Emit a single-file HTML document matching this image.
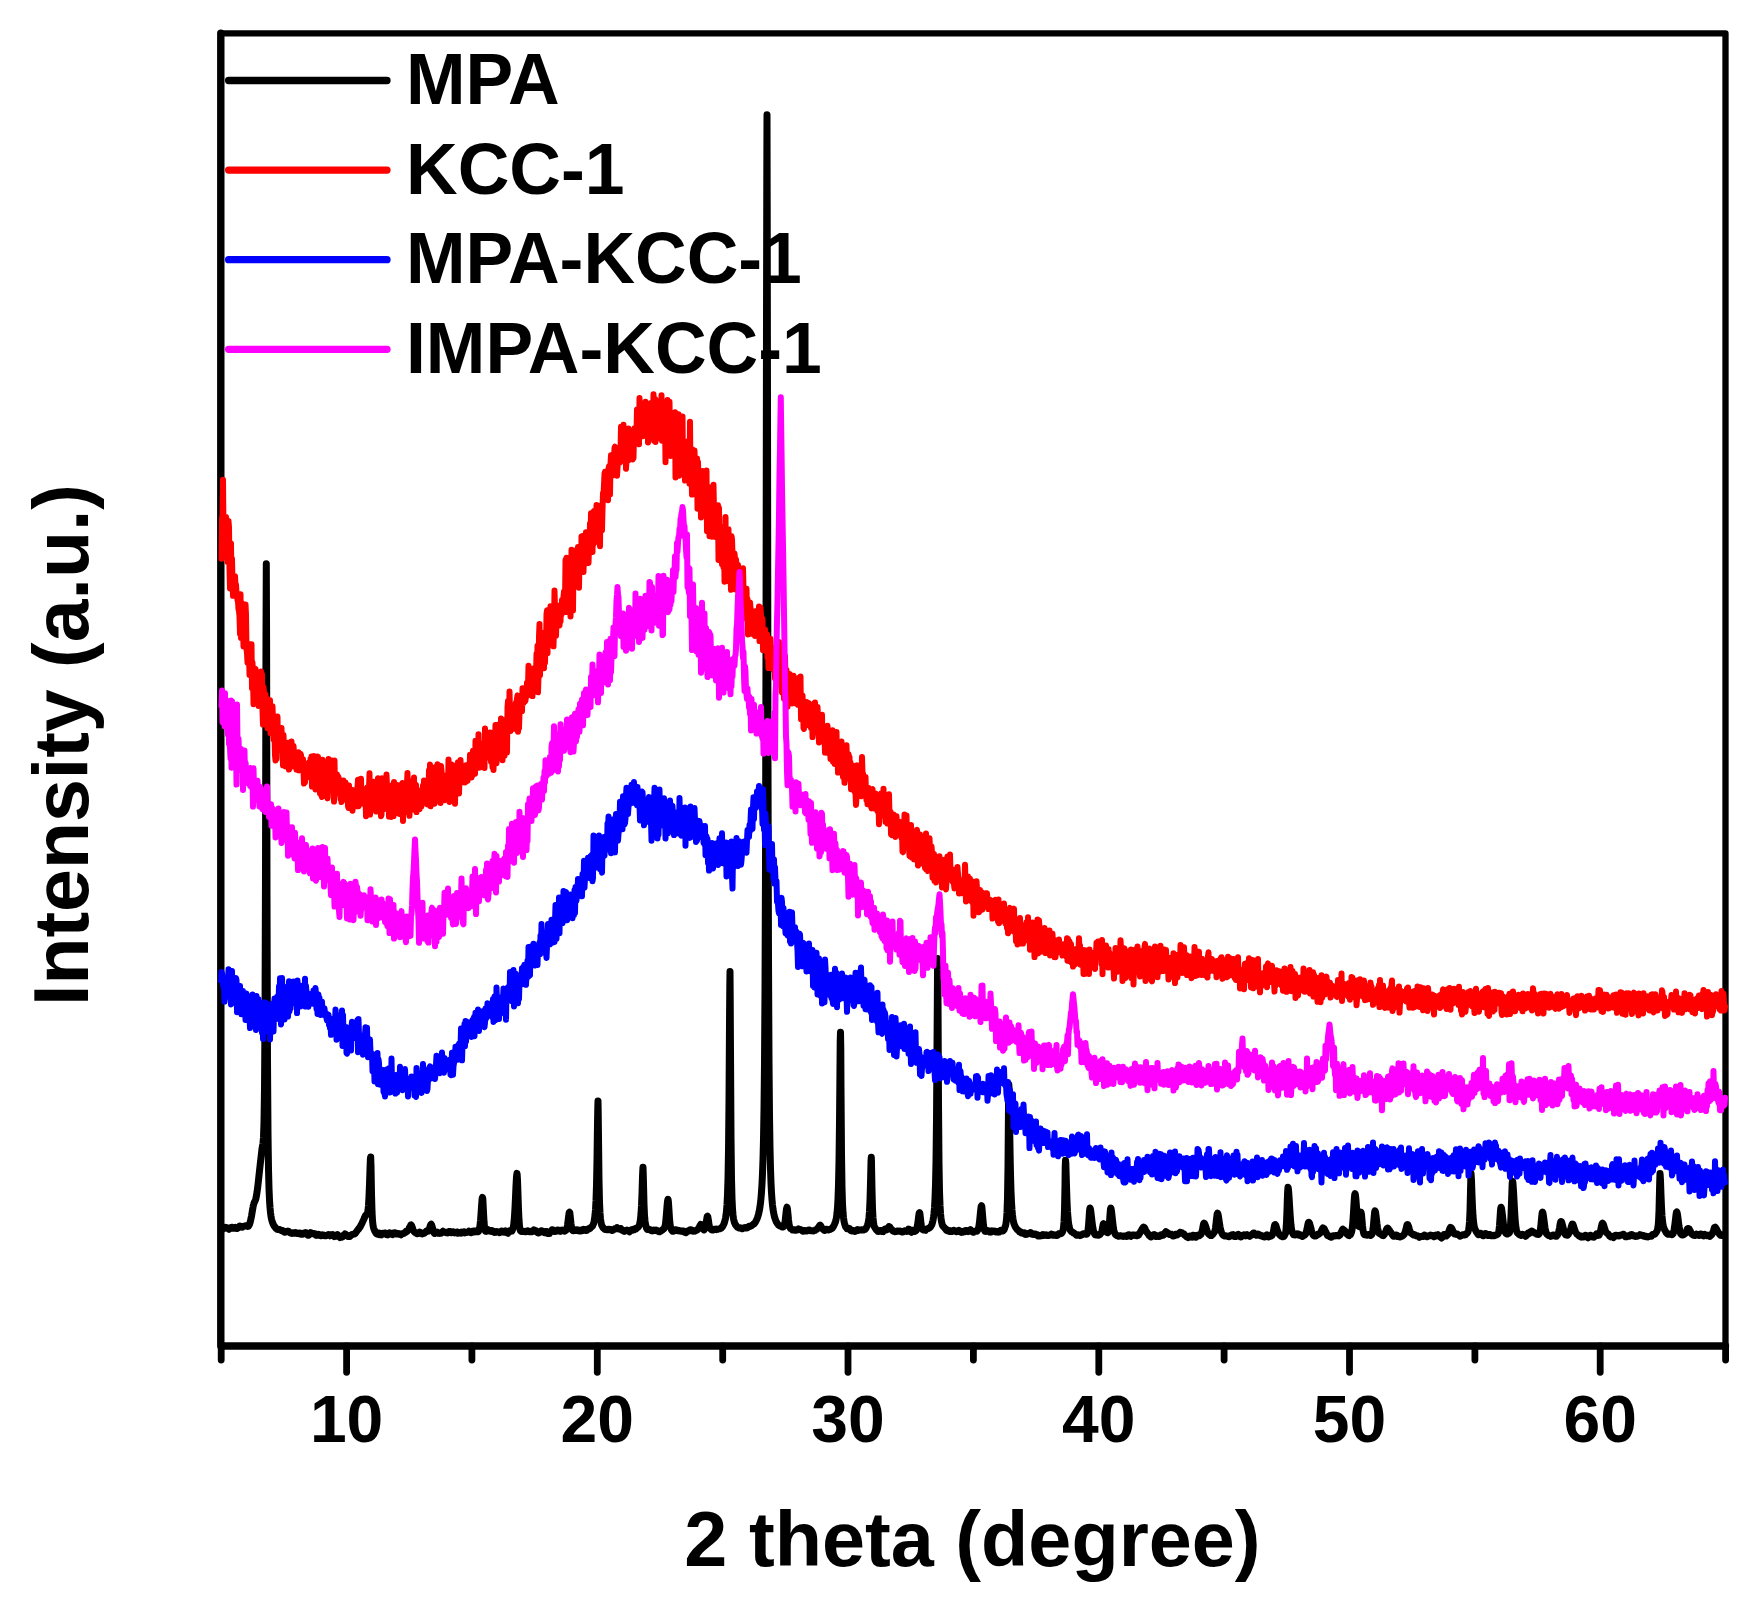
<!DOCTYPE html>
<html lang="en"><head><meta charset="utf-8"><title>XRD patterns</title>
<style>html,body{margin:0;padding:0;background:#fff}svg{display:block}</style></head>
<body>
<svg width="1760" height="1611" viewBox="0 0 1760 1611">
<rect width="1760" height="1611" fill="#fff"/>
<g fill="none" stroke="#000" stroke-width="6.8" stroke-linecap="round" stroke-linejoin="round">
<path d="M221 33.3 H1725.5 V1346" stroke-width="6.3"/>
<path d="M220.8 33.3 V1346 H1725.5" stroke-width="7.4"/>
<path d="M221.2 1346 V1360"/>
<path d="M346.6 1346 V1372.3"/>
<path d="M471.9 1346 V1360"/>
<path d="M597.3 1346 V1372.3"/>
<path d="M722.7 1346 V1360"/>
<path d="M848.0 1346 V1372.3"/>
<path d="M973.4 1346 V1360"/>
<path d="M1098.8 1346 V1372.3"/>
<path d="M1224.1 1346 V1360"/>
<path d="M1349.5 1346 V1372.3"/>
<path d="M1474.9 1346 V1360"/>
<path d="M1600.2 1346 V1372.3"/>
<path d="M1725.6 1346 V1360"/>
</g>
<g fill="none" stroke-linejoin="round" stroke-linecap="round">
<path d="M222.5 1229.3 L223.0 1228.7 L223.5 1228.6 L224.0 1227.9 L224.5 1227.7 L225.0 1227.4 L225.5 1228.0 L226.0 1227.9 L226.5 1227.6 L227.0 1227.9 L227.5 1228.4 L228.0 1228.9 L228.5 1229.0 L229.0 1229.3 L229.5 1228.8 L230.0 1228.1 L230.5 1227.8 L231.0 1227.5 L231.5 1227.2 L232.0 1227.3 L232.5 1228.2 L233.0 1227.9 L233.5 1227.9 L234.0 1228.1 L234.5 1228.3 L235.0 1227.8 L235.5 1227.4 L236.0 1227.6 L236.5 1228.0 L237.0 1228.4 L237.5 1228.0 L238.0 1228.0 L238.5 1227.8 L239.0 1226.9 L239.5 1226.1 L240.0 1226.1 L240.5 1226.5 L241.0 1226.6 L241.5 1226.8 L242.0 1227.1 L242.5 1227.2 L243.0 1226.4 L243.5 1226.2 L244.0 1226.4 L244.5 1225.9 L245.0 1225.9 L245.5 1225.7 L246.0 1225.7 L246.5 1225.9 L247.0 1226.1 L247.5 1226.1 L248.0 1226.4 L248.5 1226.3 L249.0 1225.3 L249.5 1224.4 L250.0 1222.8 L250.5 1220.9 L251.0 1218.5 L251.5 1216.1 L252.0 1213.1 L252.5 1210.1 L253.0 1207.3 L253.2 1206.0 L253.5 1204.9 L253.8 1203.9 L254.0 1203.1 L254.5 1202.0 L255.0 1201.1 L255.5 1199.8 L256.0 1198.0 L256.5 1195.5 L257.0 1192.4 L257.5 1188.7 L258.0 1184.6 L258.5 1180.1 L259.0 1175.5 L259.5 1170.9 L260.0 1166.4 L260.5 1161.9 L261.0 1157.6 L261.5 1153.2 L261.6 1152.8 L261.8 1150.4 L262.0 1148.7 L262.1 1148.4 L262.5 1145.9 L263.0 1143.3 L263.5 1137.2 L264.0 1122.4 L264.5 1089.1 L265.0 1018.0 L265.5 870.0 L266.0 635.6 L266.1 615.2 L266.3 563.7 L266.5 614.4 L266.6 639.5 L267.0 897.0 L267.5 1060.8 L268.0 1133.5 L268.5 1169.0 L269.0 1188.4 L269.5 1200.1 L270.0 1207.5 L270.5 1212.7 L271.0 1216.3 L271.5 1219.0 L272.0 1221.0 L272.5 1222.5 L273.0 1223.8 L273.5 1224.9 L274.0 1225.8 L274.5 1226.3 L275.0 1227.1 L275.5 1227.8 L276.0 1228.4 L276.5 1228.5 L277.0 1229.2 L277.5 1229.3 L278.0 1229.5 L278.5 1229.5 L279.0 1229.5 L279.5 1229.4 L280.0 1229.8 L280.5 1229.9 L281.0 1230.3 L281.5 1230.7 L282.0 1230.6 L282.5 1230.6 L283.0 1231.3 L283.5 1231.5 L284.0 1231.7 L284.5 1232.2 L285.0 1232.2 L285.5 1231.6 L286.0 1231.7 L286.5 1231.8 L287.0 1231.2 L287.5 1231.2 L288.0 1231.4 L288.5 1231.3 L289.0 1231.9 L289.5 1232.2 L290.0 1232.8 L290.5 1233.0 L291.0 1233.0 L291.5 1232.9 L292.0 1233.4 L292.5 1232.9 L293.0 1233.2 L293.5 1232.9 L294.0 1232.8 L294.5 1232.7 L295.0 1233.1 L295.5 1232.6 L296.0 1233.1 L296.5 1233.0 L297.0 1233.4 L297.5 1233.1 L298.0 1233.4 L298.5 1233.4 L299.0 1233.1 L299.5 1233.7 L300.0 1234.0 L300.5 1233.5 L301.0 1234.1 L301.5 1234.2 L302.0 1233.4 L302.5 1233.8 L303.0 1234.1 L303.5 1233.5 L304.0 1233.7 L304.5 1233.5 L305.0 1232.7 L305.5 1232.6 L306.0 1232.7 L306.5 1233.2 L307.0 1233.5 L307.5 1234.7 L308.0 1235.3 L308.5 1235.2 L309.0 1234.9 L309.5 1234.0 L310.0 1233.1 L310.5 1232.6 L311.0 1232.9 L311.5 1233.1 L312.0 1233.6 L312.5 1233.8 L313.0 1233.6 L313.5 1233.5 L314.0 1233.4 L314.5 1233.8 L315.0 1233.7 L315.5 1234.9 L316.0 1235.4 L316.5 1235.3 L317.0 1235.0 L317.5 1235.2 L318.0 1234.6 L318.5 1234.2 L319.0 1234.4 L319.5 1234.9 L320.0 1235.5 L320.5 1235.8 L321.0 1235.8 L321.5 1235.8 L322.0 1235.4 L322.5 1234.8 L323.0 1235.1 L323.5 1235.0 L324.0 1235.5 L324.5 1235.5 L325.0 1235.8 L325.5 1235.6 L326.0 1235.8 L326.5 1235.2 L327.0 1235.3 L327.5 1235.1 L328.0 1234.7 L328.5 1234.5 L329.0 1234.9 L329.5 1234.9 L330.0 1235.7 L330.5 1234.9 L331.0 1235.1 L331.5 1234.8 L332.0 1234.7 L332.5 1234.5 L333.0 1235.7 L333.5 1235.6 L334.0 1235.5 L334.5 1236.6 L335.0 1236.3 L335.5 1236.2 L336.0 1236.2 L336.5 1236.1 L337.0 1234.8 L337.5 1234.6 L338.0 1235.3 L338.5 1235.8 L339.0 1236.0 L339.5 1236.8 L340.0 1237.5 L340.5 1236.9 L341.0 1237.2 L341.5 1237.3 L342.0 1237.0 L342.5 1237.0 L343.0 1236.1 L343.5 1235.2 L344.0 1235.0 L344.5 1234.6 L345.0 1234.0 L345.5 1234.6 L346.0 1234.6 L346.5 1235.3 L347.0 1235.8 L347.5 1235.8 L348.0 1236.4 L348.5 1236.4 L349.0 1235.9 L349.5 1235.7 L350.0 1236.2 L350.5 1235.3 L351.0 1235.4 L351.5 1235.1 L352.0 1234.5 L352.5 1234.2 L353.0 1234.2 L353.5 1234.1 L354.0 1234.0 L354.5 1234.1 L355.0 1233.5 L355.5 1233.4 L356.0 1232.3 L356.5 1231.7 L357.0 1230.9 L357.5 1230.4 L358.0 1229.6 L358.5 1229.2 L359.0 1228.3 L359.5 1227.8 L360.0 1227.1 L360.5 1226.1 L361.0 1225.1 L361.5 1224.2 L362.0 1223.2 L362.5 1222.1 L363.0 1221.0 L363.5 1220.0 L364.0 1218.9 L364.5 1217.8 L365.0 1216.5 L365.2 1216.0 L365.5 1215.4 L365.8 1215.1 L366.0 1214.9 L366.5 1214.7 L367.0 1214.3 L367.5 1213.2 L368.0 1210.5 L368.5 1205.3 L369.0 1196.7 L369.5 1184.2 L370.0 1169.2 L370.4 1158.7 L370.5 1158.1 L370.7 1157.0 L370.9 1163.3 L371.0 1165.7 L371.5 1193.6 L372.0 1211.5 L372.5 1220.4 L373.0 1225.1 L373.5 1227.7 L374.0 1229.3 L374.5 1230.1 L375.0 1231.6 L375.5 1232.2 L376.0 1233.2 L376.5 1233.7 L377.0 1234.0 L377.5 1233.1 L378.0 1233.0 L378.5 1233.1 L379.0 1233.0 L379.5 1233.6 L380.0 1234.7 L380.5 1234.4 L381.0 1234.2 L381.5 1234.8 L382.0 1234.4 L382.5 1233.5 L383.0 1233.9 L383.5 1233.7 L384.0 1233.2 L384.5 1233.1 L385.0 1233.8 L385.5 1233.1 L386.0 1233.5 L386.5 1233.9 L387.0 1234.6 L387.5 1234.1 L388.0 1234.9 L388.5 1233.6 L389.0 1233.2 L389.5 1232.7 L390.0 1232.9 L390.5 1232.9 L391.0 1233.9 L391.5 1234.1 L392.0 1234.2 L392.5 1234.6 L393.0 1233.8 L393.5 1233.3 L394.0 1232.8 L394.5 1232.8 L395.0 1232.7 L395.5 1233.9 L396.0 1234.0 L396.5 1234.0 L397.0 1234.0 L397.5 1233.9 L398.0 1233.5 L398.5 1233.6 L399.0 1234.2 L399.5 1233.9 L400.0 1234.4 L400.5 1234.2 L401.0 1234.8 L401.5 1233.8 L402.0 1234.1 L402.5 1233.5 L403.0 1233.6 L403.5 1233.5 L404.0 1233.5 L404.5 1232.8 L405.0 1232.6 L405.5 1232.5 L406.0 1231.4 L406.5 1231.6 L407.0 1231.4 L407.5 1231.0 L408.0 1230.2 L408.5 1229.9 L409.0 1228.6 L409.5 1227.6 L410.0 1226.5 L410.5 1225.6 L410.8 1225.0 L411.0 1224.9 L411.2 1225.1 L411.5 1225.4 L412.0 1226.6 L412.5 1228.3 L413.0 1229.7 L413.5 1230.7 L414.0 1231.5 L414.5 1231.9 L415.0 1232.5 L415.5 1232.5 L416.0 1233.1 L416.5 1233.4 L417.0 1233.8 L417.5 1233.5 L418.0 1233.6 L418.5 1233.3 L419.0 1232.9 L419.5 1232.1 L420.0 1232.3 L420.5 1232.8 L421.0 1233.3 L421.5 1233.8 L422.0 1233.9 L422.5 1233.7 L423.0 1233.2 L423.5 1233.0 L424.0 1232.9 L424.5 1233.1 L425.0 1232.3 L425.5 1232.3 L426.0 1232.0 L426.5 1231.0 L427.0 1230.7 L427.5 1231.3 L428.0 1231.3 L428.5 1230.5 L429.0 1229.8 L429.5 1228.5 L430.0 1226.5 L430.5 1225.0 L430.8 1224.6 L431.0 1224.4 L431.2 1224.2 L431.5 1224.7 L432.0 1226.1 L432.5 1227.9 L433.0 1229.7 L433.5 1231.3 L434.0 1232.8 L434.5 1233.4 L435.0 1233.0 L435.5 1232.9 L436.0 1233.0 L436.5 1232.6 L437.0 1232.3 L437.5 1233.2 L438.0 1233.1 L438.5 1233.1 L439.0 1233.3 L439.5 1233.4 L440.0 1232.9 L440.5 1233.2 L441.0 1233.2 L441.5 1232.6 L442.0 1232.4 L442.5 1232.0 L443.0 1231.3 L443.5 1232.1 L444.0 1232.0 L444.5 1232.2 L445.0 1232.3 L445.5 1232.3 L446.0 1232.2 L446.5 1232.8 L447.0 1232.6 L447.5 1233.0 L448.0 1232.9 L448.5 1232.1 L449.0 1231.5 L449.5 1231.4 L450.0 1231.5 L450.5 1232.0 L451.0 1232.4 L451.5 1232.7 L452.0 1232.5 L452.5 1232.3 L453.0 1231.8 L453.5 1231.9 L454.0 1232.2 L454.5 1232.9 L455.0 1232.8 L455.5 1232.5 L456.0 1232.5 L456.5 1232.7 L457.0 1232.0 L457.5 1232.1 L458.0 1233.2 L458.5 1232.4 L459.0 1232.6 L459.5 1233.0 L460.0 1232.6 L460.5 1232.6 L461.0 1233.1 L461.5 1232.3 L462.0 1232.7 L462.5 1232.4 L463.0 1232.5 L463.5 1232.1 L464.0 1232.4 L464.5 1232.0 L465.0 1232.8 L465.5 1232.5 L466.0 1232.4 L466.5 1232.6 L467.0 1232.6 L467.5 1232.2 L468.0 1231.8 L468.5 1231.8 L469.0 1231.2 L469.5 1231.6 L470.0 1231.8 L470.5 1232.2 L471.0 1232.7 L471.5 1232.6 L472.0 1231.6 L472.5 1231.4 L473.0 1231.1 L473.5 1230.9 L474.0 1231.0 L474.5 1231.9 L475.0 1231.5 L475.5 1230.9 L476.0 1230.9 L476.5 1231.7 L477.0 1231.4 L477.5 1231.5 L478.0 1231.7 L478.5 1231.4 L479.0 1230.2 L479.5 1228.4 L480.0 1225.6 L480.5 1220.8 L481.0 1214.3 L481.5 1206.7 L482.0 1200.2 L482.2 1198.2 L482.5 1197.5 L482.8 1198.8 L483.0 1202.3 L483.5 1212.3 L484.0 1221.4 L484.5 1227.1 L485.0 1230.2 L485.5 1231.3 L486.0 1231.4 L486.5 1231.0 L487.0 1230.8 L487.5 1230.1 L488.0 1229.6 L488.5 1230.2 L489.0 1230.8 L489.5 1231.0 L490.0 1231.1 L490.5 1231.2 L491.0 1230.7 L491.5 1231.2 L492.0 1230.6 L492.5 1231.0 L493.0 1231.8 L493.5 1232.1 L494.0 1231.4 L494.5 1232.4 L495.0 1232.0 L495.5 1231.9 L496.0 1232.3 L496.5 1232.1 L497.0 1231.6 L497.5 1232.0 L498.0 1232.1 L498.5 1232.1 L499.0 1232.6 L499.5 1232.7 L500.0 1232.2 L500.5 1232.0 L501.0 1231.6 L501.5 1231.0 L502.0 1231.2 L502.5 1231.7 L503.0 1232.0 L503.5 1231.5 L504.0 1232.0 L504.5 1231.6 L505.0 1231.3 L505.5 1230.9 L506.0 1231.6 L506.5 1232.5 L507.0 1232.8 L507.5 1233.1 L508.0 1233.3 L508.5 1232.3 L509.0 1231.5 L509.5 1230.9 L510.0 1231.1 L510.5 1231.1 L511.0 1231.3 L511.5 1230.6 L512.0 1230.9 L512.5 1229.8 L513.0 1228.3 L513.5 1226.1 L514.0 1222.2 L514.5 1216.1 L515.0 1207.7 L515.5 1197.2 L516.0 1186.0 L516.5 1177.0 L516.8 1174.4 L517.0 1173.4 L517.2 1175.2 L517.5 1180.0 L518.0 1194.7 L518.5 1209.3 L519.0 1219.9 L519.5 1226.0 L520.0 1229.3 L520.5 1230.8 L521.0 1231.3 L521.5 1231.5 L522.0 1231.4 L522.5 1231.2 L523.0 1231.1 L523.5 1231.4 L524.0 1231.4 L524.5 1231.6 L525.0 1231.4 L525.5 1231.7 L526.0 1231.3 L526.5 1231.5 L527.0 1231.3 L527.5 1231.5 L528.0 1230.9 L528.5 1231.6 L529.0 1231.6 L529.5 1231.8 L530.0 1231.6 L530.5 1231.6 L531.0 1231.3 L531.5 1231.7 L532.0 1231.3 L532.5 1231.3 L533.0 1231.4 L533.5 1231.0 L534.0 1229.9 L534.5 1230.4 L535.0 1230.9 L535.5 1230.5 L536.0 1230.7 L536.5 1231.6 L537.0 1232.0 L537.5 1231.6 L538.0 1232.9 L538.5 1233.0 L539.0 1232.4 L539.5 1232.4 L540.0 1232.1 L540.5 1231.7 L541.0 1231.0 L541.5 1231.6 L542.0 1231.0 L542.5 1231.8 L543.0 1231.7 L543.5 1232.3 L544.0 1232.1 L544.5 1232.6 L545.0 1231.6 L545.5 1231.5 L546.0 1231.5 L546.5 1231.7 L547.0 1231.6 L547.5 1233.4 L548.0 1233.3 L548.5 1233.5 L549.0 1233.3 L549.5 1233.5 L550.0 1231.6 L550.5 1232.1 L551.0 1231.6 L551.5 1230.8 L552.0 1229.8 L552.5 1230.5 L553.0 1229.9 L553.5 1230.1 L554.0 1231.2 L554.5 1231.5 L555.0 1231.6 L555.5 1230.8 L556.0 1230.9 L556.5 1231.0 L557.0 1230.8 L557.5 1230.2 L558.0 1230.5 L558.5 1230.8 L559.0 1230.3 L559.5 1230.2 L560.0 1230.5 L560.5 1231.2 L561.0 1230.4 L561.5 1230.3 L562.0 1230.0 L562.5 1230.2 L563.0 1230.2 L563.5 1230.3 L564.0 1230.8 L564.5 1231.2 L565.0 1231.1 L565.5 1230.6 L566.0 1230.2 L566.5 1229.3 L567.0 1227.8 L567.5 1225.1 L568.0 1221.5 L568.5 1217.3 L569.0 1213.7 L569.2 1212.6 L569.5 1212.3 L569.8 1212.7 L570.0 1214.3 L570.5 1219.1 L571.0 1223.7 L571.5 1227.2 L572.0 1229.5 L572.5 1230.3 L573.0 1229.8 L573.5 1230.7 L574.0 1230.0 L574.5 1229.8 L575.0 1230.1 L575.5 1230.4 L576.0 1229.7 L576.5 1229.7 L577.0 1229.8 L577.5 1229.8 L578.0 1230.2 L578.5 1230.7 L579.0 1230.9 L579.5 1231.0 L580.0 1230.5 L580.5 1231.0 L581.0 1230.9 L581.5 1230.4 L582.0 1230.0 L582.5 1230.6 L583.0 1229.6 L583.5 1229.3 L584.0 1230.0 L584.5 1229.9 L585.0 1229.7 L585.5 1230.5 L586.0 1230.3 L586.5 1230.4 L587.0 1230.3 L587.5 1229.6 L588.0 1229.1 L588.5 1229.2 L589.0 1228.6 L589.5 1228.8 L590.0 1228.4 L590.5 1227.8 L591.0 1227.2 L591.5 1227.0 L592.0 1226.4 L592.5 1226.0 L593.0 1224.9 L593.5 1223.7 L594.0 1221.9 L594.5 1219.1 L595.0 1215.3 L595.5 1209.7 L596.0 1200.7 L596.5 1185.4 L597.0 1159.7 L597.5 1123.2 L597.8 1107.3 L598.0 1100.9 L598.2 1112.4 L598.5 1137.4 L599.0 1180.1 L599.5 1202.1 L600.0 1213.0 L600.5 1218.9 L601.0 1222.4 L601.5 1224.7 L602.0 1225.8 L602.5 1226.8 L603.0 1227.6 L603.5 1228.3 L604.0 1228.6 L604.5 1229.1 L605.0 1229.5 L605.5 1229.4 L606.0 1229.4 L606.5 1229.8 L607.0 1229.7 L607.5 1229.5 L608.0 1229.3 L608.5 1229.7 L609.0 1229.4 L609.5 1229.2 L610.0 1229.5 L610.5 1229.6 L611.0 1229.5 L611.5 1230.0 L612.0 1230.5 L612.5 1230.2 L613.0 1230.3 L613.5 1229.4 L614.0 1229.5 L614.5 1228.9 L615.0 1228.5 L615.5 1228.8 L616.0 1228.7 L616.5 1228.1 L616.8 1228.0 L617.0 1228.1 L617.2 1227.6 L617.5 1227.7 L618.0 1228.3 L618.5 1228.9 L619.0 1228.6 L619.5 1228.7 L620.0 1229.2 L620.5 1229.0 L621.0 1228.7 L621.5 1230.0 L622.0 1230.2 L622.5 1230.5 L623.0 1230.6 L623.5 1230.9 L624.0 1230.6 L624.5 1231.4 L625.0 1231.0 L625.5 1230.8 L626.0 1230.8 L626.5 1230.8 L627.0 1230.1 L627.5 1230.6 L628.0 1231.1 L628.5 1231.3 L629.0 1231.2 L629.5 1231.7 L630.0 1231.1 L630.5 1230.4 L631.0 1230.0 L631.5 1229.9 L632.0 1229.6 L632.5 1230.2 L633.0 1229.9 L633.5 1229.6 L634.0 1229.2 L634.5 1229.6 L635.0 1228.9 L635.5 1229.1 L636.0 1228.9 L636.5 1228.6 L637.0 1227.7 L637.5 1227.5 L638.0 1227.2 L638.5 1226.7 L639.0 1225.7 L639.5 1224.8 L640.0 1222.4 L640.5 1219.0 L641.0 1213.9 L641.5 1206.0 L642.0 1193.3 L642.5 1176.6 L642.8 1169.9 L643.0 1167.3 L643.2 1172.4 L643.5 1183.6 L644.0 1204.2 L644.5 1215.3 L645.0 1220.9 L645.5 1224.2 L646.0 1226.3 L646.5 1228.1 L647.0 1228.9 L647.5 1229.6 L648.0 1229.6 L648.5 1229.6 L649.0 1229.5 L649.5 1229.4 L650.0 1229.4 L650.5 1230.2 L651.0 1230.6 L651.5 1230.4 L652.0 1230.5 L652.5 1230.8 L653.0 1230.2 L653.5 1230.1 L654.0 1230.3 L654.5 1230.6 L655.0 1230.5 L655.5 1230.6 L656.0 1230.2 L656.5 1230.7 L657.0 1230.7 L657.5 1230.6 L658.0 1230.8 L658.5 1231.4 L659.0 1231.3 L659.5 1231.7 L660.0 1231.3 L660.5 1231.2 L661.0 1231.0 L661.5 1230.6 L662.0 1230.3 L662.5 1230.0 L663.0 1229.3 L663.5 1229.0 L664.0 1228.7 L664.5 1227.7 L665.0 1226.3 L665.5 1223.6 L666.0 1218.9 L666.5 1213.0 L667.0 1206.6 L667.5 1201.4 L667.8 1199.8 L668.0 1199.3 L668.2 1200.2 L668.5 1202.9 L669.0 1210.7 L669.5 1218.6 L670.0 1223.8 L670.5 1226.9 L671.0 1228.5 L671.5 1230.0 L672.0 1230.4 L672.5 1231.1 L673.0 1230.6 L673.5 1231.0 L674.0 1230.0 L674.5 1230.2 L675.0 1229.8 L675.5 1230.3 L676.0 1229.9 L676.5 1230.5 L677.0 1230.2 L677.5 1230.7 L678.0 1230.5 L678.5 1230.6 L679.0 1230.6 L679.5 1230.6 L680.0 1230.9 L680.5 1230.9 L681.0 1230.9 L681.5 1231.2 L682.0 1231.0 L682.5 1231.0 L683.0 1231.6 L683.5 1231.1 L684.0 1231.3 L684.5 1232.1 L685.0 1231.9 L685.5 1231.9 L686.0 1232.6 L686.5 1231.6 L687.0 1231.3 L687.5 1231.3 L688.0 1230.9 L688.5 1230.6 L689.0 1230.9 L689.5 1230.2 L690.0 1229.8 L690.5 1229.9 L691.0 1229.8 L691.5 1230.0 L692.0 1230.3 L692.5 1230.8 L693.0 1231.2 L693.5 1231.1 L694.0 1230.9 L694.5 1230.8 L695.0 1231.1 L695.5 1230.5 L696.0 1230.2 L696.5 1230.3 L697.0 1230.0 L697.5 1229.7 L698.0 1228.9 L698.5 1228.8 L699.0 1227.9 L699.5 1226.8 L700.0 1225.6 L700.5 1224.8 L700.8 1224.4 L701.0 1224.5 L701.2 1224.7 L701.5 1225.0 L702.0 1226.6 L702.5 1227.6 L703.0 1228.5 L703.5 1229.2 L704.0 1229.9 L704.5 1229.2 L705.0 1228.5 L705.5 1227.0 L706.0 1224.0 L706.5 1220.6 L707.0 1217.5 L707.2 1216.4 L707.5 1216.2 L707.8 1216.7 L708.0 1217.8 L708.5 1220.9 L709.0 1224.4 L709.5 1226.7 L710.0 1228.3 L710.5 1228.8 L711.0 1229.3 L711.5 1229.7 L712.0 1229.8 L712.5 1230.1 L713.0 1230.0 L713.5 1230.0 L714.0 1229.3 L714.5 1229.5 L715.0 1229.3 L715.5 1229.3 L716.0 1229.1 L716.5 1229.6 L717.0 1229.3 L717.5 1229.3 L718.0 1229.2 L718.5 1229.1 L719.0 1228.9 L719.5 1228.7 L720.0 1228.7 L720.5 1228.6 L721.0 1228.3 L721.5 1227.5 L722.0 1227.3 L722.5 1226.8 L723.0 1225.8 L723.5 1224.8 L724.0 1223.7 L724.5 1222.3 L725.0 1220.3 L725.5 1218.3 L726.0 1215.1 L726.5 1210.9 L727.0 1204.5 L727.5 1194.7 L728.0 1178.6 L728.5 1150.8 L729.0 1101.0 L729.5 1023.3 L729.8 986.8 L730.0 971.5 L730.2 997.4 L730.5 1051.1 L731.0 1137.1 L731.5 1178.5 L732.0 1198.3 L732.5 1208.9 L733.0 1214.9 L733.5 1218.8 L734.0 1221.0 L734.5 1222.7 L735.0 1223.6 L735.5 1224.8 L736.0 1225.4 L736.5 1226.1 L737.0 1226.6 L737.5 1227.4 L738.0 1227.5 L738.5 1227.7 L739.0 1227.9 L739.5 1227.8 L740.0 1227.7 L740.5 1228.3 L741.0 1228.1 L741.5 1228.6 L742.0 1228.7 L742.5 1228.8 L743.0 1228.2 L743.5 1228.2 L744.0 1227.7 L744.5 1227.8 L745.0 1227.5 L745.5 1227.8 L746.0 1227.5 L746.5 1228.0 L747.0 1227.9 L747.5 1227.7 L748.0 1227.1 L748.5 1226.8 L749.0 1226.3 L749.5 1226.4 L750.0 1226.1 L750.5 1225.9 L751.0 1226.1 L751.5 1225.7 L752.0 1225.2 L752.5 1224.9 L753.0 1224.6 L753.5 1224.1 L754.0 1223.9 L754.5 1223.2 L755.0 1222.7 L755.5 1222.0 L756.0 1221.0 L756.5 1220.0 L757.0 1218.8 L757.5 1217.6 L758.0 1215.9 L758.5 1214.2 L759.0 1212.2 L759.5 1209.8 L760.0 1206.6 L760.5 1202.8 L761.0 1198.0 L761.5 1191.9 L762.0 1184.0 L762.5 1173.5 L763.0 1159.3 L763.5 1139.0 L764.0 1109.4 L764.5 1063.8 L765.0 990.0 L765.5 864.0 L766.0 645.8 L766.5 321.1 L766.8 174.7 L767.0 114.8 L767.2 203.7 L767.5 401.8 L768.0 762.9 L768.5 959.8 L769.0 1060.4 L769.5 1115.5 L770.0 1148.2 L770.5 1168.9 L771.0 1182.9 L771.5 1192.7 L772.0 1199.7 L772.5 1205.1 L773.0 1209.1 L773.5 1212.2 L774.0 1214.8 L774.5 1216.9 L775.0 1218.4 L775.5 1219.9 L776.0 1221.1 L776.5 1222.2 L777.0 1223.0 L777.5 1223.9 L778.0 1224.4 L778.5 1225.2 L779.0 1225.3 L779.5 1225.6 L780.0 1225.9 L780.5 1226.1 L781.0 1226.2 L781.5 1226.6 L782.0 1227.0 L782.5 1227.0 L783.0 1227.1 L783.5 1226.8 L784.0 1226.1 L784.5 1224.7 L785.0 1222.1 L785.5 1217.9 L786.0 1213.1 L786.5 1209.0 L786.8 1207.7 L787.0 1207.2 L787.2 1207.9 L787.5 1209.5 L788.0 1214.4 L788.5 1219.7 L789.0 1223.9 L789.5 1226.3 L790.0 1227.6 L790.5 1228.5 L791.0 1228.6 L791.5 1228.9 L792.0 1229.3 L792.5 1230.0 L793.0 1229.8 L793.5 1229.8 L794.0 1229.8 L794.5 1230.1 L795.0 1229.8 L795.5 1229.9 L796.0 1230.3 L796.5 1230.0 L797.0 1229.7 L797.5 1229.8 L798.0 1229.7 L798.5 1228.9 L799.0 1229.3 L799.5 1229.6 L800.0 1229.5 L800.5 1229.4 L801.0 1229.8 L801.5 1230.3 L802.0 1230.6 L802.5 1231.0 L803.0 1231.2 L803.5 1231.0 L804.0 1230.6 L804.5 1230.6 L805.0 1230.5 L805.5 1230.7 L806.0 1231.0 L806.5 1231.1 L807.0 1231.1 L807.5 1230.6 L808.0 1230.3 L808.5 1230.1 L809.0 1230.3 L809.5 1230.0 L810.0 1230.5 L810.5 1230.4 L811.0 1230.7 L811.5 1230.7 L812.0 1230.8 L812.5 1230.7 L813.0 1230.9 L813.5 1231.0 L814.0 1230.6 L814.5 1230.6 L815.0 1230.4 L815.5 1230.0 L816.0 1229.6 L816.5 1229.5 L817.0 1228.9 L817.5 1228.7 L818.0 1228.0 L818.5 1227.3 L819.0 1226.5 L819.5 1225.8 L819.8 1225.4 L820.0 1225.2 L820.2 1225.1 L820.5 1225.3 L821.0 1226.4 L821.5 1227.2 L822.0 1228.0 L822.5 1228.7 L823.0 1229.5 L823.5 1229.5 L824.0 1230.0 L824.5 1230.4 L825.0 1230.4 L825.5 1229.7 L826.0 1229.5 L826.5 1229.3 L827.0 1229.2 L827.5 1229.5 L828.0 1229.8 L828.5 1230.0 L829.0 1229.5 L829.5 1229.5 L830.0 1229.6 L830.5 1229.0 L831.0 1228.8 L831.5 1228.8 L832.0 1228.6 L832.5 1228.0 L833.0 1227.2 L833.5 1226.4 L834.0 1225.3 L834.5 1224.3 L835.0 1222.9 L835.5 1221.9 L836.0 1219.8 L836.5 1217.2 L837.0 1213.3 L837.5 1207.6 L838.0 1198.9 L838.5 1185.0 L839.0 1161.6 L839.5 1122.2 L840.0 1066.2 L840.2 1041.9 L840.5 1032.2 L840.8 1049.9 L841.0 1088.1 L841.5 1153.5 L842.0 1187.1 L842.5 1203.6 L843.0 1212.4 L843.5 1217.6 L844.0 1221.3 L844.5 1223.4 L845.0 1225.1 L845.5 1226.6 L846.0 1227.5 L846.5 1227.5 L847.0 1228.7 L847.5 1228.6 L848.0 1228.1 L848.5 1228.2 L849.0 1228.6 L849.5 1228.6 L850.0 1229.2 L850.5 1230.3 L851.0 1230.7 L851.5 1230.7 L852.0 1230.5 L852.5 1230.9 L853.0 1230.4 L853.5 1230.4 L854.0 1230.9 L854.5 1231.4 L855.0 1231.4 L855.5 1231.0 L856.0 1230.9 L856.5 1230.3 L857.0 1229.9 L857.5 1229.5 L858.0 1229.8 L858.5 1230.3 L859.0 1230.0 L859.5 1230.1 L860.0 1230.1 L860.5 1230.0 L861.0 1229.7 L861.5 1230.1 L862.0 1230.0 L862.5 1229.8 L863.0 1229.9 L863.5 1229.9 L864.0 1229.6 L864.5 1229.3 L865.0 1229.4 L865.5 1229.0 L866.0 1228.3 L866.5 1227.3 L867.0 1226.3 L867.5 1225.1 L868.0 1223.4 L868.5 1221.1 L869.0 1217.4 L869.5 1211.2 L870.0 1200.5 L870.5 1182.9 L871.0 1162.4 L871.0 1160.9 L871.3 1157.3 L871.5 1161.6 L871.5 1163.8 L872.0 1189.4 L872.5 1208.6 L873.0 1217.8 L873.5 1222.6 L874.0 1225.4 L874.5 1227.1 L875.0 1227.7 L875.5 1228.6 L876.0 1229.3 L876.5 1230.1 L877.0 1230.3 L877.5 1231.0 L878.0 1231.4 L878.5 1231.5 L879.0 1231.0 L879.5 1231.0 L880.0 1230.6 L880.5 1230.6 L881.0 1230.9 L881.5 1231.1 L882.0 1231.4 L882.5 1231.4 L883.0 1231.6 L883.5 1230.3 L884.0 1229.8 L884.5 1229.5 L885.0 1229.1 L885.5 1229.1 L886.0 1230.0 L886.5 1229.9 L887.0 1229.6 L887.5 1229.2 L888.0 1228.1 L888.5 1227.3 L889.0 1226.6 L889.2 1226.6 L889.5 1226.7 L889.8 1227.1 L890.0 1227.3 L890.5 1228.3 L891.0 1228.7 L891.5 1229.6 L892.0 1229.8 L892.5 1230.3 L893.0 1230.9 L893.5 1231.2 L894.0 1231.3 L894.5 1231.6 L895.0 1231.8 L895.5 1231.4 L896.0 1231.5 L896.5 1231.3 L897.0 1231.2 L897.5 1231.0 L898.0 1230.9 L898.5 1230.9 L899.0 1231.3 L899.5 1231.3 L900.0 1231.1 L900.5 1231.5 L901.0 1231.8 L901.5 1231.8 L902.0 1232.0 L902.5 1232.1 L903.0 1231.9 L903.5 1231.8 L904.0 1231.6 L904.5 1230.8 L905.0 1230.9 L905.5 1231.0 L906.0 1231.0 L906.5 1230.9 L907.0 1231.4 L907.5 1230.8 L908.0 1230.2 L908.5 1229.1 L909.0 1229.2 L909.5 1229.6 L910.0 1230.7 L910.5 1230.8 L911.0 1231.9 L911.5 1232.3 L912.0 1231.7 L912.5 1230.5 L913.0 1231.2 L913.5 1230.9 L914.0 1230.3 L914.5 1230.8 L915.0 1231.3 L915.5 1230.9 L916.0 1230.9 L916.5 1230.0 L917.0 1227.8 L917.5 1225.3 L918.0 1221.7 L918.5 1217.6 L919.0 1214.1 L919.2 1213.0 L919.5 1212.6 L919.8 1213.1 L920.0 1214.5 L920.5 1219.0 L921.0 1223.6 L921.5 1226.9 L922.0 1228.5 L922.5 1229.5 L923.0 1229.4 L923.5 1230.0 L924.0 1229.8 L924.5 1230.0 L925.0 1230.1 L925.5 1230.3 L926.0 1229.4 L926.5 1229.1 L927.0 1229.0 L927.5 1228.6 L928.0 1228.5 L928.5 1228.5 L929.0 1228.4 L929.5 1227.9 L930.0 1227.6 L930.5 1226.7 L931.0 1226.3 L931.5 1225.3 L932.0 1224.1 L932.5 1222.5 L933.0 1220.5 L933.5 1217.3 L934.0 1213.4 L934.5 1207.7 L935.0 1198.8 L935.5 1184.9 L936.0 1161.4 L936.5 1119.7 L937.0 1048.2 L937.5 974.5 L937.5 968.9 L937.7 958.4 L938.0 985.7 L938.0 996.1 L938.5 1103.8 L939.0 1163.4 L939.5 1191.2 L940.0 1205.2 L940.5 1213.3 L941.0 1218.2 L941.5 1221.6 L942.0 1223.8 L942.5 1225.4 L943.0 1226.2 L943.5 1227.0 L944.0 1227.2 L944.5 1227.7 L945.0 1228.4 L945.5 1228.8 L946.0 1229.8 L946.5 1230.3 L947.0 1229.7 L947.5 1230.0 L948.0 1230.8 L948.5 1230.4 L949.0 1230.4 L949.5 1231.4 L950.0 1231.1 L950.5 1230.8 L951.0 1231.0 L951.5 1231.4 L952.0 1231.0 L952.5 1230.8 L953.0 1231.1 L953.5 1230.3 L954.0 1230.4 L954.5 1230.6 L955.0 1231.1 L955.5 1230.8 L956.0 1231.6 L956.5 1231.8 L957.0 1231.4 L957.5 1231.3 L958.0 1231.5 L958.5 1231.1 L959.0 1230.5 L959.5 1231.4 L960.0 1231.7 L960.5 1231.3 L961.0 1232.0 L961.5 1232.4 L962.0 1232.3 L962.5 1232.3 L963.0 1231.7 L963.5 1231.3 L964.0 1231.5 L964.5 1231.6 L964.8 1231.0 L965.0 1231.4 L965.2 1231.6 L965.5 1231.0 L966.0 1230.5 L966.5 1230.4 L967.0 1231.1 L967.5 1231.2 L968.0 1231.6 L968.5 1231.3 L969.0 1231.2 L969.5 1230.5 L970.0 1230.5 L970.5 1229.7 L971.0 1230.3 L971.5 1231.4 L972.0 1231.6 L972.5 1231.4 L973.0 1232.2 L973.5 1232.3 L974.0 1231.5 L974.5 1231.6 L975.0 1231.6 L975.5 1231.1 L976.0 1230.9 L976.5 1231.1 L977.0 1231.2 L977.5 1230.3 L978.0 1229.7 L978.5 1228.2 L979.0 1225.6 L979.5 1221.8 L980.0 1217.2 L980.5 1211.9 L981.0 1207.6 L981.2 1206.3 L981.5 1205.8 L981.8 1206.4 L982.0 1208.3 L982.5 1214.2 L983.0 1220.4 L983.5 1225.3 L984.0 1228.4 L984.5 1230.4 L985.0 1231.3 L985.5 1231.4 L986.0 1231.2 L986.5 1230.9 L987.0 1230.5 L987.5 1231.0 L988.0 1230.8 L988.5 1231.2 L989.0 1231.5 L989.5 1231.9 L990.0 1231.3 L990.5 1232.0 L991.0 1231.7 L991.5 1231.9 L992.0 1231.0 L992.5 1231.3 L993.0 1231.3 L993.5 1231.0 L994.0 1231.0 L994.5 1231.3 L995.0 1231.4 L995.5 1231.2 L996.0 1231.9 L996.5 1231.7 L997.0 1231.6 L997.5 1231.8 L998.0 1232.1 L998.5 1231.5 L999.0 1231.5 L999.5 1231.9 L1000.0 1231.1 L1000.5 1230.4 L1001.0 1231.0 L1001.5 1230.6 L1002.0 1230.5 L1002.5 1230.9 L1003.0 1231.0 L1003.5 1230.1 L1004.0 1229.8 L1004.5 1228.6 L1005.0 1227.0 L1005.5 1225.9 L1006.0 1223.4 L1006.5 1219.4 L1007.0 1212.2 L1007.5 1197.9 L1008.0 1166.3 L1008.5 1106.3 L1008.5 1100.3 L1008.8 1084.4 L1009.0 1087.5 L1009.0 1089.2 L1009.5 1115.0 L1010.0 1148.7 L1010.5 1174.3 L1011.0 1191.3 L1011.5 1202.4 L1012.0 1210.1 L1012.5 1215.2 L1013.0 1219.0 L1013.5 1221.8 L1014.0 1223.8 L1014.5 1225.0 L1015.0 1226.3 L1015.5 1227.1 L1016.0 1227.9 L1016.5 1228.7 L1017.0 1229.2 L1017.5 1229.9 L1018.0 1230.4 L1018.5 1230.5 L1019.0 1231.0 L1019.5 1232.0 L1020.0 1231.9 L1020.5 1231.8 L1021.0 1232.4 L1021.5 1233.1 L1022.0 1233.1 L1022.5 1233.1 L1023.0 1233.1 L1023.5 1233.4 L1024.0 1232.9 L1024.5 1232.8 L1025.0 1233.2 L1025.5 1234.4 L1026.0 1234.2 L1026.5 1234.2 L1027.0 1234.2 L1027.5 1234.0 L1028.0 1233.7 L1028.5 1233.7 L1029.0 1233.2 L1029.5 1232.9 L1030.0 1233.0 L1030.5 1232.5 L1031.0 1232.7 L1031.5 1233.8 L1032.0 1234.3 L1032.5 1234.3 L1033.0 1234.3 L1033.5 1234.5 L1034.0 1234.1 L1034.5 1234.0 L1035.0 1234.1 L1035.5 1234.1 L1036.0 1234.6 L1036.5 1234.6 L1037.0 1234.6 L1037.5 1234.7 L1038.0 1235.9 L1038.5 1235.2 L1039.0 1235.4 L1039.5 1235.5 L1040.0 1235.9 L1040.5 1235.9 L1041.0 1235.4 L1041.5 1235.7 L1042.0 1235.5 L1042.5 1235.3 L1043.0 1234.7 L1043.5 1235.4 L1044.0 1234.8 L1044.5 1234.8 L1045.0 1235.1 L1045.5 1235.1 L1046.0 1234.8 L1046.5 1235.4 L1047.0 1235.6 L1047.5 1235.3 L1048.0 1235.5 L1048.5 1235.3 L1049.0 1235.5 L1049.5 1235.1 L1050.0 1234.7 L1050.5 1234.8 L1051.0 1234.6 L1051.5 1234.0 L1052.0 1234.3 L1052.5 1235.1 L1053.0 1234.7 L1053.5 1235.0 L1054.0 1235.2 L1054.5 1235.3 L1055.0 1234.9 L1055.5 1235.1 L1056.0 1235.6 L1056.5 1235.6 L1057.0 1235.3 L1057.5 1235.2 L1058.0 1234.8 L1058.5 1233.9 L1059.0 1233.6 L1059.5 1233.4 L1060.0 1233.6 L1060.5 1233.7 L1061.0 1233.6 L1061.5 1233.4 L1062.0 1232.6 L1062.5 1231.9 L1063.0 1230.5 L1063.5 1227.5 L1064.0 1222.0 L1064.5 1210.3 L1065.0 1185.0 L1065.2 1168.5 L1065.5 1160.3 L1065.8 1162.7 L1066.0 1169.1 L1066.5 1186.4 L1067.0 1201.3 L1067.5 1211.5 L1068.0 1218.2 L1068.5 1222.8 L1069.0 1225.8 L1069.5 1228.0 L1070.0 1229.7 L1070.5 1230.6 L1071.0 1230.9 L1071.5 1231.6 L1072.0 1231.7 L1072.5 1232.1 L1073.0 1232.4 L1073.5 1233.1 L1074.0 1233.0 L1074.5 1233.5 L1075.0 1233.7 L1075.5 1234.3 L1076.0 1234.6 L1076.5 1235.2 L1077.0 1235.2 L1077.5 1235.3 L1078.0 1235.0 L1078.5 1234.8 L1079.0 1235.1 L1079.5 1235.2 L1080.0 1235.6 L1080.5 1235.4 L1081.0 1235.3 L1081.5 1234.9 L1082.0 1234.8 L1082.5 1234.1 L1083.0 1234.3 L1083.5 1234.0 L1084.0 1233.8 L1084.5 1233.7 L1085.0 1233.7 L1085.5 1234.0 L1086.0 1234.2 L1086.5 1234.2 L1087.0 1234.2 L1087.5 1233.0 L1088.0 1230.4 L1088.5 1225.7 L1089.0 1218.7 L1089.5 1211.3 L1089.8 1208.9 L1090.0 1208.0 L1090.2 1208.4 L1090.5 1209.4 L1091.0 1212.9 L1091.5 1217.3 L1092.0 1221.7 L1092.5 1225.4 L1093.0 1228.7 L1093.5 1230.7 L1094.0 1232.3 L1094.5 1233.7 L1095.0 1234.7 L1095.5 1234.5 L1096.0 1235.1 L1096.5 1235.0 L1097.0 1234.8 L1097.5 1234.8 L1098.0 1235.3 L1098.5 1235.3 L1099.0 1235.1 L1099.5 1234.6 L1100.0 1234.5 L1100.5 1233.8 L1101.0 1233.0 L1101.5 1232.5 L1102.0 1230.7 L1102.5 1227.9 L1103.0 1225.1 L1103.2 1224.1 L1103.5 1223.7 L1103.8 1223.9 L1104.0 1224.4 L1104.5 1225.5 L1105.0 1227.3 L1105.5 1229.0 L1106.0 1230.4 L1106.5 1231.2 L1107.0 1232.4 L1107.5 1232.8 L1108.0 1232.7 L1108.5 1231.2 L1109.0 1228.3 L1109.5 1222.3 L1110.0 1214.8 L1110.5 1208.9 L1110.8 1208.1 L1111.0 1208.4 L1111.5 1211.1 L1112.0 1215.6 L1112.5 1220.4 L1113.0 1224.7 L1113.5 1228.5 L1114.0 1231.2 L1114.5 1232.5 L1115.0 1233.8 L1115.5 1234.8 L1116.0 1235.0 L1116.5 1235.3 L1117.0 1235.8 L1117.5 1235.8 L1118.0 1235.9 L1118.5 1236.2 L1119.0 1235.9 L1119.5 1236.0 L1120.0 1235.8 L1120.5 1236.0 L1121.0 1235.8 L1121.5 1236.1 L1122.0 1236.1 L1122.5 1236.3 L1123.0 1236.4 L1123.5 1236.4 L1124.0 1235.9 L1124.5 1236.0 L1125.0 1236.0 L1125.5 1235.9 L1126.0 1236.3 L1126.5 1236.5 L1127.0 1236.4 L1127.5 1235.7 L1128.0 1235.0 L1128.5 1234.8 L1129.0 1234.8 L1129.5 1234.9 L1130.0 1235.4 L1130.5 1235.7 L1131.0 1236.2 L1131.5 1235.7 L1132.0 1235.7 L1132.5 1235.1 L1133.0 1235.3 L1133.5 1235.1 L1134.0 1235.1 L1134.5 1235.0 L1135.0 1235.4 L1135.5 1235.5 L1136.0 1235.2 L1136.5 1235.8 L1137.0 1235.7 L1137.5 1235.5 L1138.0 1235.4 L1138.5 1235.1 L1139.0 1234.4 L1139.5 1233.4 L1140.0 1232.8 L1140.5 1231.7 L1141.0 1231.0 L1141.5 1230.0 L1142.0 1229.2 L1142.5 1228.4 L1143.0 1227.8 L1143.5 1227.1 L1143.8 1227.2 L1144.0 1227.3 L1144.5 1227.7 L1145.0 1228.5 L1145.5 1229.8 L1146.0 1230.8 L1146.5 1231.7 L1147.0 1232.4 L1147.5 1233.2 L1148.0 1233.7 L1148.5 1234.2 L1149.0 1235.5 L1149.5 1235.7 L1150.0 1236.0 L1150.5 1236.7 L1151.0 1236.9 L1151.5 1236.7 L1152.0 1236.3 L1152.5 1235.9 L1153.0 1235.0 L1153.5 1234.7 L1154.0 1234.6 L1154.5 1236.1 L1155.0 1236.1 L1155.5 1236.2 L1156.0 1236.5 L1156.5 1236.4 L1157.0 1235.9 L1157.5 1236.2 L1158.0 1236.0 L1158.5 1236.5 L1159.0 1236.6 L1159.5 1235.8 L1160.0 1235.8 L1160.5 1236.0 L1161.0 1234.8 L1161.5 1234.8 L1162.0 1235.2 L1162.5 1235.0 L1163.0 1234.6 L1163.5 1235.1 L1164.0 1234.4 L1164.5 1233.6 L1165.0 1232.6 L1165.5 1232.1 L1165.8 1231.8 L1166.0 1232.0 L1166.2 1232.0 L1166.5 1232.0 L1167.0 1232.5 L1167.5 1232.7 L1168.0 1233.0 L1168.5 1233.5 L1169.0 1234.4 L1169.5 1234.3 L1170.0 1234.2 L1170.5 1233.9 L1171.0 1234.1 L1171.5 1234.3 L1172.0 1235.4 L1172.5 1235.4 L1173.0 1236.1 L1173.5 1236.0 L1174.0 1235.7 L1174.5 1235.7 L1175.0 1235.3 L1175.5 1234.3 L1176.0 1234.2 L1176.5 1234.2 L1177.0 1234.0 L1177.5 1234.7 L1178.0 1234.3 L1178.5 1234.1 L1179.0 1233.3 L1179.5 1232.9 L1179.8 1232.5 L1180.0 1232.8 L1180.2 1232.5 L1180.5 1232.8 L1181.0 1232.5 L1181.5 1233.0 L1182.0 1232.8 L1182.5 1233.4 L1183.0 1233.4 L1183.5 1233.8 L1184.0 1234.1 L1184.5 1235.0 L1185.0 1235.2 L1185.5 1235.7 L1186.0 1236.3 L1186.5 1236.7 L1187.0 1236.8 L1187.5 1237.0 L1188.0 1237.6 L1188.5 1237.2 L1189.0 1237.0 L1189.5 1236.3 L1190.0 1237.0 L1190.5 1236.2 L1191.0 1236.4 L1191.5 1236.6 L1192.0 1237.0 L1192.5 1235.9 L1193.0 1235.3 L1193.5 1235.2 L1194.0 1235.4 L1194.5 1235.5 L1195.0 1236.4 L1195.5 1237.3 L1196.0 1237.2 L1196.5 1236.0 L1197.0 1235.8 L1197.5 1235.4 L1198.0 1235.1 L1198.5 1235.2 L1199.0 1235.8 L1199.5 1235.7 L1200.0 1234.9 L1200.5 1234.7 L1201.0 1234.4 L1201.5 1233.2 L1202.0 1231.6 L1202.5 1229.5 L1203.0 1226.7 L1203.5 1224.1 L1203.8 1223.4 L1204.0 1223.1 L1204.2 1223.3 L1204.5 1223.5 L1205.0 1224.5 L1205.5 1225.8 L1206.0 1227.5 L1206.5 1228.9 L1207.0 1230.4 L1207.5 1231.8 L1208.0 1233.0 L1208.5 1234.0 L1209.0 1234.3 L1209.5 1234.8 L1210.0 1235.1 L1210.5 1235.4 L1211.0 1235.2 L1211.5 1235.5 L1212.0 1235.1 L1212.5 1234.4 L1213.0 1234.0 L1213.5 1233.5 L1214.0 1232.7 L1214.5 1232.0 L1215.0 1230.6 L1215.5 1227.8 L1216.0 1223.8 L1216.5 1219.2 L1217.0 1215.1 L1217.2 1213.8 L1217.5 1213.2 L1217.8 1213.6 L1218.0 1214.3 L1218.5 1216.8 L1219.0 1220.1 L1219.5 1223.7 L1220.0 1226.7 L1220.5 1229.3 L1221.0 1231.0 L1221.5 1232.3 L1222.0 1233.5 L1222.5 1234.5 L1223.0 1235.0 L1223.5 1235.5 L1224.0 1235.4 L1224.5 1236.0 L1225.0 1235.7 L1225.5 1235.8 L1226.0 1236.0 L1226.5 1236.0 L1227.0 1236.1 L1227.5 1236.3 L1228.0 1236.5 L1228.5 1236.3 L1229.0 1236.7 L1229.5 1236.5 L1230.0 1236.2 L1230.5 1235.5 L1231.0 1235.4 L1231.5 1235.0 L1232.0 1234.8 L1232.5 1234.9 L1233.0 1234.6 L1233.5 1235.5 L1234.0 1236.4 L1234.5 1236.5 L1235.0 1235.9 L1235.5 1236.6 L1236.0 1236.5 L1236.5 1235.7 L1237.0 1235.0 L1237.5 1235.6 L1238.0 1234.9 L1238.5 1234.5 L1239.0 1235.2 L1239.5 1235.7 L1240.0 1236.3 L1240.5 1237.0 L1241.0 1237.0 L1241.5 1236.6 L1242.0 1236.1 L1242.5 1235.2 L1243.0 1234.9 L1243.5 1234.9 L1244.0 1234.8 L1244.5 1235.0 L1245.0 1235.4 L1245.5 1235.9 L1246.0 1235.8 L1246.5 1235.2 L1247.0 1234.8 L1247.5 1235.5 L1248.0 1235.5 L1248.5 1235.5 L1249.0 1236.1 L1249.5 1236.3 L1250.0 1235.4 L1250.5 1235.1 L1251.0 1235.2 L1251.5 1235.2 L1252.0 1234.6 L1252.5 1234.1 L1253.0 1233.4 L1253.5 1233.0 L1253.8 1232.9 L1254.0 1232.9 L1254.5 1233.5 L1255.0 1234.0 L1255.5 1234.7 L1256.0 1234.7 L1256.5 1235.2 L1257.0 1234.8 L1257.5 1234.9 L1258.0 1234.1 L1258.5 1234.7 L1259.0 1234.4 L1259.5 1234.7 L1260.0 1235.1 L1260.5 1235.8 L1261.0 1235.6 L1261.5 1236.1 L1262.0 1235.9 L1262.5 1235.7 L1263.0 1236.0 L1263.5 1236.3 L1264.0 1236.9 L1264.5 1237.0 L1265.0 1236.8 L1265.5 1236.3 L1266.0 1235.6 L1266.5 1235.0 L1267.0 1234.8 L1267.5 1235.5 L1268.0 1235.9 L1268.5 1236.9 L1269.0 1236.3 L1269.5 1236.6 L1270.0 1236.3 L1270.5 1236.2 L1271.0 1235.4 L1271.5 1235.8 L1272.0 1235.4 L1272.5 1234.4 L1273.0 1233.0 L1273.5 1231.0 L1274.0 1228.2 L1274.5 1225.7 L1274.8 1224.8 L1275.0 1224.5 L1275.2 1224.5 L1275.5 1224.9 L1276.0 1225.9 L1276.5 1227.6 L1277.0 1229.2 L1277.5 1230.9 L1278.0 1232.1 L1278.5 1233.1 L1279.0 1233.9 L1279.5 1234.7 L1280.0 1235.0 L1280.5 1235.6 L1281.0 1236.0 L1281.5 1235.7 L1282.0 1235.9 L1282.5 1236.6 L1283.0 1236.2 L1283.5 1236.6 L1284.0 1236.4 L1284.5 1235.5 L1285.0 1234.5 L1285.5 1233.4 L1286.0 1229.8 L1286.5 1222.3 L1287.0 1209.6 L1287.5 1194.6 L1287.8 1189.3 L1288.0 1187.2 L1288.2 1187.8 L1288.5 1189.7 L1289.0 1196.2 L1289.5 1204.5 L1290.0 1212.7 L1290.5 1219.8 L1291.0 1225.2 L1291.5 1229.1 L1292.0 1231.3 L1292.5 1232.9 L1293.0 1233.6 L1293.5 1234.6 L1294.0 1234.3 L1294.5 1234.5 L1295.0 1235.0 L1295.5 1234.9 L1296.0 1234.3 L1296.5 1234.0 L1297.0 1233.8 L1297.5 1234.0 L1298.0 1234.4 L1298.5 1234.1 L1299.0 1235.2 L1299.5 1235.1 L1300.0 1234.6 L1300.5 1235.1 L1301.0 1235.8 L1301.5 1235.3 L1302.0 1236.2 L1302.5 1236.5 L1303.0 1236.0 L1303.5 1235.7 L1304.0 1235.6 L1304.5 1235.0 L1305.0 1235.0 L1305.5 1234.2 L1306.0 1233.4 L1306.5 1231.4 L1307.0 1229.1 L1307.5 1226.4 L1308.0 1223.9 L1308.5 1222.2 L1308.8 1222.2 L1309.0 1222.4 L1309.5 1223.3 L1310.0 1225.0 L1310.5 1226.7 L1311.0 1228.7 L1311.5 1230.7 L1312.0 1232.3 L1312.5 1233.5 L1313.0 1234.9 L1313.5 1235.4 L1314.0 1235.8 L1314.5 1236.0 L1315.0 1236.1 L1315.5 1236.0 L1316.0 1235.9 L1316.5 1235.3 L1317.0 1234.7 L1317.5 1234.8 L1318.0 1234.0 L1318.5 1234.1 L1319.0 1234.0 L1319.5 1233.6 L1320.0 1233.1 L1320.5 1232.8 L1321.0 1231.9 L1321.5 1230.6 L1322.0 1229.5 L1322.5 1228.6 L1322.8 1228.3 L1323.0 1227.9 L1323.2 1228.1 L1323.5 1228.2 L1324.0 1228.6 L1324.5 1229.3 L1325.0 1230.5 L1325.5 1231.6 L1326.0 1232.4 L1326.5 1233.5 L1327.0 1234.7 L1327.5 1235.4 L1328.0 1235.2 L1328.5 1235.8 L1329.0 1236.0 L1329.5 1236.6 L1330.0 1236.4 L1330.5 1237.0 L1331.0 1237.2 L1331.5 1237.2 L1332.0 1236.1 L1332.5 1236.1 L1333.0 1236.3 L1333.5 1235.9 L1334.0 1235.8 L1334.5 1235.9 L1335.0 1235.9 L1335.5 1235.5 L1336.0 1235.8 L1336.5 1235.6 L1337.0 1235.7 L1337.5 1235.4 L1338.0 1235.3 L1338.5 1235.1 L1339.0 1235.7 L1339.5 1235.3 L1340.0 1235.0 L1340.5 1234.1 L1341.0 1232.9 L1341.5 1231.6 L1342.0 1230.6 L1342.5 1229.6 L1342.8 1229.3 L1343.0 1229.5 L1343.2 1229.7 L1343.5 1229.7 L1344.0 1229.9 L1344.5 1230.7 L1345.0 1231.2 L1345.5 1231.4 L1346.0 1232.3 L1346.5 1233.0 L1347.0 1234.2 L1347.5 1234.5 L1348.0 1234.8 L1348.5 1235.4 L1349.0 1235.6 L1349.5 1234.9 L1350.0 1234.7 L1350.5 1234.6 L1351.0 1233.4 L1351.5 1232.2 L1352.0 1229.8 L1352.5 1225.8 L1353.0 1219.9 L1353.5 1212.2 L1354.0 1203.7 L1354.5 1196.5 L1354.8 1194.3 L1355.0 1193.6 L1355.2 1194.1 L1355.5 1195.4 L1356.0 1200.4 L1356.5 1207.0 L1357.0 1213.7 L1357.5 1219.4 L1358.0 1223.8 L1358.5 1226.2 L1359.0 1226.5 L1359.5 1224.2 L1360.0 1219.5 L1360.5 1214.3 L1360.8 1212.6 L1361.0 1212.2 L1361.2 1212.9 L1361.5 1214.7 L1362.0 1220.2 L1362.5 1225.9 L1363.0 1230.1 L1363.5 1232.5 L1364.0 1234.1 L1364.5 1234.7 L1365.0 1234.7 L1365.5 1234.9 L1366.0 1235.0 L1366.5 1234.8 L1367.0 1235.2 L1367.5 1235.2 L1368.0 1234.4 L1368.5 1234.5 L1369.0 1234.5 L1369.5 1234.5 L1370.0 1234.8 L1370.5 1235.4 L1371.0 1235.2 L1371.5 1234.8 L1372.0 1234.3 L1372.5 1232.6 L1373.0 1229.4 L1373.5 1224.7 L1374.0 1218.8 L1374.5 1213.2 L1374.8 1211.4 L1375.0 1210.8 L1375.2 1211.2 L1375.5 1212.1 L1376.0 1215.4 L1376.5 1219.7 L1377.0 1224.0 L1377.5 1227.6 L1378.0 1230.3 L1378.5 1232.0 L1379.0 1233.2 L1379.5 1233.5 L1380.0 1233.8 L1380.5 1234.0 L1381.0 1234.0 L1381.5 1234.8 L1382.0 1234.9 L1382.5 1235.5 L1383.0 1235.2 L1383.5 1235.5 L1384.0 1234.8 L1384.5 1234.3 L1385.0 1233.3 L1385.5 1232.4 L1386.0 1230.8 L1386.5 1229.3 L1387.0 1228.5 L1387.2 1228.3 L1387.5 1228.1 L1387.8 1228.1 L1388.0 1228.4 L1388.5 1229.1 L1389.0 1229.6 L1389.5 1230.4 L1390.0 1231.5 L1390.5 1232.2 L1391.0 1232.6 L1391.5 1233.5 L1392.0 1234.4 L1392.5 1234.9 L1393.0 1235.7 L1393.5 1236.3 L1394.0 1236.2 L1394.5 1235.3 L1395.0 1235.2 L1395.5 1235.1 L1396.0 1235.0 L1396.5 1235.0 L1397.0 1236.4 L1397.5 1235.7 L1398.0 1235.9 L1398.5 1235.9 L1399.0 1236.4 L1399.5 1236.3 L1400.0 1237.0 L1400.5 1236.8 L1401.0 1236.5 L1401.5 1236.4 L1402.0 1236.0 L1402.5 1236.1 L1403.0 1235.5 L1403.5 1235.0 L1404.0 1234.5 L1404.5 1233.9 L1405.0 1232.4 L1405.5 1231.0 L1406.0 1229.2 L1406.5 1226.9 L1407.0 1224.9 L1407.2 1224.6 L1407.5 1224.5 L1407.8 1224.6 L1408.0 1225.1 L1408.5 1226.2 L1409.0 1227.9 L1409.5 1229.7 L1410.0 1231.3 L1410.5 1232.2 L1411.0 1233.3 L1411.5 1233.4 L1412.0 1233.9 L1412.5 1234.2 L1413.0 1234.6 L1413.5 1234.9 L1414.0 1234.5 L1414.5 1234.6 L1415.0 1235.0 L1415.5 1235.4 L1416.0 1235.5 L1416.5 1235.9 L1417.0 1235.7 L1417.5 1235.7 L1418.0 1236.0 L1418.5 1236.1 L1419.0 1236.4 L1419.5 1237.3 L1420.0 1236.7 L1420.5 1236.6 L1421.0 1236.5 L1421.5 1236.2 L1422.0 1236.3 L1422.5 1236.5 L1423.0 1236.6 L1423.5 1235.8 L1424.0 1235.7 L1424.5 1235.1 L1425.0 1235.3 L1425.5 1235.4 L1426.0 1236.0 L1426.5 1236.4 L1427.0 1236.7 L1427.5 1236.5 L1428.0 1236.1 L1428.5 1236.1 L1429.0 1236.0 L1429.5 1235.9 L1430.0 1235.5 L1430.5 1235.1 L1431.0 1235.2 L1431.5 1235.3 L1432.0 1235.3 L1432.5 1235.8 L1433.0 1236.1 L1433.5 1236.3 L1434.0 1236.7 L1434.5 1236.4 L1435.0 1236.1 L1435.5 1236.2 L1436.0 1235.2 L1436.5 1235.4 L1437.0 1235.6 L1437.5 1235.2 L1438.0 1234.8 L1438.5 1235.8 L1439.0 1235.5 L1439.5 1236.2 L1440.0 1236.8 L1440.5 1237.3 L1441.0 1237.4 L1441.5 1238.0 L1442.0 1237.0 L1442.5 1237.3 L1443.0 1236.7 L1443.5 1235.9 L1444.0 1234.6 L1444.5 1235.1 L1445.0 1234.5 L1445.5 1234.5 L1446.0 1235.2 L1446.5 1235.9 L1447.0 1235.4 L1447.5 1234.7 L1448.0 1234.3 L1448.5 1232.3 L1449.0 1230.8 L1449.5 1229.4 L1450.0 1228.3 L1450.5 1227.3 L1450.8 1227.5 L1451.0 1227.7 L1451.5 1228.1 L1452.0 1228.9 L1452.5 1230.2 L1453.0 1231.3 L1453.5 1232.4 L1454.0 1233.6 L1454.5 1234.1 L1455.0 1234.0 L1455.5 1233.9 L1456.0 1234.2 L1456.5 1234.0 L1457.0 1234.2 L1457.5 1234.1 L1458.0 1234.9 L1458.5 1235.0 L1459.0 1235.3 L1459.5 1235.7 L1460.0 1236.2 L1460.5 1236.0 L1461.0 1235.8 L1461.5 1235.5 L1462.0 1235.1 L1462.5 1234.7 L1463.0 1234.7 L1463.5 1235.0 L1464.0 1234.8 L1464.5 1234.7 L1465.0 1234.9 L1465.5 1234.8 L1466.0 1233.9 L1466.5 1233.7 L1467.0 1233.3 L1467.5 1232.5 L1468.0 1231.9 L1468.5 1230.1 L1469.0 1227.3 L1469.5 1222.0 L1470.0 1211.2 L1470.5 1190.6 L1470.8 1178.8 L1471.0 1173.4 L1471.2 1175.4 L1471.5 1180.7 L1472.0 1195.0 L1472.5 1207.3 L1473.0 1215.9 L1473.5 1221.5 L1474.0 1225.2 L1474.5 1227.6 L1475.0 1229.1 L1475.5 1230.1 L1476.0 1231.1 L1476.5 1232.1 L1477.0 1232.8 L1477.5 1233.5 L1478.0 1234.4 L1478.5 1234.7 L1479.0 1234.0 L1479.5 1234.0 L1480.0 1234.0 L1480.5 1233.3 L1481.0 1233.4 L1481.5 1233.9 L1482.0 1234.7 L1482.5 1235.1 L1483.0 1235.7 L1483.5 1235.7 L1484.0 1235.5 L1484.5 1234.4 L1485.0 1234.2 L1485.5 1233.5 L1486.0 1233.6 L1486.5 1234.3 L1487.0 1234.8 L1487.5 1235.0 L1488.0 1235.4 L1488.5 1234.9 L1489.0 1234.5 L1489.5 1234.5 L1490.0 1234.5 L1490.5 1234.9 L1491.0 1235.6 L1491.5 1235.4 L1492.0 1235.6 L1492.5 1235.8 L1493.0 1235.6 L1493.5 1235.3 L1494.0 1235.7 L1494.5 1235.7 L1495.0 1235.3 L1495.5 1234.9 L1496.0 1234.9 L1496.5 1234.9 L1497.0 1234.5 L1497.5 1234.3 L1498.0 1234.0 L1498.5 1233.0 L1499.0 1230.2 L1499.5 1225.5 L1500.0 1218.2 L1500.5 1210.6 L1500.8 1208.1 L1501.0 1207.2 L1501.2 1207.4 L1501.5 1208.3 L1502.0 1211.7 L1502.5 1215.9 L1503.0 1220.5 L1503.5 1224.6 L1504.0 1228.0 L1504.5 1230.3 L1505.0 1231.6 L1505.5 1232.7 L1506.0 1233.4 L1506.5 1233.6 L1507.0 1233.9 L1507.5 1233.9 L1508.0 1233.6 L1508.5 1233.4 L1509.0 1233.4 L1509.5 1232.5 L1510.0 1230.6 L1510.5 1225.7 L1511.0 1216.2 L1511.5 1202.4 L1512.0 1187.9 L1512.2 1182.9 L1512.5 1181.1 L1512.8 1181.9 L1513.0 1183.9 L1513.5 1191.1 L1514.0 1200.3 L1514.5 1209.7 L1515.0 1217.6 L1515.5 1223.7 L1516.0 1227.9 L1516.5 1230.7 L1517.0 1232.2 L1517.5 1233.1 L1518.0 1233.3 L1518.5 1233.8 L1519.0 1234.4 L1519.5 1234.6 L1520.0 1235.1 L1520.5 1235.0 L1521.0 1235.4 L1521.5 1235.1 L1522.0 1234.9 L1522.5 1234.4 L1523.0 1234.8 L1523.5 1234.6 L1524.0 1234.7 L1524.5 1234.8 L1525.0 1235.7 L1525.5 1236.3 L1526.0 1236.0 L1526.5 1235.6 L1527.0 1234.7 L1527.5 1234.1 L1528.0 1233.1 L1528.5 1233.3 L1529.0 1232.9 L1529.5 1233.4 L1530.0 1232.9 L1530.5 1232.2 L1531.0 1231.4 L1531.5 1231.3 L1531.8 1231.0 L1532.0 1231.0 L1532.2 1231.3 L1532.5 1231.5 L1533.0 1231.7 L1533.5 1232.1 L1534.0 1232.4 L1534.5 1233.0 L1535.0 1233.0 L1535.5 1233.5 L1536.0 1233.4 L1536.5 1234.2 L1537.0 1234.2 L1537.5 1234.3 L1538.0 1234.4 L1538.5 1234.5 L1539.0 1234.1 L1539.5 1233.2 L1540.0 1231.8 L1540.5 1228.8 L1541.0 1224.3 L1541.5 1219.0 L1542.0 1214.2 L1542.2 1212.6 L1542.5 1212.1 L1542.8 1212.6 L1543.0 1213.4 L1543.5 1216.4 L1544.0 1220.3 L1544.5 1224.2 L1545.0 1227.8 L1545.5 1230.5 L1546.0 1232.3 L1546.5 1233.7 L1547.0 1234.5 L1547.5 1234.7 L1548.0 1234.8 L1548.5 1235.5 L1549.0 1235.6 L1549.5 1235.7 L1550.0 1235.7 L1550.5 1236.3 L1551.0 1235.9 L1551.5 1235.7 L1552.0 1235.9 L1552.5 1235.5 L1553.0 1235.0 L1553.5 1235.1 L1554.0 1235.1 L1554.5 1235.4 L1555.0 1235.7 L1555.5 1236.2 L1556.0 1235.9 L1556.5 1236.1 L1557.0 1235.4 L1557.5 1235.1 L1558.0 1234.0 L1558.5 1232.7 L1559.0 1230.6 L1559.5 1228.1 L1560.0 1224.8 L1560.5 1222.4 L1560.8 1221.6 L1561.0 1221.4 L1561.2 1221.4 L1561.5 1221.9 L1562.0 1223.3 L1562.5 1225.2 L1563.0 1227.2 L1563.5 1229.5 L1564.0 1231.4 L1564.5 1232.9 L1565.0 1234.0 L1565.5 1234.7 L1566.0 1234.8 L1566.5 1235.1 L1567.0 1234.9 L1567.5 1235.2 L1568.0 1234.6 L1568.5 1234.2 L1569.0 1233.0 L1569.5 1232.3 L1570.0 1231.2 L1570.5 1229.8 L1571.0 1227.9 L1571.5 1226.0 L1572.0 1224.5 L1572.2 1224.0 L1572.5 1224.0 L1572.8 1224.2 L1573.0 1224.6 L1573.5 1225.9 L1574.0 1227.6 L1574.5 1229.1 L1575.0 1230.7 L1575.5 1231.9 L1576.0 1232.8 L1576.5 1233.5 L1577.0 1234.3 L1577.5 1234.5 L1578.0 1234.7 L1578.5 1235.3 L1579.0 1235.9 L1579.5 1236.1 L1580.0 1236.4 L1580.5 1236.7 L1581.0 1237.0 L1581.5 1236.2 L1582.0 1237.0 L1582.5 1237.0 L1583.0 1237.0 L1583.5 1237.1 L1584.0 1236.9 L1584.5 1235.7 L1585.0 1235.4 L1585.5 1235.3 L1586.0 1235.5 L1586.5 1235.5 L1587.0 1236.6 L1587.5 1237.2 L1588.0 1237.8 L1588.5 1237.3 L1589.0 1237.1 L1589.5 1235.9 L1590.0 1236.0 L1590.5 1235.3 L1591.0 1235.4 L1591.5 1236.0 L1592.0 1236.9 L1592.5 1236.9 L1593.0 1237.1 L1593.5 1237.0 L1594.0 1237.2 L1594.5 1236.4 L1595.0 1235.7 L1595.5 1235.1 L1596.0 1234.8 L1596.5 1233.9 L1597.0 1234.5 L1597.5 1234.6 L1598.0 1235.4 L1598.5 1235.3 L1599.0 1235.3 L1599.5 1234.1 L1600.0 1232.9 L1600.5 1230.9 L1601.0 1228.6 L1601.5 1226.2 L1602.0 1224.2 L1602.2 1223.6 L1602.5 1223.2 L1602.8 1223.4 L1603.0 1223.6 L1603.5 1224.7 L1604.0 1226.3 L1604.5 1228.1 L1605.0 1229.5 L1605.5 1230.9 L1606.0 1232.2 L1606.5 1232.6 L1607.0 1233.2 L1607.5 1233.6 L1608.0 1233.8 L1608.5 1234.4 L1609.0 1235.3 L1609.5 1235.9 L1610.0 1236.2 L1610.5 1236.8 L1611.0 1236.5 L1611.5 1236.6 L1612.0 1236.3 L1612.5 1236.6 L1613.0 1237.1 L1613.5 1237.6 L1614.0 1237.1 L1614.5 1236.6 L1615.0 1236.4 L1615.5 1235.3 L1616.0 1235.4 L1616.5 1235.3 L1617.0 1235.7 L1617.5 1235.8 L1618.0 1235.9 L1618.5 1235.5 L1618.8 1235.6 L1619.0 1235.4 L1619.2 1235.3 L1619.5 1235.7 L1620.0 1235.3 L1620.5 1235.2 L1621.0 1235.2 L1621.5 1235.0 L1622.0 1235.0 L1622.5 1234.6 L1623.0 1234.2 L1623.5 1234.3 L1624.0 1235.1 L1624.5 1235.3 L1625.0 1235.8 L1625.5 1236.7 L1626.0 1236.8 L1626.5 1236.1 L1627.0 1235.9 L1627.5 1236.6 L1628.0 1236.4 L1628.5 1236.1 L1629.0 1236.0 L1629.5 1236.2 L1630.0 1235.2 L1630.5 1234.8 L1631.0 1235.2 L1631.5 1235.1 L1632.0 1234.6 L1632.5 1234.9 L1632.8 1235.0 L1633.0 1235.2 L1633.2 1235.5 L1633.5 1235.9 L1634.0 1236.1 L1634.5 1236.1 L1635.0 1236.0 L1635.5 1236.5 L1636.0 1236.3 L1636.5 1235.9 L1637.0 1236.1 L1637.5 1236.3 L1638.0 1235.9 L1638.5 1235.8 L1639.0 1235.6 L1639.5 1235.6 L1640.0 1234.7 L1640.5 1235.0 L1641.0 1234.9 L1641.5 1234.9 L1642.0 1235.2 L1642.5 1235.8 L1643.0 1235.6 L1643.5 1235.6 L1644.0 1236.2 L1644.5 1236.0 L1645.0 1235.9 L1645.5 1236.1 L1646.0 1236.7 L1646.5 1236.4 L1647.0 1236.8 L1647.5 1236.9 L1648.0 1236.6 L1648.5 1236.4 L1649.0 1236.5 L1649.5 1236.4 L1650.0 1236.3 L1650.5 1236.2 L1651.0 1236.0 L1651.5 1236.1 L1652.0 1235.1 L1652.5 1234.5 L1653.0 1234.4 L1653.5 1234.4 L1654.0 1234.2 L1654.5 1234.3 L1655.0 1234.0 L1655.5 1233.2 L1656.0 1232.6 L1656.5 1231.8 L1657.0 1230.9 L1657.5 1229.7 L1658.0 1227.0 L1658.5 1221.9 L1659.0 1211.2 L1659.5 1190.6 L1659.8 1178.8 L1660.0 1173.4 L1660.2 1175.4 L1660.5 1180.7 L1661.0 1195.0 L1661.5 1207.3 L1662.0 1215.8 L1662.5 1221.1 L1663.0 1224.7 L1663.5 1226.7 L1664.0 1228.1 L1664.5 1229.6 L1665.0 1230.4 L1665.5 1231.3 L1666.0 1232.4 L1666.5 1233.2 L1667.0 1233.4 L1667.5 1234.0 L1668.0 1234.3 L1668.5 1234.2 L1669.0 1234.2 L1669.5 1234.1 L1670.0 1234.1 L1670.5 1234.0 L1671.0 1234.1 L1671.5 1234.5 L1672.0 1234.7 L1672.5 1234.3 L1673.0 1233.8 L1673.5 1232.6 L1674.0 1230.2 L1674.5 1227.2 L1675.0 1223.4 L1675.5 1219.1 L1676.0 1214.8 L1676.5 1212.3 L1676.8 1212.0 L1677.0 1212.4 L1677.5 1214.5 L1678.0 1218.2 L1678.5 1222.4 L1679.0 1226.2 L1679.5 1229.1 L1680.0 1231.4 L1680.5 1233.4 L1681.0 1234.1 L1681.5 1234.6 L1682.0 1235.0 L1682.5 1235.0 L1683.0 1234.7 L1683.5 1234.7 L1684.0 1234.6 L1684.5 1234.0 L1685.0 1233.8 L1685.5 1233.2 L1686.0 1232.2 L1686.5 1231.0 L1687.0 1229.7 L1687.5 1228.8 L1687.8 1228.7 L1688.0 1228.5 L1688.2 1228.5 L1688.5 1228.4 L1689.0 1228.8 L1689.5 1229.5 L1690.0 1230.6 L1690.5 1231.4 L1691.0 1232.9 L1691.5 1233.8 L1692.0 1234.2 L1692.5 1234.5 L1693.0 1235.1 L1693.5 1235.2 L1694.0 1235.1 L1694.5 1235.3 L1695.0 1235.5 L1695.5 1235.3 L1696.0 1234.8 L1696.5 1234.2 L1697.0 1234.6 L1697.5 1234.6 L1698.0 1235.1 L1698.5 1235.2 L1699.0 1235.4 L1699.5 1234.4 L1700.0 1234.1 L1700.5 1234.0 L1701.0 1234.0 L1701.5 1234.6 L1702.0 1235.5 L1702.5 1235.5 L1703.0 1235.4 L1703.5 1235.8 L1704.0 1234.8 L1704.5 1234.4 L1705.0 1235.0 L1705.5 1235.4 L1706.0 1234.9 L1706.5 1235.8 L1707.0 1235.7 L1707.5 1235.2 L1708.0 1235.2 L1708.5 1235.3 L1709.0 1235.2 L1709.5 1235.8 L1710.0 1236.4 L1710.5 1235.4 L1711.0 1235.3 L1711.5 1234.9 L1712.0 1234.2 L1712.5 1232.9 L1713.0 1232.1 L1713.5 1230.6 L1714.0 1228.9 L1714.5 1227.5 L1714.8 1227.3 L1715.0 1227.3 L1715.2 1227.2 L1715.5 1227.6 L1716.0 1228.3 L1716.5 1229.2 L1717.0 1230.0 L1717.5 1231.2 L1718.0 1231.9 L1718.5 1232.7 L1719.0 1233.4 L1719.5 1234.3 L1720.0 1234.4 L1720.5 1235.3 L1721.0 1235.4 L1721.5 1234.9 L1722.0 1234.8 L1722.5 1235.2" stroke="#000" stroke-width="7"/>
<path d="M221.5 558.7 L222.0 518.1 L222.5 515.9 L223.0 479.7 L223.5 530.5 L224.0 525.7 L224.5 523.0 L225.0 544.3 L225.5 549.0 L226.0 516.9 L226.5 522.9 L227.0 534.0 L227.5 561.9 L228.0 560.6 L228.5 521.0 L229.0 527.0 L229.5 569.0 L230.0 588.4 L230.5 555.7 L231.0 543.6 L231.5 582.9 L232.0 558.8 L232.5 580.3 L233.0 595.8 L233.5 583.5 L234.0 578.5 L234.5 590.8 L235.0 576.2 L235.5 585.9 L236.0 584.4 L236.5 592.7 L237.0 592.9 L237.5 600.2 L238.0 601.4 L238.5 609.2 L239.0 611.0 L239.5 616.3 L240.0 633.9 L240.5 594.2 L241.0 637.9 L241.5 617.1 L242.0 603.3 L242.5 622.1 L243.0 628.5 L243.5 646.5 L244.0 611.7 L244.5 635.0 L245.0 634.7 L245.5 604.5 L246.0 614.5 L246.5 648.8 L247.0 653.2 L247.5 662.6 L248.0 655.8 L248.5 656.2 L249.0 654.4 L249.5 675.0 L250.0 644.3 L250.5 658.8 L251.0 669.8 L251.5 644.3 L252.0 688.1 L252.5 662.5 L253.0 675.1 L253.5 704.3 L254.0 668.1 L254.5 673.2 L255.0 700.4 L255.5 668.9 L256.0 678.2 L256.5 691.1 L257.0 691.6 L257.5 694.5 L258.0 693.0 L258.5 706.0 L259.0 703.2 L259.5 699.4 L260.0 684.9 L260.5 685.6 L261.0 671.6 L261.5 705.5 L262.0 674.4 L262.5 710.5 L263.0 724.6 L263.5 687.2 L264.0 693.3 L264.5 697.3 L265.0 716.1 L265.5 694.5 L266.0 705.6 L266.5 701.5 L267.0 706.4 L267.5 728.2 L268.0 699.3 L268.5 714.3 L269.0 718.2 L269.5 727.1 L270.0 700.3 L270.5 733.3 L271.0 726.3 L271.5 733.5 L272.0 725.3 L272.5 706.3 L273.0 720.4 L273.5 739.5 L274.0 732.2 L274.5 733.1 L275.0 755.4 L275.5 760.5 L276.0 736.4 L276.5 758.7 L277.0 716.4 L277.5 716.5 L278.0 748.9 L278.5 737.3 L279.0 747.1 L279.5 747.0 L280.0 741.2 L280.5 750.1 L281.0 745.1 L281.5 728.0 L282.0 747.1 L282.5 747.4 L283.0 765.3 L283.5 735.1 L284.0 747.7 L284.5 743.8 L285.0 747.5 L285.5 766.5 L286.0 754.0 L286.5 746.1 L287.0 753.1 L287.5 759.9 L288.0 742.8 L288.5 750.9 L289.0 769.6 L289.5 763.3 L290.0 755.1 L290.5 751.2 L291.0 754.8 L291.5 741.6 L292.0 766.4 L292.5 760.9 L293.0 759.4 L293.5 746.0 L294.0 752.1 L294.5 764.2 L295.0 762.2 L295.5 755.5 L296.0 765.3 L296.5 769.8 L297.0 755.2 L297.5 757.0 L298.0 754.3 L298.5 752.2 L299.0 770.4 L299.5 768.2 L300.0 767.0 L300.5 753.7 L301.0 755.1 L301.5 764.3 L302.0 761.4 L302.5 766.7 L303.0 759.3 L303.5 772.3 L304.0 783.5 L304.5 781.5 L305.0 782.5 L305.5 768.1 L306.0 776.6 L306.5 764.4 L307.0 777.3 L307.5 764.9 L308.0 764.1 L308.5 762.9 L309.0 776.6 L309.5 772.7 L310.0 772.1 L310.5 759.0 L311.0 772.3 L311.5 756.4 L312.0 786.6 L312.5 770.4 L313.0 774.1 L313.5 771.3 L314.0 756.0 L314.5 758.5 L315.0 773.0 L315.5 789.5 L316.0 762.0 L316.5 766.6 L317.0 774.0 L317.5 756.5 L318.0 756.6 L318.5 770.9 L319.0 775.3 L319.5 771.7 L320.0 793.5 L320.5 774.9 L321.0 781.1 L321.5 795.4 L322.0 797.0 L322.5 759.8 L323.0 773.9 L323.5 792.0 L324.0 762.9 L324.5 768.4 L325.0 764.3 L325.5 763.9 L326.0 766.9 L326.5 782.4 L327.0 795.2 L327.5 798.4 L328.0 781.3 L328.5 759.1 L329.0 781.1 L329.5 778.2 L330.0 786.3 L330.5 781.1 L331.0 762.9 L331.5 787.7 L332.0 760.6 L332.5 776.1 L333.0 787.4 L333.5 788.1 L334.0 801.6 L334.5 760.5 L335.0 788.8 L335.5 792.8 L336.0 782.2 L336.5 792.7 L337.0 774.6 L337.5 793.4 L338.0 792.4 L338.5 776.8 L339.0 780.4 L339.5 785.7 L340.0 781.2 L340.5 798.8 L341.0 790.2 L341.5 802.0 L342.0 800.9 L342.5 789.9 L343.0 787.7 L343.5 780.5 L344.0 782.2 L344.5 782.5 L345.0 794.1 L345.5 782.4 L346.0 792.0 L346.5 793.4 L347.0 787.1 L347.5 790.3 L348.0 806.1 L348.5 807.9 L349.0 785.6 L349.5 791.4 L350.0 790.0 L350.5 791.0 L351.0 808.1 L351.5 800.3 L352.0 805.8 L352.5 810.8 L353.0 789.9 L353.5 792.4 L354.0 794.7 L354.5 804.3 L355.0 793.6 L355.5 800.9 L356.0 806.1 L356.5 806.2 L357.0 799.3 L357.5 787.2 L358.0 779.8 L358.5 806.3 L359.0 799.8 L359.5 786.0 L360.0 790.4 L360.5 791.1 L361.0 778.8 L361.5 798.3 L362.0 787.9 L362.5 793.0 L363.0 803.7 L363.5 795.2 L364.0 801.9 L364.5 800.8 L365.0 796.8 L365.5 797.1 L366.0 816.2 L366.5 795.0 L367.0 814.0 L367.5 787.3 L368.0 804.8 L368.5 799.0 L369.0 789.5 L369.5 773.3 L370.0 814.6 L370.5 785.2 L371.0 787.3 L371.5 799.2 L372.0 798.5 L372.5 801.0 L373.0 795.3 L373.5 781.7 L374.0 807.9 L374.5 788.4 L375.0 801.0 L375.5 804.9 L376.0 811.6 L376.5 796.1 L377.0 795.2 L377.5 796.0 L378.0 778.2 L378.5 790.3 L379.0 787.6 L379.5 786.0 L380.0 800.5 L380.5 795.3 L381.0 816.2 L381.5 815.1 L382.0 778.2 L382.5 800.1 L383.0 787.9 L383.5 804.9 L384.0 800.6 L384.5 809.0 L385.0 802.3 L385.5 807.2 L386.0 795.7 L386.5 774.6 L387.0 786.2 L387.5 789.8 L388.0 793.7 L388.5 788.1 L389.0 816.6 L389.5 797.3 L390.0 813.0 L390.5 795.5 L391.0 816.9 L391.5 786.3 L392.0 805.6 L392.5 785.0 L393.0 803.9 L393.5 816.1 L394.0 781.9 L394.5 790.0 L395.0 801.9 L395.5 797.3 L396.0 784.8 L396.5 811.6 L397.0 799.9 L397.5 813.1 L398.0 802.8 L398.5 787.3 L399.0 794.4 L399.5 814.0 L400.0 784.9 L400.5 794.5 L401.0 805.6 L401.5 809.8 L402.0 807.7 L402.5 783.1 L403.0 820.9 L403.5 796.8 L404.0 798.5 L404.5 798.2 L405.0 795.6 L405.5 787.6 L406.0 794.3 L406.5 812.0 L407.0 782.8 L407.5 773.0 L408.0 803.1 L408.5 800.8 L409.0 804.9 L409.5 815.8 L410.0 788.7 L410.5 798.5 L411.0 802.0 L411.5 809.9 L412.0 807.5 L412.5 786.6 L413.0 780.5 L413.5 792.7 L414.0 777.6 L414.5 807.9 L415.0 790.9 L415.5 791.2 L416.0 785.0 L416.5 812.1 L417.0 798.0 L417.5 789.9 L418.0 801.4 L418.5 793.3 L419.0 801.0 L419.5 809.1 L420.0 790.9 L420.5 799.6 L421.0 799.1 L421.5 806.6 L422.0 800.2 L422.5 793.6 L423.0 785.6 L423.5 796.3 L424.0 780.6 L424.5 800.3 L425.0 793.2 L425.5 798.7 L426.0 786.1 L426.5 782.6 L427.0 781.1 L427.5 804.5 L428.0 788.9 L428.5 788.6 L429.0 770.3 L429.5 790.2 L430.0 764.6 L430.5 806.3 L431.0 787.5 L431.5 790.4 L432.0 773.5 L432.5 777.2 L433.0 796.6 L433.5 787.0 L434.0 794.2 L434.5 803.7 L435.0 796.5 L435.5 767.0 L436.0 777.3 L436.5 775.4 L437.0 777.8 L437.5 764.3 L438.0 764.5 L438.5 779.2 L439.0 780.7 L439.5 793.1 L440.0 783.4 L440.5 803.0 L441.0 766.1 L441.5 770.8 L442.0 789.2 L442.5 783.1 L443.0 774.9 L443.5 794.5 L444.0 797.9 L444.5 800.2 L445.0 780.8 L445.5 785.0 L446.0 787.5 L446.5 785.4 L447.0 796.0 L447.5 778.9 L448.0 788.3 L448.5 759.4 L449.0 792.2 L449.5 801.9 L450.0 783.2 L450.5 794.5 L451.0 764.2 L451.5 778.5 L452.0 764.8 L452.5 784.8 L453.0 786.6 L453.5 765.4 L454.0 770.8 L454.5 773.2 L455.0 803.8 L455.5 778.0 L456.0 779.6 L456.5 781.8 L457.0 780.7 L457.5 774.4 L458.0 762.2 L458.5 768.8 L459.0 793.4 L459.5 778.1 L460.0 770.9 L460.5 759.9 L461.0 773.4 L461.5 773.9 L462.0 766.2 L462.5 782.2 L463.0 766.0 L463.5 770.1 L464.0 780.4 L464.5 773.4 L465.0 782.4 L465.5 767.7 L466.0 765.2 L466.5 774.2 L467.0 771.1 L467.5 780.9 L468.0 772.3 L468.5 767.3 L469.0 771.8 L469.5 773.5 L470.0 754.7 L470.5 764.4 L471.0 762.0 L471.5 777.4 L472.0 759.6 L472.5 775.1 L473.0 750.7 L473.5 762.7 L474.0 773.8 L474.5 759.8 L475.0 773.8 L475.5 740.7 L476.0 761.2 L476.5 762.1 L477.0 758.5 L477.5 743.5 L478.0 765.8 L478.5 734.3 L479.0 767.8 L479.5 760.3 L480.0 767.3 L480.5 753.3 L481.0 743.4 L481.5 749.3 L482.0 749.3 L482.5 760.5 L483.0 749.9 L483.5 757.5 L484.0 757.8 L484.5 767.9 L485.0 728.6 L485.5 746.1 L486.0 758.1 L486.5 757.6 L487.0 742.6 L487.5 745.5 L488.0 747.0 L488.5 749.1 L489.0 740.3 L489.5 738.8 L490.0 732.6 L490.5 740.9 L491.0 761.7 L491.5 732.8 L492.0 755.6 L492.5 767.2 L493.0 745.3 L493.5 770.0 L494.0 740.0 L494.5 762.2 L495.0 740.2 L495.5 724.9 L496.0 744.1 L496.5 763.3 L497.0 731.1 L497.5 744.3 L498.0 724.7 L498.5 725.6 L499.0 742.5 L499.5 733.6 L500.0 743.0 L500.5 751.5 L501.0 718.4 L501.5 724.1 L502.0 732.9 L502.5 760.3 L503.0 726.4 L503.5 723.5 L504.0 734.7 L504.5 755.7 L505.0 719.9 L505.5 722.7 L506.0 726.4 L506.5 734.8 L507.0 752.5 L507.5 707.3 L508.0 701.1 L508.5 723.8 L509.0 727.9 L509.5 691.5 L510.0 711.5 L510.5 730.9 L511.0 711.0 L511.5 723.1 L512.0 718.4 L512.5 723.6 L513.0 720.1 L513.5 717.0 L514.0 728.7 L514.5 705.0 L515.0 712.9 L515.5 724.7 L516.0 702.6 L516.5 704.2 L517.0 698.6 L517.5 695.4 L518.0 731.8 L518.5 711.5 L519.0 728.2 L519.5 713.1 L520.0 704.1 L520.5 698.8 L521.0 704.7 L521.5 700.1 L522.0 711.1 L522.5 688.2 L523.0 700.2 L523.5 703.0 L524.0 693.6 L524.5 692.8 L525.0 701.6 L525.5 700.5 L526.0 691.0 L526.5 690.8 L527.0 682.7 L527.5 695.5 L528.0 685.7 L528.5 665.8 L529.0 680.6 L529.5 691.3 L530.0 685.7 L530.5 669.1 L531.0 689.2 L531.5 686.2 L532.0 685.0 L532.5 696.1 L533.0 669.8 L533.5 681.2 L534.0 668.2 L534.5 684.0 L535.0 685.2 L535.5 674.6 L536.0 676.9 L536.5 653.8 L537.0 672.7 L537.5 645.7 L538.0 692.3 L538.5 676.6 L539.0 636.6 L539.5 623.9 L540.0 675.1 L540.5 642.2 L541.0 661.5 L541.5 632.8 L542.0 651.9 L542.5 639.8 L543.0 657.2 L543.5 641.8 L544.0 668.3 L544.5 632.7 L545.0 662.7 L545.5 641.5 L546.0 648.6 L546.5 614.2 L547.0 610.3 L547.5 653.2 L548.0 615.8 L548.5 628.6 L549.0 627.6 L549.5 616.9 L550.0 633.5 L550.5 606.2 L551.0 608.7 L551.5 641.6 L552.0 612.6 L552.5 636.3 L553.0 633.8 L553.5 646.3 L554.0 628.1 L554.5 590.6 L555.0 608.3 L555.5 610.9 L556.0 635.7 L556.5 620.6 L557.0 606.2 L557.5 619.6 L558.0 606.0 L558.5 619.1 L559.0 611.7 L559.5 625.5 L560.0 612.2 L560.5 621.4 L561.0 604.5 L561.5 614.6 L562.0 600.1 L562.5 611.2 L563.0 603.6 L563.5 597.0 L564.0 591.4 L564.5 592.5 L565.0 602.7 L565.5 560.0 L566.0 612.1 L566.5 557.8 L567.0 588.0 L567.5 584.8 L568.0 599.8 L568.5 591.0 L569.0 585.6 L569.5 586.4 L570.0 598.2 L570.5 616.5 L571.0 587.3 L571.5 549.8 L572.0 573.2 L572.5 584.5 L573.0 610.4 L573.5 564.6 L574.0 569.3 L574.5 581.9 L575.0 577.3 L575.5 552.0 L576.0 584.2 L576.5 550.1 L577.0 564.3 L577.5 586.3 L578.0 547.0 L578.5 560.0 L579.0 587.8 L579.5 559.1 L580.0 546.8 L580.5 552.4 L581.0 571.4 L581.5 536.4 L582.0 548.5 L582.5 535.9 L583.0 539.1 L583.5 572.0 L584.0 551.9 L584.5 545.9 L585.0 556.7 L585.5 540.0 L586.0 532.3 L586.5 563.3 L587.0 558.5 L587.5 534.0 L588.0 553.9 L588.5 562.9 L589.0 548.8 L589.5 547.8 L590.0 523.6 L590.5 537.2 L591.0 513.3 L591.5 551.5 L592.0 533.5 L592.5 552.0 L593.0 523.5 L593.5 543.9 L594.0 510.9 L594.5 525.1 L595.0 536.3 L595.5 532.7 L596.0 526.4 L596.5 505.1 L597.0 541.7 L597.5 532.2 L598.0 537.1 L598.5 535.8 L599.0 515.9 L599.5 524.4 L600.0 546.2 L600.5 506.0 L601.0 518.9 L601.5 505.0 L602.0 530.1 L602.5 509.3 L603.0 493.0 L603.5 495.9 L604.0 484.7 L604.5 473.6 L605.0 471.7 L605.5 485.9 L606.0 479.5 L606.5 490.8 L607.0 478.4 L607.5 487.0 L608.0 500.2 L608.5 468.6 L609.0 466.2 L609.5 485.1 L610.0 494.4 L610.5 464.1 L611.0 455.2 L611.5 467.5 L612.0 465.3 L612.5 475.3 L613.0 456.6 L613.5 463.5 L614.0 462.0 L614.5 447.9 L615.0 446.7 L615.5 466.7 L616.0 466.8 L616.5 451.4 L617.0 475.8 L617.5 468.0 L618.0 461.9 L618.5 462.5 L619.0 458.6 L619.5 461.8 L620.0 462.5 L620.5 452.4 L621.0 426.8 L621.5 447.6 L622.0 438.6 L622.5 433.3 L623.0 453.8 L623.5 424.8 L624.0 455.1 L624.5 436.9 L625.0 429.2 L625.5 432.7 L626.0 468.8 L626.5 459.2 L627.0 437.5 L627.5 452.9 L628.0 460.7 L628.5 428.4 L629.0 434.6 L629.5 448.3 L630.0 441.4 L630.5 431.4 L631.0 454.6 L631.5 440.5 L632.0 443.2 L632.5 459.4 L633.0 438.1 L633.5 458.0 L634.0 434.5 L634.5 428.2 L635.0 431.0 L635.5 439.5 L636.0 436.5 L636.5 432.7 L637.0 409.6 L637.5 414.0 L638.0 423.7 L638.5 435.7 L639.0 444.3 L639.5 398.1 L640.0 423.5 L640.5 419.1 L641.0 423.1 L641.5 426.8 L642.0 412.6 L642.5 406.0 L643.0 436.2 L643.5 432.4 L644.0 416.5 L644.5 420.1 L645.0 412.0 L645.5 401.8 L646.0 429.3 L646.5 411.0 L647.0 404.3 L647.5 411.0 L648.0 442.4 L648.5 426.2 L649.0 423.6 L649.5 422.0 L650.0 433.3 L650.5 431.8 L651.0 403.1 L651.5 418.7 L652.0 413.1 L652.5 425.9 L653.0 422.2 L653.5 394.2 L654.0 440.8 L654.5 428.1 L655.0 398.7 L655.5 442.0 L656.0 427.1 L656.5 432.7 L657.0 426.3 L657.5 428.7 L658.0 418.8 L658.5 401.2 L659.0 417.6 L659.5 430.3 L660.0 428.4 L660.5 438.4 L661.0 427.1 L661.5 395.3 L662.0 440.8 L662.5 417.1 L663.0 409.1 L663.5 425.4 L664.0 409.5 L664.5 436.8 L665.0 417.1 L665.5 462.2 L666.0 428.4 L666.5 424.0 L667.0 422.8 L667.5 400.1 L668.0 420.2 L668.5 422.4 L669.0 429.4 L669.5 401.7 L670.0 436.0 L670.5 455.9 L671.0 429.5 L671.5 435.8 L672.0 443.7 L672.5 425.0 L673.0 431.2 L673.5 453.7 L674.0 442.4 L674.5 420.5 L675.0 412.2 L675.5 477.5 L676.0 449.1 L676.5 416.9 L677.0 445.7 L677.5 454.9 L678.0 446.4 L678.5 414.2 L679.0 475.7 L679.5 456.4 L680.0 443.8 L680.5 459.1 L681.0 444.5 L681.5 443.3 L682.0 464.7 L682.5 416.4 L683.0 468.0 L683.5 458.3 L684.0 465.2 L684.5 468.6 L685.0 480.5 L685.5 479.6 L686.0 470.8 L686.5 449.2 L687.0 469.3 L687.5 449.1 L688.0 441.2 L688.5 468.0 L689.0 467.2 L689.5 483.7 L690.0 421.8 L690.5 474.5 L691.0 476.9 L691.5 467.1 L692.0 494.6 L692.5 449.5 L693.0 474.2 L693.5 461.0 L694.0 469.0 L694.5 450.6 L695.0 468.2 L695.5 485.6 L696.0 475.2 L696.5 480.7 L697.0 458.4 L697.5 508.7 L698.0 461.9 L698.5 478.0 L699.0 490.9 L699.5 476.2 L700.0 496.5 L700.5 486.2 L701.0 517.5 L701.5 495.5 L702.0 493.6 L702.5 471.1 L703.0 497.0 L703.5 508.5 L704.0 498.3 L704.5 473.8 L705.0 482.3 L705.5 489.4 L706.0 495.3 L706.5 470.6 L707.0 531.3 L707.5 496.5 L708.0 501.5 L708.5 492.7 L709.0 501.0 L709.5 536.3 L710.0 487.6 L710.5 496.6 L711.0 489.4 L711.5 499.4 L712.0 536.8 L712.5 501.4 L713.0 506.0 L713.5 484.7 L714.0 511.0 L714.5 522.6 L715.0 512.2 L715.5 515.4 L716.0 537.2 L716.5 534.3 L717.0 525.3 L717.5 515.6 L718.0 505.3 L718.5 560.0 L719.0 508.0 L719.5 546.1 L720.0 533.8 L720.5 526.6 L721.0 554.9 L721.5 529.9 L722.0 564.3 L722.5 528.6 L723.0 554.2 L723.5 567.5 L724.0 532.8 L724.5 581.7 L725.0 563.0 L725.5 517.1 L726.0 572.5 L726.5 580.9 L727.0 549.6 L727.5 551.5 L728.0 560.6 L728.5 529.3 L729.0 559.2 L729.5 570.8 L730.0 551.3 L730.5 574.6 L731.0 589.8 L731.5 535.9 L732.0 539.1 L732.5 554.3 L733.0 572.1 L733.5 569.8 L734.0 554.8 L734.5 553.3 L735.0 559.1 L735.5 589.5 L736.0 559.5 L736.5 565.5 L737.0 585.8 L737.5 572.4 L738.0 564.9 L738.5 597.0 L739.0 584.8 L739.5 573.3 L740.0 578.8 L740.5 597.6 L741.0 582.2 L741.5 592.1 L742.0 602.3 L742.5 605.5 L743.0 568.3 L743.5 588.4 L744.0 592.1 L744.5 599.9 L745.0 611.0 L745.5 618.4 L746.0 596.8 L746.5 588.8 L747.0 609.4 L747.5 599.3 L748.0 634.5 L748.5 615.0 L749.0 611.3 L749.5 625.8 L750.0 602.4 L750.5 607.7 L751.0 610.9 L751.5 623.7 L752.0 633.8 L752.5 627.1 L753.0 627.3 L753.5 614.0 L754.0 623.3 L754.5 615.4 L755.0 635.9 L755.5 611.2 L756.0 619.9 L756.5 625.0 L757.0 633.4 L757.5 612.9 L758.0 620.6 L758.5 613.1 L759.0 606.6 L759.5 641.1 L760.0 633.1 L760.5 607.4 L761.0 615.9 L761.5 637.8 L762.0 623.4 L762.5 618.7 L763.0 650.3 L763.5 628.7 L764.0 631.5 L764.5 644.6 L765.0 629.6 L765.5 640.1 L766.0 643.0 L766.5 651.3 L767.0 634.3 L767.5 657.6 L768.0 649.8 L768.5 668.1 L769.0 650.7 L769.5 643.1 L770.0 644.3 L770.5 638.8 L771.0 652.7 L771.5 653.2 L772.0 665.0 L772.5 657.2 L773.0 648.1 L773.5 669.9 L774.0 654.6 L774.5 663.6 L775.0 678.5 L775.5 677.6 L776.0 654.9 L776.5 663.3 L777.0 682.2 L777.5 679.0 L778.0 674.7 L778.5 680.2 L779.0 642.1 L779.5 667.1 L780.0 653.0 L780.5 664.5 L781.0 668.9 L781.5 681.5 L782.0 692.3 L782.5 688.1 L783.0 682.0 L783.5 674.0 L784.0 698.6 L784.5 685.0 L785.0 656.0 L785.5 681.8 L786.0 690.6 L786.5 670.0 L787.0 687.7 L787.5 706.8 L788.0 682.1 L788.5 685.6 L789.0 686.4 L789.5 674.0 L790.0 681.6 L790.5 674.9 L791.0 685.4 L791.5 679.1 L792.0 703.5 L792.5 689.7 L793.0 703.1 L793.5 675.8 L794.0 692.8 L794.5 701.2 L795.0 703.3 L795.5 687.1 L796.0 694.3 L796.5 697.7 L797.0 692.6 L797.5 692.4 L798.0 704.8 L798.5 684.6 L799.0 677.8 L799.5 694.7 L800.0 704.9 L800.5 676.4 L801.0 719.1 L801.5 704.9 L802.0 711.3 L802.5 695.5 L803.0 705.6 L803.5 727.9 L804.0 729.0 L804.5 715.6 L805.0 706.1 L805.5 708.8 L806.0 725.5 L806.5 703.6 L807.0 702.0 L807.5 711.5 L808.0 723.6 L808.5 702.9 L809.0 719.1 L809.5 720.0 L810.0 718.1 L810.5 715.9 L811.0 728.0 L811.5 725.0 L812.0 704.5 L812.5 737.1 L813.0 725.9 L813.5 725.2 L814.0 719.0 L814.5 720.4 L815.0 702.6 L815.5 722.5 L816.0 731.5 L816.5 732.4 L817.0 720.3 L817.5 706.9 L818.0 717.4 L818.5 726.2 L819.0 742.5 L819.5 715.1 L820.0 731.7 L820.5 738.0 L821.0 739.1 L821.5 733.0 L822.0 714.7 L822.5 741.1 L823.0 737.2 L823.5 741.7 L824.0 728.3 L824.5 733.3 L825.0 752.6 L825.5 738.1 L826.0 739.6 L826.5 733.4 L827.0 752.8 L827.5 725.8 L828.0 737.0 L828.5 746.7 L829.0 742.9 L829.5 752.3 L830.0 748.5 L830.5 758.9 L831.0 743.5 L831.5 745.0 L832.0 749.6 L832.5 730.3 L833.0 761.8 L833.5 739.9 L834.0 760.3 L834.5 763.9 L835.0 760.4 L835.5 753.3 L836.0 746.0 L836.5 732.0 L837.0 759.4 L837.5 752.3 L838.0 772.6 L838.5 753.3 L839.0 763.4 L839.5 753.8 L840.0 763.1 L840.5 755.9 L841.0 758.5 L841.5 741.6 L842.0 754.4 L842.5 761.1 L843.0 776.9 L843.5 767.2 L844.0 752.1 L844.5 782.8 L845.0 770.5 L845.5 779.5 L846.0 758.5 L846.5 745.3 L847.0 761.5 L847.5 759.4 L848.0 774.0 L848.5 754.3 L849.0 761.9 L849.5 756.9 L850.0 774.2 L850.5 762.5 L851.0 789.3 L851.5 783.1 L852.0 784.1 L852.5 772.3 L853.0 778.0 L853.5 785.9 L854.0 765.9 L854.5 791.4 L855.0 775.9 L855.5 792.6 L856.0 804.9 L856.5 797.3 L857.0 765.2 L857.5 794.0 L858.0 775.4 L858.5 774.4 L859.0 777.1 L859.5 765.5 L860.0 784.0 L860.5 772.6 L861.0 796.3 L861.5 787.1 L862.0 757.0 L862.5 773.0 L863.0 773.3 L863.5 778.0 L864.0 779.1 L864.5 789.9 L865.0 786.5 L865.5 776.9 L866.0 794.5 L866.5 800.2 L867.0 791.3 L867.5 804.2 L868.0 797.1 L868.5 787.8 L869.0 790.3 L869.5 795.0 L870.0 800.8 L870.5 798.1 L871.0 806.3 L871.5 808.4 L872.0 789.6 L872.5 789.2 L873.0 798.9 L873.5 804.2 L874.0 808.6 L874.5 806.7 L875.0 806.8 L875.5 793.6 L876.0 805.5 L876.5 796.9 L877.0 806.7 L877.5 811.3 L878.0 797.9 L878.5 802.1 L879.0 824.3 L879.5 798.4 L880.0 801.0 L880.5 796.2 L881.0 793.6 L881.5 815.4 L882.0 801.1 L882.5 802.0 L883.0 800.8 L883.5 788.7 L884.0 815.2 L884.5 804.1 L885.0 808.9 L885.5 822.0 L886.0 809.2 L886.5 812.2 L887.0 813.2 L887.5 823.6 L888.0 800.7 L888.5 808.3 L889.0 794.3 L889.5 814.7 L890.0 820.8 L890.5 811.8 L891.0 834.3 L891.5 825.7 L892.0 835.2 L892.5 819.5 L893.0 835.2 L893.5 814.4 L894.0 823.6 L894.5 821.5 L895.0 817.0 L895.5 837.0 L896.0 834.5 L896.5 816.3 L897.0 829.8 L897.5 824.9 L898.0 826.2 L898.5 831.1 L899.0 821.5 L899.5 828.7 L900.0 830.5 L900.5 822.6 L901.0 824.2 L901.5 838.0 L902.0 830.8 L902.5 851.7 L903.0 852.2 L903.5 825.5 L904.0 836.1 L904.5 814.4 L905.0 828.1 L905.5 826.4 L906.0 828.2 L906.5 815.6 L907.0 839.5 L907.5 839.0 L908.0 830.4 L908.5 838.2 L909.0 848.5 L909.5 855.9 L910.0 828.1 L910.5 856.8 L911.0 825.1 L911.5 834.2 L912.0 838.7 L912.5 857.9 L913.0 849.2 L913.5 849.4 L914.0 859.3 L914.5 846.7 L915.0 840.6 L915.5 859.6 L916.0 843.6 L916.5 833.8 L917.0 829.8 L917.5 848.5 L918.0 865.5 L918.5 855.0 L919.0 848.6 L919.5 860.3 L920.0 834.5 L920.5 853.5 L921.0 844.5 L921.5 863.5 L922.0 842.4 L922.5 858.7 L923.0 853.5 L923.5 852.2 L924.0 859.4 L924.5 851.9 L925.0 867.9 L925.5 852.3 L926.0 833.4 L926.5 869.7 L927.0 869.2 L927.5 861.6 L928.0 871.0 L928.5 864.6 L929.0 849.9 L929.5 838.2 L930.0 848.9 L930.5 857.0 L931.0 865.7 L931.5 846.6 L932.0 852.4 L932.5 877.6 L933.0 855.6 L933.5 855.8 L934.0 854.0 L934.5 881.0 L935.0 873.1 L935.5 874.4 L936.0 882.5 L936.5 875.8 L937.0 879.9 L937.5 870.3 L938.0 875.8 L938.5 873.6 L939.0 874.7 L939.5 856.3 L940.0 866.2 L940.5 865.1 L941.0 862.6 L941.5 868.9 L942.0 887.4 L942.5 879.2 L943.0 871.3 L943.5 873.9 L944.0 884.6 L944.5 859.7 L945.0 875.4 L945.5 887.8 L946.0 889.4 L946.5 881.2 L947.0 878.2 L947.5 856.4 L948.0 867.0 L948.5 873.6 L949.0 877.9 L949.5 878.6 L950.0 854.6 L950.5 870.5 L951.0 878.4 L951.5 869.1 L952.0 874.5 L952.5 881.5 L953.0 880.0 L953.5 879.2 L954.0 884.6 L954.5 888.5 L955.0 876.1 L955.5 869.6 L956.0 873.2 L956.5 875.4 L957.0 879.7 L957.5 867.1 L958.0 874.1 L958.5 879.0 L959.0 893.5 L959.5 886.5 L960.0 881.0 L960.5 890.4 L961.0 884.6 L961.5 885.4 L962.0 893.3 L962.5 887.0 L963.0 885.6 L963.5 891.3 L964.0 879.5 L964.5 885.5 L965.0 864.8 L965.5 881.6 L966.0 901.5 L966.5 882.7 L967.0 886.6 L967.5 882.6 L968.0 876.5 L968.5 892.7 L969.0 887.6 L969.5 899.9 L970.0 878.8 L970.5 889.2 L971.0 885.3 L971.5 882.8 L972.0 901.9 L972.5 881.6 L973.0 882.3 L973.5 915.7 L974.0 890.4 L974.5 889.4 L975.0 896.9 L975.5 882.0 L976.0 896.4 L976.5 881.3 L977.0 888.9 L977.5 888.5 L978.0 907.3 L978.5 900.8 L979.0 912.3 L979.5 910.8 L980.0 889.9 L980.5 901.0 L981.0 893.1 L981.5 891.9 L982.0 907.5 L982.5 909.6 L983.0 899.5 L983.5 901.4 L984.0 901.4 L984.5 902.0 L985.0 902.6 L985.5 893.2 L986.0 905.3 L986.5 896.4 L987.0 893.2 L987.5 901.2 L988.0 904.6 L988.5 909.1 L989.0 906.2 L989.5 906.1 L990.0 899.7 L990.5 907.7 L991.0 906.8 L991.5 907.8 L992.0 900.8 L992.5 918.6 L993.0 912.4 L993.5 912.3 L994.0 908.5 L994.5 906.3 L995.0 915.3 L995.5 899.8 L996.0 906.4 L996.5 908.0 L997.0 914.5 L997.5 908.7 L998.0 921.3 L998.5 899.5 L999.0 923.2 L999.5 914.9 L1000.0 919.7 L1000.5 909.9 L1001.0 921.2 L1001.5 912.1 L1002.0 916.6 L1002.5 905.0 L1003.0 919.5 L1003.5 917.0 L1004.0 903.5 L1004.5 916.3 L1005.0 915.2 L1005.5 923.5 L1006.0 913.4 L1006.5 919.9 L1007.0 928.1 L1007.5 913.0 L1008.0 933.3 L1008.5 921.8 L1009.0 918.7 L1009.5 910.6 L1010.0 907.9 L1010.5 928.7 L1011.0 918.4 L1011.5 917.5 L1012.0 930.8 L1012.5 928.2 L1013.0 924.3 L1013.5 912.2 L1014.0 908.6 L1014.5 932.0 L1015.0 924.5 L1015.5 923.1 L1016.0 941.1 L1016.5 922.5 L1017.0 929.3 L1017.5 944.5 L1018.0 932.2 L1018.5 922.8 L1019.0 920.7 L1019.5 938.5 L1020.0 918.0 L1020.5 936.1 L1021.0 943.4 L1021.5 928.9 L1022.0 937.4 L1022.5 931.1 L1023.0 943.5 L1023.5 933.7 L1024.0 925.3 L1024.5 935.3 L1025.0 933.7 L1025.5 927.1 L1026.0 930.9 L1026.5 922.3 L1027.0 926.0 L1027.5 940.3 L1028.0 917.2 L1028.5 937.6 L1029.0 935.5 L1029.5 930.1 L1030.0 949.7 L1030.5 942.9 L1031.0 930.8 L1031.5 938.6 L1032.0 945.5 L1032.5 922.4 L1033.0 939.3 L1033.5 935.2 L1034.0 941.3 L1034.5 957.1 L1035.0 932.2 L1035.5 935.2 L1036.0 927.8 L1036.5 940.6 L1037.0 944.3 L1037.5 919.4 L1038.0 952.0 L1038.5 953.3 L1039.0 920.4 L1039.5 927.0 L1040.0 944.1 L1040.5 941.1 L1041.0 950.3 L1041.5 938.4 L1042.0 951.6 L1042.5 930.0 L1043.0 944.7 L1043.5 938.1 L1044.0 938.1 L1044.5 928.0 L1045.0 939.0 L1045.5 953.1 L1046.0 937.6 L1046.5 941.1 L1047.0 944.1 L1047.5 936.0 L1048.0 945.5 L1048.5 947.8 L1049.0 942.1 L1049.5 930.5 L1050.0 955.4 L1050.5 944.9 L1051.0 944.6 L1051.5 943.4 L1052.0 941.0 L1052.5 933.8 L1053.0 945.2 L1053.5 946.7 L1054.0 952.6 L1054.5 957.1 L1055.0 941.5 L1055.5 957.2 L1056.0 947.3 L1056.5 950.9 L1057.0 940.3 L1057.5 949.7 L1058.0 941.2 L1058.5 952.3 L1059.0 939.4 L1059.5 948.4 L1060.0 945.5 L1060.5 951.0 L1061.0 950.5 L1061.5 950.1 L1062.0 945.7 L1062.5 955.5 L1063.0 953.6 L1063.5 944.3 L1064.0 955.3 L1064.5 945.7 L1065.0 951.1 L1065.5 950.0 L1066.0 950.2 L1066.5 956.8 L1067.0 938.3 L1067.5 960.7 L1068.0 938.9 L1068.5 961.0 L1069.0 956.3 L1069.5 941.5 L1070.0 955.3 L1070.5 950.5 L1071.0 944.3 L1071.5 962.3 L1072.0 961.9 L1072.5 956.6 L1073.0 966.6 L1073.5 955.3 L1074.0 952.3 L1074.5 964.6 L1075.0 949.2 L1075.5 961.2 L1076.0 963.8 L1076.5 957.2 L1077.0 956.5 L1077.5 959.7 L1078.0 958.1 L1078.5 950.9 L1079.0 938.2 L1079.5 952.8 L1080.0 945.4 L1080.5 964.7 L1081.0 953.5 L1081.5 959.0 L1082.0 963.2 L1082.5 965.4 L1083.0 950.0 L1083.5 974.0 L1084.0 964.7 L1084.5 962.6 L1085.0 950.3 L1085.5 973.7 L1086.0 962.9 L1086.5 966.6 L1087.0 955.4 L1087.5 973.0 L1088.0 969.6 L1088.5 957.1 L1089.0 973.9 L1089.5 949.5 L1090.0 965.0 L1090.5 963.3 L1091.0 963.6 L1091.5 952.4 L1092.0 955.2 L1092.5 965.8 L1093.0 966.7 L1093.5 957.7 L1094.0 956.0 L1094.5 953.9 L1095.0 968.9 L1095.5 956.9 L1096.0 953.7 L1096.5 942.7 L1097.0 943.7 L1097.5 949.0 L1098.0 941.6 L1098.5 954.8 L1099.0 955.6 L1099.5 949.9 L1100.0 954.6 L1100.5 957.4 L1101.0 943.7 L1101.5 964.0 L1102.0 940.1 L1102.5 974.2 L1103.0 946.2 L1103.5 958.6 L1104.0 955.4 L1104.5 961.5 L1105.0 952.3 L1105.5 963.0 L1106.0 945.6 L1106.5 965.0 L1107.0 956.4 L1107.5 962.0 L1108.0 967.6 L1108.5 948.9 L1109.0 954.0 L1109.5 952.7 L1110.0 958.4 L1110.5 960.8 L1111.0 965.7 L1111.5 961.4 L1112.0 958.2 L1112.5 964.4 L1113.0 968.8 L1113.5 968.4 L1114.0 978.5 L1114.5 954.4 L1115.0 962.1 L1115.5 948.1 L1116.0 954.0 L1116.5 965.9 L1117.0 971.8 L1117.5 956.0 L1118.0 964.9 L1118.5 961.4 L1119.0 965.4 L1119.5 962.9 L1120.0 956.5 L1120.5 940.2 L1121.0 947.1 L1121.5 964.8 L1122.0 960.4 L1122.5 981.0 L1123.0 961.9 L1123.5 970.2 L1124.0 950.3 L1124.5 948.3 L1125.0 963.7 L1125.5 978.0 L1126.0 965.8 L1126.5 958.9 L1127.0 966.0 L1127.5 968.2 L1128.0 966.6 L1128.5 962.5 L1129.0 951.9 L1129.5 951.1 L1130.0 957.4 L1130.5 961.2 L1131.0 949.5 L1131.5 978.3 L1132.0 968.4 L1132.5 957.3 L1133.0 970.0 L1133.5 984.4 L1134.0 964.9 L1134.5 964.7 L1135.0 972.6 L1135.5 949.4 L1136.0 957.1 L1136.5 955.1 L1137.0 970.0 L1137.5 946.4 L1138.0 965.7 L1138.5 957.9 L1139.0 959.8 L1139.5 957.3 L1140.0 976.5 L1140.5 954.4 L1141.0 951.3 L1141.5 965.5 L1142.0 957.1 L1142.5 967.3 L1143.0 962.0 L1143.5 962.9 L1144.0 963.0 L1144.5 946.9 L1145.0 943.9 L1145.5 981.0 L1146.0 951.7 L1146.5 967.2 L1147.0 952.2 L1147.5 961.7 L1148.0 960.1 L1148.5 975.6 L1149.0 960.6 L1149.5 948.6 L1150.0 949.7 L1150.5 965.2 L1151.0 970.2 L1151.5 980.4 L1152.0 981.4 L1152.5 949.9 L1153.0 961.4 L1153.5 951.7 L1154.0 964.9 L1154.5 969.5 L1155.0 946.5 L1155.5 970.0 L1156.0 968.8 L1156.5 960.4 L1157.0 957.4 L1157.5 977.2 L1158.0 961.4 L1158.5 953.2 L1159.0 963.8 L1159.5 971.9 L1160.0 968.9 L1160.5 945.8 L1161.0 951.1 L1161.5 959.4 L1162.0 964.3 L1162.5 964.3 L1163.0 952.1 L1163.5 971.1 L1164.0 967.3 L1164.5 949.5 L1165.0 954.9 L1165.5 962.3 L1166.0 950.0 L1166.5 963.6 L1167.0 964.9 L1167.5 959.6 L1168.0 968.5 L1168.5 979.4 L1169.0 957.8 L1169.5 967.8 L1170.0 959.8 L1170.5 977.1 L1171.0 974.7 L1171.5 963.8 L1172.0 958.5 L1172.5 970.7 L1173.0 963.4 L1173.5 953.3 L1174.0 955.3 L1174.5 962.6 L1175.0 983.1 L1175.5 973.7 L1176.0 976.3 L1176.5 972.5 L1177.0 976.3 L1177.5 977.5 L1178.0 954.7 L1178.5 969.7 L1179.0 969.9 L1179.5 968.8 L1180.0 968.2 L1180.5 945.0 L1181.0 966.2 L1181.5 952.8 L1182.0 972.9 L1182.5 960.2 L1183.0 962.3 L1183.5 964.2 L1184.0 947.2 L1184.5 963.2 L1185.0 953.9 L1185.5 972.8 L1186.0 960.2 L1186.5 955.2 L1187.0 975.1 L1187.5 962.3 L1188.0 956.7 L1188.5 963.9 L1189.0 963.2 L1189.5 966.8 L1190.0 956.6 L1190.5 973.7 L1191.0 967.5 L1191.5 978.2 L1192.0 969.5 L1192.5 957.0 L1193.0 973.6 L1193.5 962.9 L1194.0 965.9 L1194.5 947.1 L1195.0 955.1 L1195.5 976.1 L1196.0 973.9 L1196.5 951.2 L1197.0 967.8 L1197.5 967.9 L1198.0 975.0 L1198.5 956.7 L1199.0 951.7 L1199.5 967.7 L1200.0 960.2 L1200.5 960.8 L1201.0 958.5 L1201.5 975.0 L1202.0 958.8 L1202.5 972.8 L1203.0 970.2 L1203.5 960.5 L1204.0 972.9 L1204.5 975.1 L1205.0 968.3 L1205.5 963.9 L1206.0 971.4 L1206.5 960.2 L1207.0 969.6 L1207.5 977.5 L1208.0 955.8 L1208.5 952.3 L1209.0 971.6 L1209.5 959.4 L1210.0 962.7 L1210.5 967.4 L1211.0 961.6 L1211.5 967.3 L1212.0 958.9 L1212.5 962.4 L1213.0 965.9 L1213.5 970.9 L1214.0 963.5 L1214.5 969.4 L1215.0 971.5 L1215.5 970.8 L1216.0 966.0 L1216.5 977.2 L1217.0 961.0 L1217.5 975.3 L1218.0 975.0 L1218.5 974.2 L1219.0 963.3 L1219.5 975.0 L1220.0 971.2 L1220.5 958.7 L1221.0 965.1 L1221.5 957.3 L1222.0 970.7 L1222.5 978.8 L1223.0 975.2 L1223.5 960.0 L1224.0 960.0 L1224.5 966.5 L1225.0 966.9 L1225.5 974.1 L1226.0 965.6 L1226.5 977.3 L1227.0 964.1 L1227.5 976.8 L1228.0 956.8 L1228.5 964.1 L1229.0 968.9 L1229.5 975.4 L1230.0 973.0 L1230.5 961.9 L1231.0 958.5 L1231.5 969.0 L1232.0 968.6 L1232.5 966.3 L1233.0 969.4 L1233.5 959.1 L1234.0 973.9 L1234.5 977.8 L1235.0 963.0 L1235.5 963.5 L1236.0 980.0 L1236.5 978.9 L1237.0 964.4 L1237.5 965.4 L1238.0 957.2 L1238.5 974.8 L1239.0 972.7 L1239.5 971.5 L1240.0 988.5 L1240.5 970.1 L1241.0 970.7 L1241.5 973.7 L1242.0 970.5 L1242.5 980.5 L1243.0 970.9 L1243.5 973.3 L1244.0 989.2 L1244.5 968.2 L1245.0 963.7 L1245.5 974.0 L1246.0 968.3 L1246.5 968.4 L1247.0 974.9 L1247.5 979.7 L1248.0 962.1 L1248.5 972.1 L1249.0 958.2 L1249.5 980.6 L1250.0 966.3 L1250.5 978.8 L1251.0 987.3 L1251.5 984.1 L1252.0 977.4 L1252.5 960.0 L1253.0 988.3 L1253.5 971.7 L1254.0 980.6 L1254.5 971.3 L1255.0 973.3 L1255.5 986.8 L1256.0 963.2 L1256.5 966.3 L1257.0 973.2 L1257.5 983.1 L1258.0 959.0 L1258.5 984.8 L1259.0 972.6 L1259.5 980.8 L1260.0 992.3 L1260.5 979.6 L1261.0 984.0 L1261.5 986.2 L1262.0 973.8 L1262.5 977.2 L1263.0 974.9 L1263.5 977.9 L1264.0 974.1 L1264.5 972.5 L1265.0 971.9 L1265.5 982.3 L1266.0 966.5 L1266.5 977.5 L1267.0 987.2 L1267.5 966.2 L1268.0 963.4 L1268.5 982.1 L1269.0 970.8 L1269.5 971.4 L1270.0 982.1 L1270.5 979.6 L1271.0 972.0 L1271.5 974.8 L1272.0 965.8 L1272.5 972.9 L1273.0 976.9 L1273.5 981.9 L1274.0 982.3 L1274.5 991.5 L1275.0 977.3 L1275.5 985.8 L1276.0 980.1 L1276.5 970.2 L1277.0 980.7 L1277.5 981.0 L1278.0 983.7 L1278.5 982.3 L1279.0 979.5 L1279.5 971.2 L1280.0 976.1 L1280.5 981.0 L1281.0 984.0 L1281.5 985.5 L1282.0 982.0 L1282.5 984.3 L1283.0 990.8 L1283.5 981.1 L1284.0 975.3 L1284.5 968.4 L1285.0 980.1 L1285.5 984.9 L1286.0 977.1 L1286.5 991.8 L1287.0 973.5 L1287.5 977.5 L1288.0 980.2 L1288.5 971.0 L1289.0 988.6 L1289.5 975.1 L1290.0 971.8 L1290.5 967.0 L1291.0 988.3 L1291.5 991.1 L1292.0 973.7 L1292.5 970.6 L1293.0 978.2 L1293.5 981.7 L1294.0 977.8 L1294.5 985.7 L1295.0 974.1 L1295.5 997.9 L1296.0 985.1 L1296.5 990.2 L1297.0 979.7 L1297.5 990.1 L1298.0 995.4 L1298.5 977.8 L1299.0 984.3 L1299.5 990.9 L1300.0 986.7 L1300.5 977.5 L1301.0 980.5 L1301.5 988.3 L1302.0 986.6 L1302.5 979.5 L1303.0 986.8 L1303.5 968.4 L1304.0 985.2 L1304.5 991.7 L1305.0 991.7 L1305.5 981.9 L1306.0 986.9 L1306.5 986.8 L1307.0 984.3 L1307.5 979.4 L1308.0 974.9 L1308.5 980.8 L1309.0 976.3 L1309.5 970.0 L1310.0 993.4 L1310.5 974.4 L1311.0 980.0 L1311.5 980.0 L1312.0 972.1 L1312.5 986.7 L1313.0 972.3 L1313.5 996.6 L1314.0 974.5 L1314.5 978.7 L1315.0 983.1 L1315.5 983.4 L1316.0 984.4 L1316.5 992.3 L1317.0 994.2 L1317.5 1001.7 L1318.0 978.1 L1318.5 994.0 L1319.0 991.6 L1319.5 985.0 L1320.0 978.1 L1320.5 1002.2 L1321.0 995.7 L1321.5 975.2 L1322.0 998.0 L1322.5 990.8 L1323.0 989.3 L1323.5 993.2 L1324.0 983.7 L1324.5 986.9 L1325.0 994.4 L1325.5 980.1 L1326.0 978.7 L1326.5 976.6 L1327.0 993.2 L1327.5 981.0 L1328.0 985.7 L1328.5 984.8 L1329.0 992.1 L1329.5 990.6 L1330.0 982.8 L1330.5 997.6 L1331.0 991.2 L1331.5 990.6 L1332.0 985.4 L1332.5 986.1 L1333.0 986.7 L1333.5 988.5 L1334.0 991.3 L1334.5 991.3 L1335.0 986.8 L1335.5 987.7 L1336.0 993.3 L1336.5 996.6 L1337.0 997.0 L1337.5 988.4 L1338.0 980.1 L1338.5 989.8 L1339.0 989.8 L1339.5 989.3 L1340.0 992.2 L1340.5 985.4 L1341.0 989.6 L1341.5 973.5 L1342.0 1000.9 L1342.5 989.1 L1343.0 986.7 L1343.5 992.5 L1344.0 987.3 L1344.5 984.0 L1345.0 994.7 L1345.5 989.4 L1346.0 984.4 L1346.5 993.8 L1347.0 992.1 L1347.5 991.7 L1348.0 987.1 L1348.5 996.6 L1349.0 983.0 L1349.5 995.0 L1350.0 999.7 L1350.5 983.0 L1351.0 990.9 L1351.5 976.9 L1352.0 989.6 L1352.5 977.5 L1353.0 980.1 L1353.5 990.8 L1354.0 996.9 L1354.5 993.0 L1355.0 988.0 L1355.5 984.1 L1356.0 989.7 L1356.5 1005.2 L1357.0 999.6 L1357.5 980.5 L1358.0 984.9 L1358.5 979.9 L1359.0 993.8 L1359.5 988.0 L1360.0 979.3 L1360.5 988.9 L1361.0 986.8 L1361.5 982.8 L1362.0 987.8 L1362.5 996.4 L1363.0 983.9 L1363.5 987.9 L1364.0 980.6 L1364.5 987.7 L1365.0 1000.2 L1365.5 994.5 L1366.0 985.8 L1366.5 986.7 L1367.0 999.7 L1367.5 990.1 L1368.0 987.5 L1368.5 999.1 L1369.0 988.5 L1369.5 986.4 L1370.0 994.3 L1370.5 982.5 L1371.0 988.7 L1371.5 986.3 L1372.0 992.9 L1372.5 991.2 L1373.0 1004.8 L1373.5 996.9 L1374.0 992.4 L1374.5 996.3 L1375.0 990.9 L1375.5 994.3 L1376.0 996.6 L1376.5 995.9 L1377.0 1002.5 L1377.5 996.7 L1378.0 987.9 L1378.5 994.8 L1379.0 985.1 L1379.5 1007.1 L1380.0 980.1 L1380.5 992.3 L1381.0 996.8 L1381.5 987.0 L1382.0 990.6 L1382.5 1000.8 L1383.0 985.4 L1383.5 1000.2 L1384.0 992.4 L1384.5 991.6 L1385.0 1007.9 L1385.5 999.7 L1386.0 997.2 L1386.5 992.9 L1387.0 996.0 L1387.5 993.7 L1388.0 1007.5 L1388.5 996.5 L1389.0 990.3 L1389.5 992.0 L1390.0 998.3 L1390.5 988.2 L1391.0 990.7 L1391.5 985.0 L1392.0 980.4 L1392.5 1010.9 L1393.0 994.9 L1393.5 1008.6 L1394.0 1000.5 L1394.5 998.8 L1395.0 989.5 L1395.5 996.8 L1396.0 998.4 L1396.5 991.3 L1397.0 1002.3 L1397.5 1006.0 L1398.0 1001.0 L1398.5 999.4 L1399.0 986.6 L1399.5 1012.6 L1400.0 1003.4 L1400.5 990.6 L1401.0 990.9 L1401.5 994.2 L1402.0 992.2 L1402.5 999.2 L1403.0 993.3 L1403.5 1000.1 L1404.0 996.3 L1404.5 997.7 L1405.0 991.7 L1405.5 1000.8 L1406.0 1001.3 L1406.5 994.1 L1407.0 988.6 L1407.5 999.9 L1408.0 987.6 L1408.5 994.2 L1409.0 1002.4 L1409.5 1007.6 L1410.0 997.4 L1410.5 1001.4 L1411.0 1007.6 L1411.5 992.3 L1412.0 996.3 L1412.5 1001.0 L1413.0 1007.7 L1413.5 991.4 L1414.0 991.2 L1414.5 1005.3 L1415.0 1006.8 L1415.5 994.9 L1416.0 999.3 L1416.5 1005.1 L1417.0 997.5 L1417.5 986.6 L1418.0 1000.1 L1418.5 1004.8 L1419.0 990.6 L1419.5 1007.0 L1420.0 996.6 L1420.5 987.2 L1421.0 1000.1 L1421.5 989.0 L1422.0 1007.6 L1422.5 1002.0 L1423.0 1010.3 L1423.5 988.2 L1424.0 999.8 L1424.5 1008.4 L1425.0 1006.8 L1425.5 1003.3 L1426.0 1001.6 L1426.5 1003.4 L1427.0 1005.9 L1427.5 1011.0 L1428.0 988.0 L1428.5 992.9 L1429.0 995.7 L1429.5 1000.9 L1430.0 1002.1 L1430.5 997.3 L1431.0 999.2 L1431.5 1004.7 L1432.0 1007.6 L1432.5 994.6 L1433.0 998.2 L1433.5 1000.3 L1434.0 1014.5 L1434.5 995.7 L1435.0 1002.1 L1435.5 1000.4 L1436.0 997.4 L1436.5 1006.4 L1437.0 999.7 L1437.5 997.0 L1438.0 1000.8 L1438.5 1002.1 L1439.0 996.2 L1439.5 995.5 L1440.0 1007.9 L1440.5 996.6 L1441.0 1006.6 L1441.5 999.5 L1442.0 994.9 L1442.5 993.0 L1443.0 989.3 L1443.5 1005.1 L1444.0 1004.9 L1444.5 997.8 L1445.0 993.4 L1445.5 996.9 L1446.0 1001.5 L1446.5 1008.9 L1447.0 996.1 L1447.5 989.2 L1448.0 1001.9 L1448.5 998.0 L1449.0 994.8 L1449.5 987.9 L1450.0 1004.1 L1450.5 1009.7 L1451.0 993.4 L1451.5 990.2 L1452.0 996.5 L1452.5 998.1 L1453.0 1003.6 L1453.5 1000.7 L1454.0 988.7 L1454.5 1001.8 L1455.0 1001.9 L1455.5 996.4 L1456.0 1001.9 L1456.5 990.8 L1457.0 997.6 L1457.5 990.8 L1458.0 999.8 L1458.5 1005.0 L1459.0 986.8 L1459.5 1000.1 L1460.0 1004.8 L1460.5 1001.6 L1461.0 1010.7 L1461.5 999.5 L1462.0 1014.5 L1462.5 1000.7 L1463.0 991.9 L1463.5 999.1 L1464.0 995.6 L1464.5 1008.2 L1465.0 1011.0 L1465.5 1011.6 L1466.0 1005.4 L1466.5 999.4 L1467.0 996.5 L1467.5 992.8 L1468.0 1004.9 L1468.5 992.0 L1469.0 998.7 L1469.5 1001.9 L1470.0 1003.4 L1470.5 991.1 L1471.0 992.1 L1471.5 992.5 L1472.0 1006.1 L1472.5 992.8 L1473.0 994.3 L1473.5 1004.4 L1474.0 1006.7 L1474.5 1013.1 L1475.0 1000.4 L1475.5 1006.8 L1476.0 988.7 L1476.5 1004.8 L1477.0 1006.4 L1477.5 1007.2 L1478.0 997.6 L1478.5 1010.3 L1479.0 1011.7 L1479.5 1001.0 L1480.0 1001.3 L1480.5 998.7 L1481.0 998.9 L1481.5 1000.9 L1482.0 992.4 L1482.5 991.8 L1483.0 999.0 L1483.5 997.4 L1484.0 1007.2 L1484.5 999.4 L1485.0 994.4 L1485.5 988.9 L1486.0 998.6 L1486.5 993.7 L1487.0 988.8 L1487.5 1013.6 L1488.0 988.0 L1488.5 1012.0 L1489.0 1015.9 L1489.5 1001.7 L1490.0 998.0 L1490.5 1005.5 L1491.0 995.0 L1491.5 1002.3 L1492.0 1006.2 L1492.5 992.6 L1493.0 1011.4 L1493.5 1001.6 L1494.0 1003.0 L1494.5 1009.9 L1495.0 991.7 L1495.5 992.8 L1496.0 1003.1 L1496.5 1003.6 L1497.0 999.6 L1497.5 1000.4 L1498.0 999.6 L1498.5 994.9 L1499.0 992.7 L1499.5 996.4 L1500.0 1001.9 L1500.5 1003.9 L1501.0 993.2 L1501.5 1012.0 L1502.0 1015.0 L1502.5 1002.4 L1503.0 996.2 L1503.5 1000.1 L1504.0 1006.0 L1504.5 1000.6 L1505.0 1012.6 L1505.5 999.5 L1506.0 1006.9 L1506.5 1004.0 L1507.0 1014.5 L1507.5 1003.7 L1508.0 1004.1 L1508.5 996.3 L1509.0 999.8 L1509.5 993.7 L1510.0 1014.1 L1510.5 1001.7 L1511.0 1000.2 L1511.5 1001.6 L1512.0 1003.7 L1512.5 1004.6 L1513.0 991.5 L1513.5 1008.5 L1514.0 1001.8 L1514.5 1001.2 L1515.0 1011.3 L1515.5 1003.0 L1516.0 997.3 L1516.5 996.9 L1517.0 1005.7 L1517.5 1001.9 L1518.0 1002.3 L1518.5 994.8 L1519.0 1002.4 L1519.5 998.1 L1520.0 997.5 L1520.5 1008.2 L1521.0 1003.0 L1521.5 1000.0 L1522.0 1006.7 L1522.5 1011.3 L1523.0 993.4 L1523.5 1006.4 L1524.0 1002.7 L1524.5 1000.9 L1525.0 1008.8 L1525.5 1005.8 L1526.0 998.8 L1526.5 1008.0 L1527.0 1000.2 L1527.5 1001.1 L1528.0 993.9 L1528.5 1001.3 L1529.0 1004.4 L1529.5 999.2 L1530.0 1001.2 L1530.5 1008.1 L1531.0 1000.1 L1531.5 997.4 L1532.0 1010.4 L1532.5 996.8 L1533.0 988.2 L1533.5 993.5 L1534.0 999.3 L1534.5 993.8 L1535.0 994.1 L1535.5 997.8 L1536.0 999.5 L1536.5 999.1 L1537.0 1000.5 L1537.5 1006.8 L1538.0 1013.4 L1538.5 1007.4 L1539.0 1004.4 L1539.5 996.4 L1540.0 1001.0 L1540.5 994.1 L1541.0 1000.2 L1541.5 993.8 L1542.0 1006.7 L1542.5 1012.9 L1543.0 1006.0 L1543.5 1013.5 L1544.0 993.4 L1544.5 1005.5 L1545.0 999.4 L1545.5 1001.3 L1546.0 993.8 L1546.5 1000.0 L1547.0 999.8 L1547.5 996.2 L1548.0 1007.3 L1548.5 1005.1 L1549.0 1007.8 L1549.5 997.5 L1550.0 996.8 L1550.5 993.8 L1551.0 1005.8 L1551.5 1006.7 L1552.0 1000.8 L1552.5 996.8 L1553.0 1001.6 L1553.5 1004.0 L1554.0 1004.3 L1554.5 999.8 L1555.0 1007.9 L1555.5 1008.9 L1556.0 996.3 L1556.5 1003.4 L1557.0 1002.0 L1557.5 994.2 L1558.0 998.5 L1558.5 1003.3 L1559.0 1008.7 L1559.5 997.8 L1560.0 999.8 L1560.5 1000.8 L1561.0 999.7 L1561.5 994.0 L1562.0 1006.9 L1562.5 1001.0 L1563.0 1004.8 L1563.5 1006.2 L1564.0 1000.0 L1564.5 997.0 L1565.0 998.6 L1565.5 999.7 L1566.0 998.0 L1566.5 1001.0 L1567.0 994.9 L1567.5 1000.3 L1568.0 999.5 L1568.5 1004.3 L1569.0 1005.7 L1569.5 1012.9 L1570.0 1009.6 L1570.5 1006.9 L1571.0 1003.2 L1571.5 1003.6 L1572.0 1005.3 L1572.5 1002.0 L1573.0 1003.5 L1573.5 998.6 L1574.0 1005.3 L1574.5 998.2 L1575.0 1000.6 L1575.5 1000.2 L1576.0 1015.2 L1576.5 1003.9 L1577.0 1008.6 L1577.5 996.3 L1578.0 1006.4 L1578.5 1001.6 L1579.0 1008.4 L1579.5 1001.0 L1580.0 996.8 L1580.5 1007.4 L1581.0 1003.4 L1581.5 995.8 L1582.0 1002.6 L1582.5 997.8 L1583.0 1007.0 L1583.5 1003.6 L1584.0 1005.1 L1584.5 997.8 L1585.0 1010.6 L1585.5 999.8 L1586.0 1004.8 L1586.5 1001.7 L1587.0 1003.5 L1587.5 996.2 L1588.0 1003.5 L1588.5 1005.3 L1589.0 995.8 L1589.5 1008.9 L1590.0 997.4 L1590.5 999.9 L1591.0 999.4 L1591.5 1009.6 L1592.0 1000.0 L1592.5 1000.5 L1593.0 1004.8 L1593.5 1003.8 L1594.0 1009.5 L1594.5 1000.5 L1595.0 999.4 L1595.5 998.3 L1596.0 998.3 L1596.5 1006.9 L1597.0 1005.7 L1597.5 1000.8 L1598.0 1002.0 L1598.5 989.9 L1599.0 1007.6 L1599.5 1005.3 L1600.0 990.3 L1600.5 999.4 L1601.0 1002.1 L1601.5 1011.1 L1602.0 1004.1 L1602.5 1010.0 L1603.0 1011.9 L1603.5 1006.9 L1604.0 996.9 L1604.5 994.6 L1605.0 1000.8 L1605.5 1007.1 L1606.0 1005.1 L1606.5 994.7 L1607.0 1006.8 L1607.5 997.0 L1608.0 1000.1 L1608.5 1008.6 L1609.0 1003.2 L1609.5 999.2 L1610.0 997.7 L1610.5 1002.8 L1611.0 1004.0 L1611.5 1001.4 L1612.0 997.5 L1612.5 1005.2 L1613.0 1007.5 L1613.5 995.3 L1614.0 1006.2 L1614.5 998.4 L1615.0 1000.6 L1615.5 1008.2 L1616.0 994.5 L1616.5 1001.4 L1617.0 1012.8 L1617.5 1011.3 L1618.0 998.6 L1618.5 995.3 L1619.0 1010.1 L1619.5 1003.6 L1620.0 1003.8 L1620.5 992.3 L1621.0 1002.7 L1621.5 992.4 L1622.0 1000.4 L1622.5 1013.7 L1623.0 1010.0 L1623.5 1012.1 L1624.0 1002.5 L1624.5 1004.6 L1625.0 999.7 L1625.5 1014.8 L1626.0 999.0 L1626.5 993.3 L1627.0 999.3 L1627.5 1008.8 L1628.0 998.9 L1628.5 1003.4 L1629.0 993.3 L1629.5 998.1 L1630.0 994.0 L1630.5 995.1 L1631.0 1000.5 L1631.5 1005.7 L1632.0 1014.0 L1632.5 1005.6 L1633.0 995.3 L1633.5 995.2 L1634.0 992.6 L1634.5 1001.3 L1635.0 996.0 L1635.5 1000.6 L1636.0 995.0 L1636.5 1011.6 L1637.0 1000.2 L1637.5 1006.6 L1638.0 1000.3 L1638.5 1015.5 L1639.0 993.4 L1639.5 1005.5 L1640.0 1010.8 L1640.5 1002.3 L1641.0 1008.4 L1641.5 1002.3 L1642.0 1009.6 L1642.5 1002.6 L1643.0 1013.4 L1643.5 993.3 L1644.0 1007.6 L1644.5 999.9 L1645.0 1000.4 L1645.5 1006.4 L1646.0 999.1 L1646.5 998.9 L1647.0 1006.5 L1647.5 996.2 L1648.0 1001.5 L1648.5 1009.3 L1649.0 998.0 L1649.5 1010.4 L1650.0 996.5 L1650.5 1004.5 L1651.0 1003.5 L1651.5 994.5 L1652.0 1007.7 L1652.5 994.3 L1653.0 1011.4 L1653.5 1012.3 L1654.0 999.1 L1654.5 1003.4 L1655.0 1001.8 L1655.5 994.2 L1656.0 997.8 L1656.5 1002.6 L1657.0 1002.9 L1657.5 1010.6 L1658.0 1000.2 L1658.5 999.7 L1659.0 1007.2 L1659.5 1007.8 L1660.0 1001.7 L1660.5 1004.5 L1661.0 999.7 L1661.5 1002.2 L1662.0 990.3 L1662.5 992.5 L1663.0 1008.5 L1663.5 999.4 L1664.0 996.6 L1664.5 1006.4 L1665.0 1015.9 L1665.5 1009.7 L1666.0 1006.0 L1666.5 1003.6 L1667.0 1014.7 L1667.5 1014.2 L1668.0 1005.2 L1668.5 1001.8 L1669.0 1004.6 L1669.5 1007.2 L1670.0 1003.0 L1670.5 1000.9 L1671.0 1000.2 L1671.5 995.0 L1672.0 1002.2 L1672.5 1005.5 L1673.0 995.7 L1673.5 998.4 L1674.0 1009.6 L1674.5 998.6 L1675.0 1005.9 L1675.5 996.7 L1676.0 991.5 L1676.5 1005.7 L1677.0 1007.2 L1677.5 1004.8 L1678.0 1003.0 L1678.5 1012.3 L1679.0 1001.4 L1679.5 998.4 L1680.0 1004.8 L1680.5 1009.8 L1681.0 1005.4 L1681.5 1009.7 L1682.0 1012.9 L1682.5 998.5 L1683.0 1002.5 L1683.5 1001.7 L1684.0 1007.0 L1684.5 993.3 L1685.0 1009.3 L1685.5 994.7 L1686.0 1005.7 L1686.5 1001.3 L1687.0 1000.5 L1687.5 1006.7 L1688.0 995.6 L1688.5 1007.0 L1689.0 1001.2 L1689.5 994.7 L1690.0 1009.5 L1690.5 995.6 L1691.0 1007.1 L1691.5 1000.8 L1692.0 1001.0 L1692.5 1012.0 L1693.0 1005.2 L1693.5 1001.9 L1694.0 1008.9 L1694.5 1000.4 L1695.0 1013.4 L1695.5 999.5 L1696.0 1006.8 L1696.5 999.9 L1697.0 1007.9 L1697.5 998.0 L1698.0 1003.0 L1698.5 1008.1 L1699.0 995.4 L1699.5 1002.4 L1700.0 1006.2 L1700.5 1000.5 L1701.0 1001.4 L1701.5 1008.0 L1702.0 1009.1 L1702.5 993.8 L1703.0 998.1 L1703.5 989.9 L1704.0 1003.3 L1704.5 1007.5 L1705.0 998.1 L1705.5 996.0 L1706.0 1006.4 L1706.5 1000.3 L1707.0 1016.6 L1707.5 1013.0 L1708.0 992.0 L1708.5 1008.1 L1709.0 1008.0 L1709.5 1008.3 L1710.0 1003.7 L1710.5 994.7 L1711.0 1004.6 L1711.5 1000.6 L1712.0 1015.2 L1712.5 1007.7 L1713.0 1012.0 L1713.5 997.5 L1714.0 1004.1 L1714.5 1002.6 L1715.0 998.5 L1715.5 1001.2 L1716.0 994.3 L1716.5 1004.8 L1717.0 998.3 L1717.5 1004.8 L1718.0 1006.4 L1718.5 1002.3 L1719.0 999.4 L1719.5 1009.1 L1720.0 1009.0 L1720.5 1000.9 L1721.0 1010.6 L1721.5 991.1 L1722.0 1005.1 L1722.5 1007.2 L1723.0 1004.0 L1723.5 993.8 L1724.0 1004.3 L1724.5 1010.4 L1725.0 1006.3" stroke="#ff0000" stroke-width="6.0"/>
<path d="M221.0 980.7 L221.5 972.1 L222.0 973.3 L222.5 980.9 L223.0 983.7 L223.5 987.5 L224.0 984.7 L224.5 1001.6 L225.0 985.7 L225.5 990.1 L226.0 985.2 L226.5 982.1 L227.0 987.5 L227.5 996.7 L228.0 978.9 L228.5 969.3 L229.0 980.4 L229.5 996.5 L230.0 980.3 L230.5 992.8 L231.0 1004.4 L231.5 996.8 L232.0 971.0 L232.5 994.1 L233.0 984.8 L233.5 989.2 L234.0 979.3 L234.5 994.1 L235.0 1000.8 L235.5 987.4 L236.0 978.0 L236.5 980.2 L237.0 1012.2 L237.5 991.5 L238.0 986.6 L238.5 1003.6 L239.0 987.9 L239.5 992.6 L240.0 985.9 L240.5 1001.9 L241.0 999.4 L241.5 1014.3 L242.0 999.5 L242.5 995.8 L243.0 991.1 L243.5 1007.7 L244.0 996.3 L244.5 1003.6 L245.0 999.5 L245.5 1020.0 L246.0 997.6 L246.5 993.6 L247.0 1008.7 L247.5 1006.6 L248.0 1006.5 L248.5 1017.5 L249.0 1017.2 L249.5 1016.9 L250.0 1028.0 L250.5 1008.3 L251.0 1022.5 L251.5 1008.8 L252.0 1017.7 L252.5 994.6 L253.0 1008.3 L253.5 1018.8 L254.0 1022.5 L254.5 1013.2 L255.0 1003.9 L255.5 1023.6 L256.0 1029.9 L256.5 996.1 L257.0 1015.1 L257.5 1019.3 L258.0 1018.4 L258.5 999.2 L259.0 1017.6 L259.5 1015.7 L260.0 1011.7 L260.5 1023.9 L261.0 1024.9 L261.5 1010.3 L262.0 1032.6 L262.5 1003.1 L263.0 1038.9 L263.5 1002.6 L264.0 1032.4 L264.5 1002.4 L265.0 1022.4 L265.5 1026.1 L266.0 1007.3 L266.5 1024.1 L267.0 1003.3 L267.5 1008.0 L268.0 1016.2 L268.5 1015.5 L269.0 1019.3 L269.5 1020.8 L270.0 1039.4 L270.5 1023.0 L271.0 1013.5 L271.5 1011.6 L272.0 1011.1 L272.5 1014.7 L273.0 1003.3 L273.5 1031.5 L274.0 1013.6 L274.5 998.6 L275.0 999.8 L275.5 1019.6 L276.0 1013.2 L276.5 1000.6 L277.0 996.7 L277.5 996.6 L278.0 1012.5 L278.5 1003.0 L279.0 986.3 L279.5 1012.1 L280.0 978.2 L280.5 996.8 L281.0 1024.4 L281.5 1014.6 L282.0 978.1 L282.5 995.9 L283.0 993.4 L283.5 1015.4 L284.0 1007.9 L284.5 1019.5 L285.0 1011.5 L285.5 1010.2 L286.0 990.7 L286.5 996.9 L287.0 996.8 L287.5 986.4 L288.0 1016.6 L288.5 1005.7 L289.0 981.2 L289.5 1011.1 L290.0 991.4 L290.5 1008.3 L291.0 993.9 L291.5 988.6 L292.0 987.8 L292.5 983.1 L293.0 991.7 L293.5 981.5 L294.0 1003.1 L294.5 990.0 L295.0 995.4 L295.5 1001.1 L296.0 985.6 L296.5 982.0 L297.0 1013.1 L297.5 980.6 L298.0 989.0 L298.5 1000.7 L299.0 1000.2 L299.5 993.2 L300.0 985.6 L300.5 1006.4 L301.0 1001.1 L301.5 995.4 L302.0 994.8 L302.5 1002.8 L303.0 1005.5 L303.5 996.3 L304.0 995.7 L304.5 1000.3 L305.0 978.8 L305.5 1006.6 L306.0 985.9 L306.5 993.0 L307.0 998.1 L307.5 992.9 L308.0 1002.0 L308.5 1006.7 L309.0 993.7 L309.5 997.7 L310.0 996.6 L310.5 1001.1 L311.0 994.4 L311.5 994.2 L312.0 994.1 L312.5 997.1 L313.0 1003.7 L313.5 990.5 L314.0 1003.6 L314.5 998.1 L315.0 997.6 L315.5 988.0 L316.0 994.6 L316.5 1009.0 L317.0 998.3 L317.5 1013.9 L318.0 996.9 L318.5 994.5 L319.0 1007.0 L319.5 998.0 L320.0 1010.0 L320.5 1014.9 L321.0 1011.5 L321.5 1008.7 L322.0 1001.8 L322.5 1014.0 L323.0 1014.6 L323.5 1009.4 L324.0 1010.9 L324.5 1008.1 L325.0 1015.3 L325.5 1014.5 L326.0 1012.8 L326.5 1018.6 L327.0 1020.5 L327.5 1018.9 L328.0 1016.7 L328.5 1014.6 L329.0 1024.8 L329.5 1018.0 L330.0 1028.0 L330.5 1023.7 L331.0 1034.8 L331.5 1019.3 L332.0 1019.3 L332.5 1024.8 L333.0 1024.5 L333.5 1021.2 L334.0 1022.9 L334.5 1029.0 L335.0 1023.1 L335.5 1009.4 L336.0 1014.6 L336.5 1039.7 L337.0 1017.5 L337.5 1023.2 L338.0 1021.9 L338.5 1022.2 L339.0 1025.7 L339.5 1038.0 L340.0 1027.2 L340.5 1022.3 L341.0 1028.2 L341.5 1033.8 L342.0 1010.4 L342.5 1045.9 L343.0 1014.9 L343.5 1031.8 L344.0 1044.3 L344.5 1039.0 L345.0 1042.2 L345.5 1037.1 L346.0 1027.0 L346.5 1053.0 L347.0 1053.6 L347.5 1039.5 L348.0 1036.2 L348.5 1035.3 L349.0 1035.4 L349.5 1034.1 L350.0 1045.5 L350.5 1028.9 L351.0 1050.5 L351.5 1027.1 L352.0 1021.7 L352.5 1031.1 L353.0 1036.6 L353.5 1032.4 L354.0 1038.0 L354.5 1032.0 L355.0 1030.3 L355.5 1033.3 L356.0 1026.5 L356.5 1030.2 L357.0 1033.3 L357.5 1019.9 L358.0 1052.3 L358.5 1019.0 L359.0 1035.6 L359.5 1042.2 L360.0 1039.3 L360.5 1048.9 L361.0 1041.9 L361.5 1035.4 L362.0 1043.0 L362.5 1048.5 L363.0 1054.7 L363.5 1041.3 L364.0 1050.9 L364.5 1045.4 L365.0 1034.3 L365.5 1027.3 L366.0 1040.0 L366.5 1037.6 L367.0 1027.8 L367.5 1050.8 L368.0 1057.3 L368.5 1056.1 L369.0 1039.1 L369.5 1045.0 L370.0 1039.6 L370.5 1052.2 L371.0 1052.5 L371.5 1055.1 L372.0 1053.4 L372.5 1071.1 L373.0 1061.4 L373.5 1061.0 L374.0 1063.1 L374.5 1081.4 L375.0 1063.5 L375.5 1073.8 L376.0 1059.0 L376.5 1079.6 L377.0 1071.5 L377.5 1053.0 L378.0 1084.3 L378.5 1059.1 L379.0 1062.9 L379.5 1081.7 L380.0 1084.6 L380.5 1077.6 L381.0 1076.7 L381.5 1074.6 L382.0 1077.2 L382.5 1073.2 L383.0 1069.9 L383.5 1091.7 L384.0 1076.9 L384.5 1093.5 L385.0 1096.5 L385.5 1088.6 L386.0 1085.6 L386.5 1069.4 L387.0 1072.3 L387.5 1072.1 L388.0 1074.2 L388.5 1087.5 L389.0 1068.3 L389.5 1087.7 L390.0 1092.6 L390.5 1087.0 L391.0 1091.6 L391.5 1058.5 L392.0 1082.8 L392.5 1086.7 L393.0 1085.0 L393.5 1085.3 L394.0 1082.7 L394.5 1081.4 L395.0 1083.4 L395.5 1093.6 L396.0 1074.9 L396.5 1081.7 L397.0 1092.6 L397.5 1083.3 L398.0 1084.9 L398.5 1075.8 L399.0 1078.3 L399.5 1088.2 L400.0 1066.7 L400.5 1077.5 L401.0 1088.0 L401.5 1087.2 L402.0 1087.4 L402.5 1090.2 L403.0 1070.5 L403.5 1070.3 L404.0 1081.6 L404.5 1073.4 L405.0 1069.1 L405.5 1082.2 L406.0 1086.9 L406.5 1088.2 L407.0 1083.6 L407.5 1079.6 L408.0 1096.4 L408.5 1079.8 L409.0 1079.0 L409.5 1078.9 L410.0 1081.5 L410.5 1080.9 L411.0 1084.5 L411.5 1076.6 L412.0 1085.5 L412.5 1088.7 L413.0 1087.2 L413.5 1082.4 L414.0 1079.5 L414.5 1095.3 L415.0 1082.8 L415.5 1094.4 L416.0 1097.0 L416.5 1067.9 L417.0 1089.5 L417.5 1083.2 L418.0 1074.8 L418.5 1086.6 L419.0 1086.6 L419.5 1083.8 L420.0 1087.2 L420.5 1080.5 L421.0 1080.7 L421.5 1092.9 L422.0 1083.6 L422.5 1073.6 L423.0 1064.0 L423.5 1074.9 L424.0 1069.0 L424.5 1072.6 L425.0 1082.2 L425.5 1075.3 L426.0 1074.3 L426.5 1076.1 L427.0 1090.9 L427.5 1089.0 L428.0 1079.0 L428.5 1074.1 L429.0 1079.8 L429.5 1067.7 L430.0 1066.4 L430.5 1074.9 L431.0 1070.5 L431.5 1071.8 L432.0 1074.8 L432.5 1074.2 L433.0 1078.3 L433.5 1067.4 L434.0 1073.7 L434.5 1075.1 L435.0 1079.0 L435.5 1073.1 L436.0 1064.5 L436.5 1055.7 L437.0 1068.8 L437.5 1059.5 L438.0 1068.9 L438.5 1070.3 L439.0 1062.4 L439.5 1071.5 L440.0 1073.1 L440.5 1060.9 L441.0 1066.7 L441.5 1065.4 L442.0 1052.6 L442.5 1061.4 L443.0 1069.8 L443.5 1067.2 L444.0 1072.7 L444.5 1058.1 L445.0 1063.6 L445.5 1059.9 L446.0 1062.6 L446.5 1061.8 L447.0 1067.4 L447.5 1069.1 L448.0 1069.0 L448.5 1061.7 L449.0 1068.1 L449.5 1059.8 L450.0 1065.8 L450.5 1074.8 L451.0 1075.1 L451.5 1065.9 L452.0 1052.8 L452.5 1064.4 L453.0 1074.7 L453.5 1066.4 L454.0 1063.0 L454.5 1059.5 L455.0 1055.6 L455.5 1046.7 L456.0 1052.9 L456.5 1047.0 L457.0 1057.9 L457.5 1059.8 L458.0 1050.0 L458.5 1044.8 L459.0 1043.6 L459.5 1047.9 L460.0 1054.2 L460.5 1049.0 L461.0 1028.4 L461.5 1041.3 L462.0 1060.3 L462.5 1044.9 L463.0 1044.7 L463.5 1044.4 L464.0 1034.5 L464.5 1023.9 L465.0 1046.1 L465.5 1021.0 L466.0 1041.5 L466.5 1035.4 L467.0 1035.3 L467.5 1021.9 L468.0 1035.5 L468.5 1023.8 L469.0 1022.5 L469.5 1023.4 L470.0 1027.6 L470.5 1023.1 L471.0 1028.2 L471.5 1036.9 L472.0 1031.3 L472.5 1020.0 L473.0 1033.4 L473.5 1019.7 L474.0 1017.1 L474.5 1036.2 L475.0 1023.4 L475.5 1012.7 L476.0 1029.2 L476.5 1024.8 L477.0 1028.2 L477.5 1025.4 L478.0 1009.4 L478.5 1015.9 L479.0 1031.0 L479.5 1013.2 L480.0 1014.6 L480.5 1012.9 L481.0 1011.3 L481.5 1021.7 L482.0 1019.9 L482.5 1017.8 L483.0 1016.9 L483.5 1011.0 L484.0 1022.2 L484.5 1027.2 L485.0 1022.6 L485.5 1008.4 L486.0 1018.9 L486.5 1016.1 L487.0 1011.8 L487.5 1003.2 L488.0 1009.1 L488.5 1014.3 L489.0 1009.1 L489.5 1004.8 L490.0 1011.2 L490.5 1009.5 L491.0 1003.6 L491.5 1016.7 L492.0 1017.1 L492.5 1014.6 L493.0 998.9 L493.5 1021.9 L494.0 1019.2 L494.5 996.6 L495.0 1007.5 L495.5 1020.2 L496.0 1019.1 L496.5 987.5 L497.0 1002.8 L497.5 1000.3 L498.0 1003.8 L498.5 1007.7 L499.0 1019.1 L499.5 1009.2 L500.0 1009.1 L500.5 997.3 L501.0 1012.0 L501.5 1006.9 L502.0 1001.8 L502.5 1007.9 L503.0 999.0 L503.5 988.4 L504.0 990.6 L504.5 1013.5 L505.0 1002.5 L505.5 1001.5 L506.0 1019.7 L506.5 990.4 L507.0 995.0 L507.5 992.4 L508.0 987.2 L508.5 997.7 L509.0 993.0 L509.5 997.6 L510.0 972.0 L510.5 998.3 L511.0 999.2 L511.5 1001.1 L512.0 987.6 L512.5 992.8 L513.0 981.2 L513.5 970.1 L514.0 1006.4 L514.5 990.1 L515.0 987.8 L515.5 994.8 L516.0 973.8 L516.5 977.4 L517.0 999.6 L517.5 988.7 L518.0 1003.2 L518.5 985.6 L519.0 998.8 L519.5 981.5 L520.0 983.0 L520.5 977.1 L521.0 984.7 L521.5 978.0 L522.0 968.2 L522.5 969.3 L523.0 983.4 L523.5 966.7 L524.0 972.5 L524.5 964.7 L525.0 977.6 L525.5 970.4 L526.0 984.8 L526.5 973.5 L527.0 978.3 L527.5 960.4 L528.0 975.4 L528.5 946.9 L529.0 976.2 L529.5 967.1 L530.0 975.2 L530.5 948.0 L531.0 962.6 L531.5 946.2 L532.0 958.9 L532.5 955.7 L533.0 950.7 L533.5 943.7 L534.0 964.8 L534.5 965.3 L535.0 955.4 L535.5 965.4 L536.0 956.9 L536.5 953.0 L537.0 949.8 L537.5 965.0 L538.0 946.8 L538.5 954.1 L539.0 950.2 L539.5 942.6 L540.0 954.1 L540.5 935.5 L541.0 950.6 L541.5 924.1 L542.0 933.8 L542.5 939.2 L543.0 945.6 L543.5 952.5 L544.0 934.5 L544.5 941.9 L545.0 934.7 L545.5 942.3 L546.0 950.2 L546.5 957.9 L547.0 946.2 L547.5 945.1 L548.0 924.1 L548.5 938.3 L549.0 927.6 L549.5 931.1 L550.0 944.3 L550.5 930.8 L551.0 926.4 L551.5 919.7 L552.0 928.4 L552.5 927.5 L553.0 942.5 L553.5 920.7 L554.0 935.0 L554.5 941.9 L555.0 921.3 L555.5 905.0 L556.0 919.8 L556.5 938.6 L557.0 921.2 L557.5 924.0 L558.0 933.4 L558.5 921.5 L559.0 897.5 L559.5 933.3 L560.0 907.0 L560.5 923.3 L561.0 922.1 L561.5 919.2 L562.0 900.4 L562.5 923.1 L563.0 910.4 L563.5 890.9 L564.0 904.5 L564.5 902.9 L565.0 913.8 L565.5 894.8 L566.0 891.9 L566.5 910.7 L567.0 920.3 L567.5 910.1 L568.0 899.7 L568.5 901.5 L569.0 902.6 L569.5 903.8 L570.0 911.2 L570.5 894.4 L571.0 913.1 L571.5 916.3 L572.0 901.6 L572.5 918.2 L573.0 901.6 L573.5 900.3 L574.0 915.0 L574.5 890.0 L575.0 913.0 L575.5 887.0 L576.0 895.6 L576.5 900.7 L577.0 889.4 L577.5 889.5 L578.0 878.9 L578.5 889.2 L579.0 895.8 L579.5 887.2 L580.0 895.7 L580.5 882.8 L581.0 888.8 L581.5 880.3 L582.0 896.3 L582.5 874.1 L583.0 879.8 L583.5 885.6 L584.0 860.7 L584.5 887.6 L585.0 878.6 L585.5 875.2 L586.0 876.2 L586.5 878.4 L587.0 867.2 L587.5 873.5 L588.0 857.7 L588.5 864.7 L589.0 873.3 L589.5 863.0 L590.0 878.1 L590.5 856.3 L591.0 856.5 L591.5 863.1 L592.0 854.8 L592.5 881.2 L593.0 877.8 L593.5 835.6 L594.0 868.3 L594.5 858.0 L595.0 859.5 L595.5 849.8 L596.0 864.8 L596.5 859.2 L597.0 867.5 L597.5 845.1 L598.0 838.2 L598.5 848.9 L599.0 835.4 L599.5 844.4 L600.0 869.2 L600.5 850.2 L601.0 853.6 L601.5 870.7 L602.0 872.7 L602.5 846.7 L603.0 844.5 L603.5 847.3 L604.0 837.1 L604.5 855.6 L605.0 845.8 L605.5 843.8 L606.0 843.8 L606.5 836.1 L607.0 849.6 L607.5 823.4 L608.0 832.9 L608.5 816.6 L609.0 822.2 L609.5 824.4 L610.0 835.2 L610.5 831.6 L611.0 853.2 L611.5 837.7 L612.0 831.0 L612.5 828.7 L613.0 819.6 L613.5 833.7 L614.0 842.7 L614.5 848.8 L615.0 852.4 L615.5 823.0 L616.0 814.1 L616.5 834.1 L617.0 827.6 L617.5 830.4 L618.0 840.8 L618.5 834.2 L619.0 828.5 L619.5 821.6 L620.0 801.7 L620.5 823.4 L621.0 811.1 L621.5 818.0 L622.0 808.9 L622.5 829.2 L623.0 796.2 L623.5 812.7 L624.0 811.7 L624.5 824.5 L625.0 823.2 L625.5 818.6 L626.0 795.0 L626.5 787.8 L627.0 811.3 L627.5 802.3 L628.0 814.1 L628.5 806.8 L629.0 798.3 L629.5 798.3 L630.0 804.1 L630.5 792.8 L631.0 802.1 L631.5 784.8 L632.0 788.1 L632.5 802.8 L633.0 791.2 L633.5 794.4 L633.8 784.0 L634.0 782.0 L634.5 792.6 L635.0 788.2 L635.5 799.9 L636.0 789.7 L636.5 794.9 L637.0 805.1 L637.5 787.0 L638.0 805.6 L638.5 799.9 L639.0 795.2 L639.5 805.2 L640.0 820.5 L640.5 800.4 L641.0 801.1 L641.5 804.2 L642.0 791.6 L642.5 792.2 L643.0 800.0 L643.5 810.6 L644.0 825.3 L644.5 801.8 L645.0 799.9 L645.5 813.1 L646.0 804.5 L646.5 821.9 L647.0 817.4 L647.5 811.1 L648.0 816.1 L648.5 810.9 L649.0 796.9 L649.5 802.1 L650.0 812.3 L650.5 823.2 L651.0 820.5 L651.5 840.8 L652.0 833.4 L652.5 828.3 L653.0 821.7 L653.5 817.0 L654.0 803.9 L654.5 787.8 L655.0 794.9 L655.5 830.3 L656.0 833.1 L656.5 805.6 L657.0 808.0 L657.5 838.5 L658.0 812.3 L658.5 834.6 L659.0 812.4 L659.5 789.5 L660.0 825.9 L660.5 797.7 L661.0 825.3 L661.5 814.8 L662.0 822.5 L662.5 808.1 L663.0 816.9 L663.5 820.6 L664.0 798.2 L664.5 822.2 L665.0 815.9 L665.5 838.5 L666.0 829.4 L666.5 824.9 L667.0 823.2 L667.5 820.4 L668.0 833.3 L668.5 810.3 L669.0 820.6 L669.5 818.6 L670.0 800.4 L670.5 824.3 L671.0 821.9 L671.5 805.3 L672.0 822.4 L672.5 805.9 L673.0 818.4 L673.5 812.6 L674.0 835.1 L674.5 816.6 L675.0 812.3 L675.5 823.8 L676.0 820.6 L676.5 822.7 L677.0 831.3 L677.5 825.5 L678.0 825.6 L678.5 832.9 L679.0 833.7 L679.5 797.9 L680.0 818.7 L680.5 820.3 L681.0 820.7 L681.5 835.7 L682.0 834.5 L682.5 827.3 L683.0 818.7 L683.5 828.1 L684.0 812.6 L684.5 829.0 L685.0 807.6 L685.5 845.7 L686.0 812.9 L686.5 828.9 L687.0 816.0 L687.5 830.8 L688.0 811.6 L688.5 830.4 L689.0 828.8 L689.5 836.6 L690.0 837.8 L690.5 806.6 L691.0 835.5 L691.5 837.0 L692.0 816.3 L692.5 813.8 L693.0 835.8 L693.5 818.1 L694.0 812.1 L694.5 807.9 L695.0 820.0 L695.5 822.7 L696.0 841.9 L696.5 830.0 L697.0 840.3 L697.5 824.9 L698.0 820.8 L698.5 830.1 L699.0 830.3 L699.5 821.1 L700.0 825.9 L700.5 828.8 L701.0 837.0 L701.5 831.9 L702.0 835.3 L702.5 826.1 L703.0 826.1 L703.5 842.6 L704.0 834.4 L704.5 844.4 L705.0 826.0 L705.5 855.1 L706.0 852.5 L706.5 836.4 L707.0 854.6 L707.5 838.9 L708.0 862.9 L708.5 849.9 L709.0 870.6 L709.5 846.0 L710.0 864.0 L710.5 852.6 L711.0 863.9 L711.5 858.9 L712.0 842.9 L712.5 861.0 L713.0 868.5 L713.5 855.9 L714.0 858.6 L714.5 851.7 L715.0 859.9 L715.5 850.0 L716.0 843.4 L716.5 858.8 L717.0 847.9 L717.5 852.0 L718.0 864.9 L718.5 858.3 L719.0 850.1 L719.5 838.2 L720.0 844.5 L720.5 850.8 L721.0 843.9 L721.5 854.8 L722.0 833.2 L722.5 863.3 L723.0 849.1 L723.5 856.2 L724.0 853.1 L724.5 863.3 L725.0 847.0 L725.5 862.9 L726.0 842.5 L726.5 876.4 L727.0 856.3 L727.5 867.7 L728.0 864.9 L728.5 843.6 L729.0 872.4 L729.5 853.4 L730.0 849.2 L730.5 855.8 L731.0 872.5 L731.5 841.4 L732.0 876.9 L732.5 888.5 L733.0 853.5 L733.5 867.7 L734.0 866.3 L734.5 842.7 L735.0 861.8 L735.5 849.7 L736.0 853.5 L736.5 837.9 L737.0 850.8 L737.5 858.7 L738.0 865.9 L738.5 852.1 L739.0 841.3 L739.5 864.8 L740.0 846.1 L740.5 849.3 L741.0 864.7 L741.5 860.3 L742.0 853.2 L742.5 846.2 L743.0 847.5 L743.5 852.7 L744.0 841.4 L744.5 851.9 L745.0 848.9 L745.5 846.1 L746.0 841.1 L746.5 852.7 L747.0 840.7 L747.5 829.9 L748.0 829.6 L748.5 832.4 L749.0 837.2 L749.5 824.9 L750.0 831.3 L750.5 821.0 L751.0 809.6 L751.5 820.7 L752.0 825.3 L752.5 829.0 L753.0 807.3 L753.5 797.2 L754.0 818.9 L754.5 798.8 L755.0 804.9 L755.5 808.1 L756.0 799.6 L756.5 803.8 L757.0 791.4 L757.5 794.7 L758.0 797.4 L758.5 791.8 L759.0 785.9 L759.2 793.5 L759.5 789.9 L760.0 797.3 L760.5 800.1 L761.0 796.1 L761.5 808.6 L762.0 807.7 L762.5 823.9 L763.0 789.2 L763.5 806.9 L764.0 829.7 L764.5 814.4 L765.0 845.1 L765.5 813.8 L766.0 829.0 L766.5 836.5 L767.0 840.3 L767.5 844.4 L768.0 829.9 L768.5 826.3 L769.0 854.2 L769.5 869.6 L770.0 864.8 L770.5 859.1 L771.0 863.0 L771.5 865.4 L772.0 844.1 L772.5 871.4 L773.0 858.5 L773.5 879.3 L774.0 859.5 L774.5 883.6 L775.0 867.2 L775.5 880.4 L776.0 883.4 L776.5 880.9 L777.0 901.7 L777.5 897.6 L778.0 904.0 L778.5 911.0 L779.0 913.4 L779.5 911.0 L780.0 906.3 L780.5 898.1 L781.0 925.0 L781.5 897.7 L782.0 901.8 L782.5 917.1 L783.0 926.2 L783.5 908.0 L784.0 923.1 L784.5 913.0 L785.0 923.9 L785.5 933.0 L786.0 931.4 L786.5 924.2 L787.0 927.5 L787.5 935.4 L788.0 925.5 L788.5 921.0 L789.0 920.7 L789.5 911.8 L790.0 941.4 L790.5 918.9 L791.0 943.4 L791.5 924.3 L792.0 912.5 L792.5 927.9 L793.0 932.7 L793.5 941.3 L794.0 940.5 L794.5 934.6 L795.0 927.2 L795.5 939.5 L796.0 931.9 L796.5 931.7 L797.0 942.6 L797.5 950.1 L798.0 966.9 L798.5 937.9 L799.0 936.0 L799.5 933.6 L800.0 934.6 L800.5 944.9 L801.0 954.4 L801.5 948.0 L802.0 966.2 L802.5 966.3 L803.0 942.7 L803.5 943.2 L804.0 948.1 L804.5 956.8 L805.0 948.2 L805.5 945.0 L806.0 956.9 L806.5 971.5 L807.0 964.9 L807.5 951.6 L808.0 956.7 L808.5 962.0 L809.0 943.4 L809.5 954.6 L810.0 969.1 L810.5 971.5 L811.0 957.2 L811.5 959.4 L812.0 961.9 L812.5 950.1 L813.0 985.9 L813.5 966.5 L814.0 968.1 L814.5 987.4 L815.0 969.3 L815.5 982.2 L816.0 972.2 L816.5 952.7 L817.0 964.5 L817.5 994.4 L818.0 973.5 L818.5 981.2 L819.0 958.6 L819.5 975.4 L820.0 975.2 L820.5 995.6 L821.0 988.9 L821.5 964.6 L822.0 1003.5 L822.5 972.3 L823.0 993.4 L823.5 985.0 L824.0 997.1 L824.5 1002.3 L825.0 959.5 L825.5 967.6 L826.0 982.5 L826.5 984.0 L827.0 974.7 L827.5 985.4 L828.0 988.2 L828.5 988.0 L829.0 988.7 L829.5 987.9 L830.0 995.3 L830.5 983.6 L831.0 974.8 L831.5 998.1 L832.0 996.4 L832.5 999.9 L833.0 1004.0 L833.5 996.4 L834.0 986.7 L834.5 986.8 L835.0 968.7 L835.5 979.6 L836.0 980.9 L836.5 973.1 L837.0 1007.2 L837.5 983.0 L838.0 991.2 L838.5 990.1 L839.0 990.3 L839.5 999.3 L840.0 986.6 L840.5 984.6 L841.0 996.9 L841.5 987.8 L842.0 973.6 L842.5 988.6 L843.0 993.1 L843.5 984.6 L844.0 998.3 L844.5 995.2 L845.0 995.0 L845.5 977.5 L846.0 996.6 L846.5 994.3 L847.0 1011.8 L847.5 991.4 L848.0 1001.1 L848.5 997.8 L849.0 996.4 L849.5 999.8 L850.0 995.1 L850.5 977.5 L851.0 996.2 L851.5 998.8 L852.0 1000.5 L852.5 978.0 L853.0 986.7 L853.5 1005.1 L854.0 1005.9 L854.5 1000.1 L855.0 993.9 L855.5 972.7 L856.0 989.4 L856.5 985.1 L857.0 995.3 L857.5 992.5 L858.0 980.4 L858.5 1001.3 L859.0 988.2 L859.5 972.3 L860.0 980.2 L860.5 973.3 L861.0 967.4 L861.5 987.2 L862.0 980.2 L862.5 995.0 L863.0 994.9 L863.5 1005.6 L864.0 981.8 L864.5 979.6 L865.0 988.6 L865.5 1009.3 L866.0 987.0 L866.5 993.8 L867.0 1009.4 L867.5 1003.1 L868.0 1003.2 L868.5 989.4 L869.0 993.1 L869.5 997.3 L870.0 985.2 L870.5 998.1 L871.0 1012.5 L871.5 986.9 L872.0 1020.0 L872.5 1005.0 L873.0 1008.6 L873.5 1011.2 L874.0 994.1 L874.5 995.4 L875.0 1007.4 L875.5 1010.3 L876.0 998.5 L876.5 1009.3 L877.0 1021.4 L877.5 992.7 L878.0 1022.3 L878.5 1032.3 L879.0 1017.6 L879.5 1009.2 L880.0 1031.6 L880.5 1024.7 L881.0 1019.5 L881.5 1033.1 L882.0 1033.7 L882.5 1004.4 L883.0 1028.9 L883.5 1009.7 L884.0 1024.0 L884.5 1011.9 L885.0 1013.2 L885.5 1016.4 L886.0 1026.2 L886.5 1032.0 L887.0 1028.9 L887.5 1023.1 L888.0 1038.8 L888.5 1035.2 L889.0 1029.6 L889.5 1050.0 L890.0 1033.2 L890.5 1025.4 L891.0 1045.1 L891.5 1030.7 L892.0 1017.0 L892.5 1027.5 L893.0 1041.3 L893.5 1039.0 L894.0 1054.9 L894.5 1022.9 L895.0 1048.5 L895.5 1017.9 L896.0 1027.7 L896.5 1056.5 L897.0 1048.6 L897.5 1032.8 L898.0 1032.2 L898.5 1037.1 L899.0 1032.0 L899.5 1043.5 L900.0 1039.3 L900.5 1025.2 L901.0 1036.1 L901.5 1029.2 L902.0 1046.4 L902.5 1039.5 L903.0 1033.2 L903.5 1035.5 L904.0 1023.7 L904.5 1049.0 L905.0 1048.9 L905.5 1037.8 L906.0 1043.3 L906.5 1033.1 L907.0 1038.3 L907.5 1041.1 L908.0 1040.9 L908.5 1053.6 L909.0 1051.9 L909.5 1036.3 L910.0 1026.5 L910.5 1050.1 L911.0 1064.0 L911.5 1042.5 L912.0 1045.6 L912.5 1039.2 L913.0 1060.8 L913.5 1041.7 L914.0 1044.5 L914.5 1043.1 L915.0 1049.1 L915.5 1032.3 L916.0 1054.7 L916.5 1062.7 L917.0 1048.5 L917.5 1051.1 L918.0 1048.8 L918.5 1052.1 L919.0 1048.9 L919.5 1054.6 L920.0 1074.5 L920.5 1056.6 L921.0 1069.0 L921.5 1076.1 L922.0 1068.0 L922.5 1064.0 L923.0 1060.4 L923.5 1058.3 L924.0 1058.1 L924.5 1058.0 L925.0 1057.3 L925.5 1065.4 L926.0 1060.4 L926.5 1052.0 L927.0 1051.8 L927.5 1061.6 L928.0 1058.5 L928.5 1071.1 L929.0 1062.0 L929.5 1066.3 L930.0 1053.0 L930.5 1062.7 L931.0 1063.2 L931.5 1058.7 L932.0 1061.4 L932.5 1052.5 L933.0 1062.1 L933.5 1051.9 L934.0 1053.7 L934.5 1070.8 L935.0 1080.1 L935.5 1063.6 L936.0 1059.2 L936.5 1067.4 L937.0 1068.1 L937.5 1078.1 L938.0 1054.5 L938.5 1066.1 L939.0 1074.4 L939.5 1057.3 L940.0 1071.3 L940.5 1078.4 L941.0 1077.5 L941.5 1077.0 L942.0 1070.1 L942.5 1065.2 L943.0 1065.9 L943.5 1067.5 L944.0 1077.2 L944.5 1061.1 L945.0 1074.3 L945.5 1076.6 L946.0 1065.1 L946.5 1066.3 L947.0 1081.8 L947.5 1069.2 L948.0 1065.4 L948.5 1072.1 L949.0 1074.5 L949.5 1072.2 L950.0 1061.0 L950.5 1073.5 L951.0 1073.9 L951.5 1067.7 L952.0 1066.8 L952.5 1062.8 L953.0 1070.4 L953.5 1079.4 L954.0 1079.7 L954.5 1079.2 L955.0 1079.2 L955.5 1080.7 L956.0 1077.5 L956.5 1068.9 L957.0 1078.7 L957.5 1069.0 L958.0 1071.4 L958.5 1082.9 L959.0 1064.7 L959.5 1090.1 L960.0 1079.9 L960.5 1071.0 L961.0 1078.2 L961.5 1076.3 L962.0 1083.0 L962.5 1091.2 L963.0 1084.4 L963.5 1081.0 L964.0 1082.6 L964.5 1091.5 L965.0 1081.3 L965.5 1084.8 L966.0 1091.7 L966.5 1078.6 L967.0 1087.7 L967.5 1093.3 L968.0 1096.2 L968.5 1084.4 L969.0 1080.7 L969.5 1085.2 L970.0 1083.4 L970.5 1093.7 L971.0 1086.4 L971.5 1084.9 L972.0 1090.5 L972.5 1086.5 L973.0 1087.1 L973.5 1089.1 L974.0 1089.0 L974.5 1087.2 L975.0 1088.0 L975.5 1085.9 L976.0 1076.2 L976.5 1089.4 L977.0 1075.9 L977.5 1097.8 L978.0 1077.6 L978.5 1089.8 L979.0 1085.8 L979.5 1087.5 L980.0 1087.9 L980.5 1088.2 L981.0 1087.1 L981.5 1090.7 L982.0 1086.3 L982.5 1092.2 L983.0 1083.8 L983.5 1090.7 L984.0 1085.6 L984.5 1091.2 L985.0 1087.6 L985.5 1086.1 L986.0 1089.0 L986.5 1092.1 L987.0 1085.3 L987.5 1100.7 L988.0 1094.9 L988.5 1076.0 L989.0 1077.8 L989.5 1089.1 L990.0 1085.8 L990.5 1079.8 L991.0 1075.2 L991.5 1093.2 L992.0 1090.1 L992.5 1081.9 L993.0 1078.3 L993.5 1089.2 L994.0 1090.3 L994.5 1094.4 L995.0 1079.6 L995.5 1082.2 L996.0 1078.2 L996.5 1085.9 L997.0 1069.6 L997.5 1083.0 L998.0 1092.7 L998.5 1080.2 L999.0 1077.2 L999.5 1077.8 L1000.0 1071.9 L1000.5 1072.0 L1001.0 1079.0 L1001.5 1083.0 L1002.0 1075.2 L1002.5 1075.7 L1003.0 1081.1 L1003.5 1075.7 L1004.0 1068.3 L1004.5 1084.1 L1005.0 1085.2 L1005.5 1081.7 L1006.0 1083.8 L1006.5 1094.5 L1007.0 1097.2 L1007.5 1101.1 L1008.0 1081.9 L1008.5 1094.9 L1009.0 1110.4 L1009.5 1103.3 L1010.0 1089.8 L1010.5 1095.3 L1011.0 1110.3 L1011.5 1112.5 L1012.0 1103.3 L1012.5 1106.4 L1013.0 1094.2 L1013.5 1127.2 L1014.0 1110.9 L1014.5 1117.3 L1015.0 1115.9 L1015.5 1103.6 L1016.0 1131.9 L1016.5 1118.3 L1017.0 1123.7 L1017.5 1124.8 L1018.0 1125.9 L1018.5 1122.3 L1019.0 1122.0 L1019.5 1116.3 L1020.0 1127.1 L1020.5 1114.0 L1021.0 1124.0 L1021.5 1108.9 L1022.0 1116.5 L1022.5 1125.5 L1023.0 1123.3 L1023.5 1104.4 L1024.0 1114.4 L1024.5 1127.5 L1025.0 1122.3 L1025.5 1133.2 L1026.0 1125.6 L1026.5 1124.5 L1027.0 1117.1 L1027.5 1118.5 L1028.0 1126.0 L1028.5 1116.6 L1029.0 1123.1 L1029.5 1148.1 L1030.0 1117.0 L1030.5 1131.5 L1031.0 1122.2 L1031.5 1139.8 L1032.0 1121.8 L1032.5 1121.3 L1033.0 1127.4 L1033.5 1127.3 L1034.0 1141.0 L1034.5 1134.0 L1035.0 1132.3 L1035.5 1129.4 L1036.0 1121.5 L1036.5 1145.0 L1037.0 1137.6 L1037.5 1138.0 L1038.0 1147.9 L1038.5 1147.9 L1039.0 1150.6 L1039.5 1140.7 L1040.0 1136.6 L1040.5 1128.6 L1041.0 1142.8 L1041.5 1141.1 L1042.0 1143.1 L1042.5 1138.1 L1043.0 1132.3 L1043.5 1131.7 L1044.0 1130.8 L1044.5 1142.9 L1045.0 1140.3 L1045.5 1138.1 L1046.0 1131.8 L1046.5 1133.1 L1047.0 1141.9 L1047.5 1132.5 L1048.0 1147.1 L1048.5 1141.8 L1049.0 1145.9 L1049.5 1141.2 L1050.0 1141.4 L1050.5 1145.0 L1051.0 1141.4 L1051.5 1144.2 L1052.0 1143.8 L1052.5 1148.6 L1053.0 1141.8 L1053.5 1154.7 L1054.0 1142.8 L1054.5 1132.9 L1055.0 1143.7 L1055.5 1140.6 L1056.0 1148.4 L1056.5 1154.0 L1057.0 1155.0 L1057.5 1149.9 L1058.0 1156.3 L1058.5 1142.4 L1059.0 1146.1 L1059.5 1147.5 L1060.0 1148.7 L1060.5 1139.9 L1061.0 1140.1 L1061.5 1150.6 L1062.0 1148.0 L1062.5 1153.8 L1063.0 1140.3 L1063.5 1149.3 L1064.0 1141.9 L1064.5 1148.7 L1065.0 1149.3 L1065.5 1140.8 L1066.0 1153.0 L1066.5 1149.6 L1067.0 1150.0 L1067.5 1150.5 L1068.0 1147.0 L1068.5 1155.1 L1069.0 1142.5 L1069.5 1151.8 L1070.0 1142.4 L1070.5 1147.4 L1071.0 1143.2 L1071.5 1153.7 L1072.0 1136.5 L1072.5 1137.1 L1073.0 1142.0 L1073.5 1145.6 L1074.0 1153.1 L1074.5 1153.4 L1075.0 1148.7 L1075.5 1150.7 L1076.0 1150.8 L1076.5 1143.6 L1077.0 1149.0 L1077.5 1139.0 L1078.0 1134.9 L1078.5 1134.6 L1079.0 1141.8 L1079.5 1135.9 L1080.0 1136.4 L1080.5 1142.8 L1081.0 1136.0 L1081.5 1145.4 L1082.0 1155.0 L1082.5 1141.5 L1083.0 1147.0 L1083.5 1138.0 L1084.0 1153.8 L1084.5 1138.2 L1085.0 1137.5 L1085.5 1141.2 L1086.0 1141.1 L1086.5 1151.5 L1087.0 1134.3 L1087.5 1153.8 L1088.0 1149.6 L1088.5 1155.5 L1089.0 1148.0 L1089.5 1148.9 L1090.0 1155.9 L1090.5 1152.5 L1091.0 1157.8 L1091.5 1150.3 L1092.0 1157.8 L1092.5 1155.4 L1093.0 1153.7 L1093.5 1154.9 L1094.0 1154.6 L1094.5 1158.0 L1095.0 1155.0 L1095.5 1153.5 L1096.0 1148.1 L1096.5 1153.5 L1097.0 1149.2 L1097.5 1148.9 L1098.0 1157.8 L1098.5 1150.2 L1099.0 1151.4 L1099.5 1159.4 L1100.0 1158.5 L1100.5 1147.6 L1101.0 1155.3 L1101.5 1151.6 L1102.0 1158.5 L1102.5 1150.8 L1103.0 1157.4 L1103.5 1162.3 L1104.0 1167.2 L1104.5 1156.1 L1105.0 1151.4 L1105.5 1162.7 L1106.0 1166.0 L1106.5 1155.2 L1107.0 1164.1 L1107.5 1172.4 L1108.0 1168.6 L1108.5 1169.2 L1109.0 1170.1 L1109.5 1158.2 L1110.0 1157.3 L1110.5 1154.7 L1111.0 1175.1 L1111.5 1152.6 L1112.0 1171.5 L1112.5 1160.3 L1113.0 1157.4 L1113.5 1159.8 L1114.0 1161.0 L1114.5 1172.6 L1115.0 1169.0 L1115.5 1169.1 L1116.0 1159.7 L1116.5 1162.4 L1117.0 1173.0 L1117.5 1170.3 L1118.0 1174.6 L1118.5 1163.8 L1119.0 1166.3 L1119.5 1176.2 L1120.0 1171.1 L1120.5 1172.8 L1121.0 1172.1 L1121.5 1175.5 L1122.0 1172.5 L1122.5 1174.8 L1123.0 1178.1 L1123.5 1182.0 L1124.0 1163.2 L1124.5 1182.6 L1125.0 1162.8 L1125.5 1182.1 L1126.0 1172.4 L1126.5 1167.1 L1127.0 1173.8 L1127.5 1159.2 L1128.0 1172.7 L1128.5 1169.6 L1129.0 1175.7 L1129.5 1171.5 L1130.0 1171.8 L1130.5 1168.9 L1131.0 1179.8 L1131.5 1178.2 L1132.0 1169.0 L1132.5 1176.5 L1133.0 1172.7 L1133.5 1178.3 L1134.0 1181.7 L1134.5 1174.4 L1135.0 1168.6 L1135.5 1170.5 L1136.0 1171.3 L1136.5 1176.1 L1137.0 1162.1 L1137.5 1177.8 L1138.0 1159.1 L1138.5 1165.7 L1139.0 1176.4 L1139.5 1180.2 L1140.0 1164.4 L1140.5 1177.9 L1141.0 1169.3 L1141.5 1162.5 L1142.0 1168.5 L1142.5 1166.2 L1143.0 1162.2 L1143.5 1172.1 L1144.0 1160.0 L1144.5 1171.6 L1145.0 1161.0 L1145.5 1160.6 L1146.0 1167.4 L1146.5 1159.1 L1147.0 1164.1 L1147.5 1156.8 L1148.0 1168.1 L1148.5 1166.9 L1149.0 1162.2 L1149.5 1163.2 L1150.0 1172.0 L1150.5 1157.6 L1151.0 1171.3 L1151.5 1168.6 L1152.0 1174.6 L1152.5 1169.9 L1153.0 1156.0 L1153.5 1170.9 L1154.0 1163.0 L1154.5 1166.4 L1155.0 1163.6 L1155.5 1151.8 L1156.0 1155.8 L1156.5 1170.4 L1157.0 1169.0 L1157.5 1177.9 L1158.0 1162.0 L1158.5 1161.2 L1159.0 1153.8 L1159.5 1178.4 L1160.0 1163.3 L1160.5 1174.4 L1161.0 1154.3 L1161.5 1179.2 L1162.0 1168.7 L1162.5 1166.9 L1163.0 1166.7 L1163.5 1161.5 L1164.0 1159.1 L1164.5 1155.7 L1165.0 1175.8 L1165.5 1168.8 L1166.0 1168.9 L1166.5 1171.2 L1167.0 1171.7 L1167.5 1169.5 L1168.0 1160.4 L1168.5 1178.0 L1169.0 1175.4 L1169.5 1168.2 L1170.0 1152.4 L1170.5 1167.5 L1171.0 1169.6 L1171.5 1155.4 L1172.0 1163.4 L1172.5 1169.5 L1173.0 1155.2 L1173.5 1168.0 L1174.0 1172.4 L1174.5 1168.8 L1175.0 1151.5 L1175.5 1173.2 L1176.0 1155.1 L1176.5 1158.5 L1177.0 1171.5 L1177.5 1166.5 L1178.0 1163.3 L1178.5 1158.5 L1179.0 1162.7 L1179.5 1156.3 L1180.0 1164.3 L1180.5 1166.4 L1181.0 1161.8 L1181.5 1165.5 L1182.0 1161.5 L1182.5 1162.4 L1183.0 1167.7 L1183.5 1158.4 L1184.0 1167.5 L1184.5 1165.9 L1185.0 1181.2 L1185.5 1164.5 L1186.0 1167.2 L1186.5 1157.9 L1187.0 1181.2 L1187.5 1165.8 L1188.0 1158.5 L1188.5 1166.9 L1189.0 1166.8 L1189.5 1165.0 L1190.0 1159.5 L1190.5 1164.5 L1191.0 1175.9 L1191.5 1158.7 L1192.0 1175.6 L1192.5 1165.5 L1193.0 1157.8 L1193.5 1169.4 L1194.0 1176.2 L1194.5 1163.6 L1195.0 1162.7 L1195.5 1175.1 L1196.0 1176.4 L1196.5 1164.4 L1197.0 1164.7 L1197.5 1149.0 L1198.0 1166.4 L1198.5 1149.8 L1199.0 1152.9 L1199.5 1160.2 L1200.0 1161.1 L1200.5 1161.9 L1201.0 1157.8 L1201.5 1167.6 L1202.0 1165.3 L1202.5 1161.7 L1203.0 1159.5 L1203.5 1163.1 L1204.0 1167.0 L1204.5 1162.7 L1205.0 1166.7 L1205.5 1168.5 L1206.0 1177.1 L1206.5 1166.4 L1207.0 1154.5 L1207.5 1160.2 L1208.0 1173.0 L1208.5 1149.1 L1209.0 1149.1 L1209.5 1161.3 L1210.0 1172.6 L1210.5 1172.1 L1211.0 1176.2 L1211.5 1158.8 L1212.0 1170.4 L1212.5 1168.5 L1213.0 1174.4 L1213.5 1168.9 L1214.0 1173.0 L1214.5 1175.8 L1215.0 1173.6 L1215.5 1157.1 L1216.0 1163.9 L1216.5 1161.2 L1217.0 1164.8 L1217.5 1165.0 L1218.0 1176.1 L1218.5 1169.9 L1219.0 1157.9 L1219.5 1172.5 L1220.0 1173.2 L1220.5 1152.2 L1221.0 1177.2 L1221.5 1173.4 L1222.0 1163.9 L1222.5 1166.8 L1223.0 1158.6 L1223.5 1170.8 L1224.0 1170.2 L1224.5 1171.4 L1225.0 1163.9 L1225.5 1161.6 L1226.0 1179.6 L1226.5 1180.5 L1227.0 1155.3 L1227.5 1157.8 L1228.0 1172.2 L1228.5 1170.4 L1229.0 1177.9 L1229.5 1165.6 L1230.0 1163.5 L1230.5 1160.3 L1231.0 1173.9 L1231.5 1171.4 L1232.0 1162.9 L1232.5 1171.0 L1233.0 1157.8 L1233.5 1155.5 L1234.0 1171.0 L1234.5 1174.8 L1235.0 1169.7 L1235.5 1165.5 L1236.0 1171.6 L1236.5 1151.8 L1237.0 1168.6 L1237.5 1154.7 L1238.0 1168.7 L1238.5 1172.5 L1239.0 1175.0 L1239.5 1174.1 L1240.0 1176.5 L1240.5 1172.0 L1241.0 1172.6 L1241.5 1164.3 L1242.0 1174.7 L1242.5 1171.5 L1243.0 1168.5 L1243.5 1164.1 L1244.0 1162.9 L1244.5 1161.2 L1245.0 1168.3 L1245.5 1173.6 L1246.0 1167.4 L1246.5 1175.9 L1247.0 1162.7 L1247.5 1181.2 L1248.0 1169.2 L1248.5 1167.6 L1249.0 1166.5 L1249.5 1163.7 L1250.0 1166.0 L1250.5 1164.8 L1251.0 1170.8 L1251.5 1173.3 L1252.0 1167.4 L1252.5 1161.5 L1253.0 1180.6 L1253.5 1173.4 L1254.0 1174.8 L1254.5 1172.7 L1255.0 1176.6 L1255.5 1173.3 L1256.0 1167.0 L1256.5 1173.7 L1257.0 1157.5 L1257.5 1177.2 L1258.0 1162.7 L1258.5 1167.8 L1259.0 1163.8 L1259.5 1166.0 L1260.0 1161.2 L1260.5 1166.7 L1261.0 1174.7 L1261.5 1166.8 L1262.0 1160.0 L1262.5 1175.7 L1263.0 1166.4 L1263.5 1174.3 L1264.0 1167.4 L1264.5 1171.5 L1265.0 1168.7 L1265.5 1172.4 L1266.0 1166.2 L1266.5 1174.9 L1267.0 1173.2 L1267.5 1162.0 L1268.0 1162.0 L1268.5 1163.1 L1269.0 1171.9 L1269.5 1167.7 L1270.0 1170.5 L1270.5 1159.7 L1271.0 1170.3 L1271.5 1158.5 L1272.0 1167.8 L1272.5 1160.4 L1273.0 1159.3 L1273.5 1164.6 L1274.0 1172.4 L1274.5 1160.1 L1275.0 1162.0 L1275.5 1172.7 L1276.0 1164.4 L1276.5 1167.9 L1277.0 1166.3 L1277.5 1173.9 L1278.0 1170.2 L1278.5 1170.1 L1279.0 1170.4 L1279.5 1166.5 L1280.0 1160.3 L1280.5 1163.2 L1281.0 1166.4 L1281.5 1160.7 L1282.0 1163.8 L1282.5 1165.6 L1283.0 1156.4 L1283.5 1166.2 L1284.0 1165.7 L1284.5 1158.9 L1285.0 1160.5 L1285.5 1165.5 L1286.0 1150.9 L1286.5 1155.7 L1287.0 1169.8 L1287.5 1156.4 L1288.0 1167.9 L1288.5 1160.7 L1289.0 1160.7 L1289.5 1160.8 L1290.0 1153.3 L1290.5 1146.5 L1291.0 1155.0 L1291.5 1165.0 L1292.0 1153.7 L1292.5 1160.3 L1293.0 1143.7 L1293.5 1158.3 L1294.0 1156.6 L1294.5 1166.4 L1295.0 1153.2 L1295.5 1151.6 L1296.0 1146.0 L1296.5 1160.8 L1297.0 1160.5 L1297.5 1171.3 L1298.0 1157.4 L1298.5 1161.9 L1299.0 1163.0 L1299.5 1167.9 L1300.0 1155.6 L1300.5 1158.1 L1301.0 1166.8 L1301.5 1156.7 L1302.0 1163.5 L1302.5 1162.9 L1303.0 1164.8 L1303.5 1156.5 L1304.0 1143.1 L1304.5 1163.0 L1305.0 1154.0 L1305.5 1166.6 L1306.0 1165.6 L1306.5 1149.9 L1307.0 1155.4 L1307.5 1157.2 L1308.0 1166.3 L1308.5 1163.3 L1309.0 1160.6 L1309.5 1149.8 L1310.0 1167.8 L1310.5 1169.1 L1311.0 1159.8 L1311.5 1175.6 L1312.0 1177.2 L1312.5 1151.8 L1313.0 1172.0 L1313.5 1165.8 L1314.0 1166.7 L1314.5 1145.9 L1315.0 1163.9 L1315.5 1164.0 L1316.0 1148.2 L1316.5 1160.2 L1317.0 1158.7 L1317.5 1158.8 L1318.0 1153.4 L1318.5 1169.1 L1319.0 1162.0 L1319.5 1160.9 L1320.0 1169.4 L1320.5 1157.4 L1321.0 1166.5 L1321.5 1182.5 L1322.0 1158.1 L1322.5 1164.2 L1323.0 1169.0 L1323.5 1167.0 L1324.0 1152.8 L1324.5 1164.9 L1325.0 1157.0 L1325.5 1168.9 L1326.0 1168.3 L1326.5 1164.3 L1327.0 1173.3 L1327.5 1173.9 L1328.0 1160.1 L1328.5 1160.9 L1329.0 1165.6 L1329.5 1173.5 L1330.0 1175.2 L1330.5 1175.9 L1331.0 1169.5 L1331.5 1158.7 L1332.0 1169.9 L1332.5 1169.3 L1333.0 1152.3 L1333.5 1154.7 L1334.0 1163.2 L1334.5 1178.1 L1335.0 1166.4 L1335.5 1169.6 L1336.0 1158.9 L1336.5 1149.1 L1337.0 1172.8 L1337.5 1157.1 L1338.0 1168.8 L1338.5 1156.3 L1339.0 1173.3 L1339.5 1159.5 L1340.0 1156.3 L1340.5 1152.6 L1341.0 1168.0 L1341.5 1159.4 L1342.0 1162.3 L1342.5 1160.7 L1343.0 1156.9 L1343.5 1162.2 L1344.0 1151.9 L1344.5 1164.8 L1345.0 1148.0 L1345.5 1162.6 L1346.0 1174.7 L1346.5 1155.0 L1347.0 1164.2 L1347.5 1167.6 L1348.0 1145.4 L1348.5 1159.8 L1349.0 1163.4 L1349.5 1158.4 L1350.0 1162.5 L1350.5 1156.5 L1351.0 1165.1 L1351.5 1156.8 L1352.0 1168.9 L1352.5 1152.7 L1353.0 1164.7 L1353.5 1168.2 L1354.0 1155.7 L1354.5 1160.6 L1355.0 1158.7 L1355.5 1176.2 L1356.0 1153.5 L1356.5 1176.3 L1357.0 1157.7 L1357.5 1150.4 L1358.0 1152.0 L1358.5 1156.9 L1359.0 1172.8 L1359.5 1151.8 L1360.0 1162.6 L1360.5 1158.1 L1361.0 1157.1 L1361.5 1156.9 L1362.0 1165.9 L1362.5 1153.9 L1363.0 1150.7 L1363.5 1169.9 L1364.0 1155.1 L1364.5 1166.8 L1365.0 1176.5 L1365.5 1165.0 L1366.0 1169.5 L1366.5 1163.6 L1367.0 1156.6 L1367.5 1154.2 L1368.0 1147.0 L1368.5 1171.8 L1369.0 1158.1 L1369.5 1164.1 L1370.0 1158.3 L1370.5 1157.3 L1371.0 1162.3 L1371.5 1158.7 L1372.0 1158.3 L1372.5 1167.1 L1373.0 1142.4 L1373.5 1173.0 L1374.0 1159.2 L1374.5 1159.1 L1375.0 1149.6 L1375.5 1149.2 L1376.0 1168.1 L1376.5 1161.0 L1377.0 1157.0 L1377.5 1154.7 L1378.0 1159.8 L1378.5 1164.5 L1379.0 1163.3 L1379.5 1151.3 L1380.0 1163.5 L1380.5 1154.7 L1381.0 1157.2 L1381.5 1157.2 L1382.0 1146.4 L1382.5 1158.7 L1383.0 1159.2 L1383.5 1165.4 L1384.0 1162.9 L1384.5 1161.8 L1385.0 1157.8 L1385.5 1161.1 L1386.0 1161.1 L1386.5 1150.3 L1387.0 1147.3 L1387.5 1162.5 L1388.0 1169.6 L1388.5 1159.8 L1389.0 1159.1 L1389.5 1169.3 L1390.0 1158.0 L1390.5 1163.7 L1391.0 1149.0 L1391.5 1158.0 L1392.0 1166.7 L1392.5 1152.8 L1393.0 1155.4 L1393.5 1148.9 L1394.0 1166.5 L1394.5 1164.6 L1395.0 1155.6 L1395.5 1163.4 L1396.0 1155.2 L1396.5 1156.2 L1397.0 1162.8 L1397.5 1164.5 L1398.0 1160.1 L1398.5 1154.4 L1399.0 1152.9 L1399.5 1149.8 L1400.0 1162.7 L1400.5 1166.3 L1401.0 1147.5 L1401.5 1168.9 L1402.0 1164.1 L1402.5 1155.0 L1403.0 1164.1 L1403.5 1167.4 L1404.0 1165.1 L1404.5 1156.3 L1405.0 1156.9 L1405.5 1161.0 L1406.0 1159.6 L1406.5 1162.4 L1407.0 1156.9 L1407.5 1173.0 L1408.0 1154.3 L1408.5 1162.5 L1409.0 1148.3 L1409.5 1163.5 L1410.0 1167.0 L1410.5 1159.3 L1411.0 1165.7 L1411.5 1159.4 L1412.0 1165.7 L1412.5 1156.9 L1413.0 1154.1 L1413.5 1180.0 L1414.0 1172.7 L1414.5 1170.4 L1415.0 1158.7 L1415.5 1163.8 L1416.0 1156.1 L1416.5 1157.4 L1417.0 1162.3 L1417.5 1162.5 L1418.0 1151.2 L1418.5 1159.0 L1419.0 1151.4 L1419.5 1177.6 L1420.0 1182.4 L1420.5 1155.4 L1421.0 1159.7 L1421.5 1154.4 L1422.0 1148.9 L1422.5 1166.5 L1423.0 1173.6 L1423.5 1162.9 L1424.0 1163.1 L1424.5 1166.6 L1425.0 1165.5 L1425.5 1161.5 L1426.0 1159.5 L1426.5 1163.5 L1427.0 1166.8 L1427.5 1153.9 L1428.0 1158.2 L1428.5 1163.0 L1429.0 1162.3 L1429.5 1178.2 L1430.0 1167.0 L1430.5 1164.3 L1431.0 1180.2 L1431.5 1167.1 L1432.0 1173.8 L1432.5 1163.3 L1433.0 1157.9 L1433.5 1162.3 L1434.0 1170.1 L1434.5 1168.3 L1435.0 1170.6 L1435.5 1159.8 L1436.0 1160.8 L1436.5 1156.7 L1437.0 1156.7 L1437.5 1156.9 L1438.0 1164.8 L1438.5 1161.1 L1439.0 1151.3 L1439.5 1167.9 L1440.0 1163.2 L1440.5 1160.8 L1441.0 1161.7 L1441.5 1152.6 L1442.0 1153.9 L1442.5 1170.6 L1443.0 1168.0 L1443.5 1171.0 L1444.0 1155.0 L1444.5 1156.5 L1445.0 1168.0 L1445.5 1156.5 L1446.0 1161.5 L1446.5 1163.7 L1447.0 1161.2 L1447.5 1169.1 L1448.0 1173.9 L1448.5 1158.2 L1449.0 1162.5 L1449.5 1171.0 L1450.0 1159.3 L1450.5 1158.3 L1451.0 1171.4 L1451.5 1164.7 L1452.0 1166.7 L1452.5 1164.7 L1453.0 1158.7 L1453.5 1155.3 L1454.0 1171.5 L1454.5 1155.5 L1455.0 1156.8 L1455.5 1155.9 L1456.0 1149.2 L1456.5 1160.6 L1457.0 1163.5 L1457.5 1158.1 L1458.0 1160.6 L1458.5 1176.2 L1459.0 1160.6 L1459.5 1165.1 L1460.0 1148.4 L1460.5 1170.9 L1461.0 1165.1 L1461.5 1153.6 L1462.0 1158.3 L1462.5 1154.6 L1463.0 1161.4 L1463.5 1163.1 L1464.0 1158.6 L1464.5 1158.9 L1465.0 1154.1 L1465.5 1166.4 L1466.0 1149.7 L1466.5 1166.0 L1467.0 1156.7 L1467.5 1156.2 L1468.0 1156.8 L1468.5 1175.6 L1469.0 1171.4 L1469.5 1155.7 L1470.0 1151.7 L1470.5 1164.6 L1471.0 1163.0 L1471.5 1163.1 L1472.0 1159.5 L1472.5 1168.1 L1473.0 1166.0 L1473.5 1151.6 L1474.0 1149.6 L1474.5 1154.8 L1475.0 1160.6 L1475.5 1159.3 L1476.0 1153.5 L1476.5 1157.5 L1477.0 1149.1 L1477.5 1162.1 L1478.0 1162.3 L1478.5 1146.3 L1479.0 1152.8 L1479.5 1147.9 L1480.0 1151.5 L1480.5 1154.8 L1481.0 1158.6 L1481.5 1155.4 L1482.0 1151.2 L1482.5 1167.2 L1483.0 1155.8 L1483.5 1156.6 L1484.0 1159.9 L1484.5 1159.9 L1485.0 1152.4 L1485.5 1143.2 L1486.0 1148.7 L1486.5 1147.1 L1487.0 1154.9 L1487.5 1147.9 L1488.0 1147.7 L1488.5 1155.2 L1489.0 1142.6 L1489.5 1147.2 L1490.0 1150.1 L1490.5 1158.9 L1491.0 1148.7 L1491.5 1155.5 L1492.0 1164.5 L1492.5 1150.5 L1493.0 1144.0 L1493.5 1150.8 L1494.0 1144.3 L1494.5 1147.7 L1495.0 1142.5 L1495.5 1146.7 L1496.0 1145.5 L1496.5 1155.9 L1497.0 1157.0 L1497.5 1159.6 L1498.0 1157.0 L1498.5 1150.7 L1499.0 1159.2 L1499.5 1155.3 L1500.0 1163.1 L1500.5 1165.1 L1501.0 1167.6 L1501.5 1162.0 L1502.0 1161.1 L1502.5 1159.0 L1503.0 1165.0 L1503.5 1152.2 L1504.0 1153.3 L1504.5 1152.7 L1505.0 1151.4 L1505.5 1168.8 L1506.0 1156.6 L1506.5 1158.4 L1507.0 1168.3 L1507.5 1154.4 L1508.0 1165.5 L1508.5 1162.1 L1509.0 1158.8 L1509.5 1169.1 L1510.0 1176.9 L1510.5 1164.5 L1511.0 1160.3 L1511.5 1161.3 L1512.0 1167.4 L1512.5 1164.6 L1513.0 1172.7 L1513.5 1164.4 L1514.0 1161.1 L1514.5 1166.5 L1515.0 1163.7 L1515.5 1172.0 L1516.0 1168.0 L1516.5 1168.3 L1517.0 1176.5 L1517.5 1159.7 L1518.0 1168.4 L1518.5 1168.7 L1519.0 1165.9 L1519.5 1173.6 L1520.0 1158.6 L1520.5 1164.4 L1521.0 1163.5 L1521.5 1168.5 L1522.0 1165.8 L1522.5 1164.2 L1523.0 1168.0 L1523.5 1166.3 L1524.0 1167.8 L1524.5 1163.8 L1525.0 1165.8 L1525.5 1161.3 L1526.0 1164.6 L1526.5 1171.3 L1527.0 1177.4 L1527.5 1165.7 L1528.0 1160.9 L1528.5 1180.0 L1529.0 1166.7 L1529.5 1171.3 L1530.0 1170.1 L1530.5 1173.0 L1531.0 1170.0 L1531.5 1169.5 L1532.0 1181.8 L1532.5 1160.2 L1533.0 1168.0 L1533.5 1176.1 L1534.0 1165.6 L1534.5 1181.9 L1535.0 1182.0 L1535.5 1169.1 L1536.0 1176.1 L1536.5 1168.1 L1537.0 1174.4 L1537.5 1173.1 L1538.0 1167.6 L1538.5 1172.4 L1539.0 1163.6 L1539.5 1166.9 L1540.0 1172.9 L1540.5 1177.9 L1541.0 1166.3 L1541.5 1164.7 L1542.0 1168.3 L1542.5 1169.4 L1543.0 1168.2 L1543.5 1171.9 L1544.0 1169.8 L1544.5 1168.1 L1545.0 1162.6 L1545.5 1164.2 L1546.0 1171.6 L1546.5 1166.7 L1547.0 1172.8 L1547.5 1170.8 L1548.0 1172.4 L1548.5 1165.7 L1549.0 1182.6 L1549.5 1183.0 L1550.0 1162.4 L1550.5 1155.0 L1551.0 1171.4 L1551.5 1174.6 L1552.0 1176.9 L1552.5 1175.0 L1553.0 1167.1 L1553.5 1174.0 L1554.0 1176.9 L1554.5 1170.4 L1555.0 1161.1 L1555.5 1179.7 L1556.0 1166.0 L1556.5 1165.2 L1557.0 1156.8 L1557.5 1162.2 L1558.0 1174.8 L1558.5 1165.4 L1559.0 1172.9 L1559.5 1163.5 L1560.0 1169.4 L1560.5 1171.5 L1561.0 1172.4 L1561.5 1164.3 L1562.0 1181.9 L1562.5 1165.4 L1563.0 1159.2 L1563.5 1172.2 L1564.0 1176.7 L1564.5 1170.1 L1565.0 1157.5 L1565.5 1162.3 L1566.0 1167.2 L1566.5 1171.7 L1567.0 1165.2 L1567.5 1173.8 L1568.0 1162.1 L1568.5 1180.3 L1569.0 1160.8 L1569.5 1166.0 L1570.0 1165.3 L1570.5 1166.1 L1571.0 1177.6 L1571.5 1163.8 L1572.0 1161.1 L1572.5 1157.5 L1573.0 1179.2 L1573.5 1170.6 L1574.0 1171.1 L1574.5 1181.3 L1575.0 1170.2 L1575.5 1163.4 L1576.0 1164.1 L1576.5 1168.0 L1577.0 1180.3 L1577.5 1172.4 L1578.0 1166.0 L1578.5 1172.6 L1579.0 1166.8 L1579.5 1171.3 L1580.0 1166.1 L1580.5 1169.5 L1581.0 1186.2 L1581.5 1170.8 L1582.0 1177.2 L1582.5 1180.0 L1583.0 1172.5 L1583.5 1188.1 L1584.0 1186.3 L1584.5 1164.1 L1585.0 1182.0 L1585.5 1163.4 L1586.0 1170.6 L1586.5 1176.9 L1587.0 1167.0 L1587.5 1169.4 L1588.0 1173.2 L1588.5 1177.4 L1589.0 1177.6 L1589.5 1170.5 L1590.0 1175.0 L1590.5 1171.3 L1591.0 1179.2 L1591.5 1167.3 L1592.0 1171.5 L1592.5 1171.5 L1593.0 1174.9 L1593.5 1179.5 L1594.0 1176.7 L1594.5 1176.7 L1595.0 1173.2 L1595.5 1176.9 L1596.0 1165.4 L1596.5 1173.7 L1597.0 1182.9 L1597.5 1170.6 L1598.0 1167.9 L1598.5 1169.6 L1599.0 1173.4 L1599.5 1177.3 L1600.0 1180.9 L1600.5 1177.3 L1601.0 1181.7 L1601.5 1183.1 L1602.0 1178.7 L1602.5 1169.5 L1603.0 1180.5 L1603.5 1181.1 L1604.0 1176.8 L1604.5 1186.2 L1605.0 1175.6 L1605.5 1179.3 L1606.0 1170.2 L1606.5 1174.8 L1607.0 1175.8 L1607.5 1172.5 L1608.0 1181.1 L1608.5 1172.9 L1609.0 1178.0 L1609.5 1178.6 L1610.0 1175.5 L1610.5 1170.5 L1611.0 1174.7 L1611.5 1179.6 L1612.0 1165.3 L1612.5 1164.0 L1613.0 1170.8 L1613.5 1175.6 L1614.0 1176.8 L1614.5 1179.8 L1615.0 1168.9 L1615.5 1179.9 L1616.0 1179.0 L1616.5 1159.3 L1617.0 1167.9 L1617.5 1175.7 L1618.0 1170.9 L1618.5 1185.5 L1619.0 1159.3 L1619.5 1171.0 L1620.0 1176.7 L1620.5 1176.1 L1621.0 1167.1 L1621.5 1180.7 L1622.0 1169.3 L1622.5 1177.5 L1623.0 1175.3 L1623.5 1174.5 L1624.0 1168.0 L1624.5 1177.1 L1625.0 1165.3 L1625.5 1174.0 L1626.0 1173.2 L1626.5 1173.5 L1627.0 1172.9 L1627.5 1181.2 L1628.0 1169.7 L1628.5 1182.1 L1629.0 1168.1 L1629.5 1164.8 L1630.0 1175.5 L1630.5 1172.5 L1631.0 1174.2 L1631.5 1178.0 L1632.0 1177.2 L1632.5 1168.7 L1633.0 1179.7 L1633.5 1185.4 L1634.0 1177.0 L1634.5 1160.4 L1635.0 1173.1 L1635.5 1171.5 L1636.0 1176.6 L1636.5 1168.7 L1637.0 1172.8 L1637.5 1174.1 L1638.0 1170.0 L1638.5 1174.8 L1639.0 1171.0 L1639.5 1177.0 L1640.0 1177.1 L1640.5 1177.8 L1641.0 1166.6 L1641.5 1165.6 L1642.0 1159.5 L1642.5 1179.3 L1643.0 1176.0 L1643.5 1181.2 L1644.0 1178.8 L1644.5 1167.3 L1645.0 1167.3 L1645.5 1170.8 L1646.0 1162.3 L1646.5 1168.7 L1647.0 1160.4 L1647.5 1158.8 L1648.0 1163.7 L1648.5 1173.0 L1649.0 1179.5 L1649.5 1165.6 L1650.0 1158.9 L1650.5 1154.1 L1651.0 1166.7 L1651.5 1172.4 L1652.0 1152.7 L1652.5 1167.3 L1653.0 1170.8 L1653.5 1161.8 L1654.0 1162.5 L1654.5 1159.5 L1655.0 1156.5 L1655.5 1164.8 L1656.0 1163.4 L1656.5 1163.0 L1657.0 1157.6 L1657.5 1158.4 L1658.0 1148.4 L1658.5 1159.9 L1659.0 1161.5 L1659.5 1162.5 L1660.0 1153.6 L1660.5 1142.8 L1661.0 1149.7 L1661.5 1160.6 L1662.0 1157.9 L1662.5 1158.4 L1663.0 1162.0 L1663.5 1158.5 L1664.0 1163.7 L1664.5 1146.9 L1665.0 1149.9 L1665.5 1164.7 L1666.0 1166.8 L1666.5 1164.0 L1667.0 1163.6 L1667.5 1159.5 L1668.0 1156.6 L1668.5 1159.0 L1669.0 1167.4 L1669.5 1165.9 L1670.0 1152.6 L1670.5 1166.0 L1671.0 1150.5 L1671.5 1160.2 L1672.0 1175.5 L1672.5 1173.9 L1673.0 1164.9 L1673.5 1166.3 L1674.0 1168.9 L1674.5 1171.5 L1675.0 1162.9 L1675.5 1167.9 L1676.0 1165.1 L1676.5 1166.6 L1677.0 1155.5 L1677.5 1164.9 L1678.0 1163.2 L1678.5 1168.4 L1679.0 1168.3 L1679.5 1178.6 L1680.0 1168.7 L1680.5 1163.8 L1681.0 1163.0 L1681.5 1179.4 L1682.0 1182.2 L1682.5 1173.8 L1683.0 1172.2 L1683.5 1170.1 L1684.0 1180.2 L1684.5 1164.4 L1685.0 1175.3 L1685.5 1171.3 L1686.0 1174.4 L1686.5 1177.8 L1687.0 1175.9 L1687.5 1177.1 L1688.0 1168.2 L1688.5 1169.6 L1689.0 1175.6 L1689.5 1191.4 L1690.0 1167.4 L1690.5 1177.7 L1691.0 1174.3 L1691.5 1169.4 L1692.0 1161.5 L1692.5 1177.6 L1693.0 1187.7 L1693.5 1165.9 L1694.0 1166.9 L1694.5 1190.0 L1695.0 1177.9 L1695.5 1185.0 L1696.0 1186.9 L1696.5 1176.9 L1697.0 1179.1 L1697.5 1174.7 L1698.0 1167.0 L1698.5 1184.2 L1699.0 1177.8 L1699.5 1196.0 L1700.0 1170.5 L1700.5 1186.0 L1701.0 1180.5 L1701.5 1185.2 L1702.0 1174.1 L1702.5 1181.9 L1703.0 1191.7 L1703.5 1173.0 L1704.0 1195.4 L1704.5 1187.7 L1705.0 1176.2 L1705.5 1180.5 L1706.0 1171.3 L1706.5 1181.1 L1707.0 1171.7 L1707.5 1180.2 L1708.0 1184.9 L1708.5 1184.9 L1709.0 1178.7 L1709.5 1176.6 L1710.0 1176.6 L1710.5 1172.5 L1711.0 1180.5 L1711.5 1179.5 L1712.0 1189.6 L1712.5 1181.9 L1713.0 1174.8 L1713.5 1193.3 L1714.0 1188.4 L1714.5 1185.4 L1715.0 1161.2 L1715.5 1178.0 L1716.0 1179.6 L1716.5 1184.7 L1717.0 1176.7 L1717.5 1190.9 L1718.0 1173.5 L1718.5 1170.2 L1719.0 1171.9 L1719.5 1171.3 L1720.0 1175.7 L1720.5 1177.0 L1721.0 1178.4 L1721.5 1186.8 L1722.0 1182.8 L1722.5 1173.2 L1723.0 1169.5 L1723.5 1182.1 L1724.0 1175.1 L1724.5 1181.1 L1725.0 1182.4" stroke="#0000ff" stroke-width="6.0"/>
<path d="M221.5 706.0 L222.0 690.6 L222.5 722.1 L223.0 705.9 L223.5 702.8 L224.0 695.3 L224.5 726.2 L225.0 693.2 L225.5 724.1 L226.0 702.9 L226.5 715.7 L227.0 712.4 L227.5 729.7 L228.0 734.6 L228.5 701.3 L229.0 743.9 L229.5 739.7 L230.0 747.6 L230.5 758.3 L231.0 700.5 L231.5 767.8 L232.0 701.3 L232.5 721.2 L233.0 741.5 L233.5 756.2 L234.0 749.4 L234.5 745.6 L235.0 750.3 L235.5 721.2 L236.0 742.9 L236.5 784.6 L237.0 704.5 L237.5 743.4 L238.0 748.3 L238.5 738.8 L239.0 752.7 L239.5 758.4 L240.0 756.4 L240.5 759.8 L241.0 749.0 L241.5 770.1 L242.0 757.0 L242.5 753.1 L243.0 790.0 L243.5 761.9 L244.0 764.1 L244.5 750.5 L245.0 775.7 L245.5 762.4 L246.0 767.3 L246.5 782.4 L247.0 781.5 L247.5 770.5 L248.0 783.2 L248.5 782.9 L249.0 778.4 L249.5 771.8 L250.0 785.7 L250.5 768.0 L251.0 786.6 L251.5 783.8 L252.0 773.2 L252.5 775.6 L253.0 806.6 L253.5 768.2 L254.0 788.5 L254.5 785.6 L255.0 793.7 L255.5 793.2 L256.0 799.4 L256.5 798.5 L257.0 792.5 L257.5 780.8 L258.0 791.6 L258.5 799.6 L259.0 800.2 L259.5 806.5 L260.0 795.3 L260.5 786.9 L261.0 793.3 L261.5 801.3 L262.0 808.3 L262.5 809.2 L263.0 807.9 L263.5 790.5 L264.0 798.5 L264.5 807.9 L265.0 806.6 L265.5 812.0 L266.0 794.2 L266.5 811.3 L267.0 786.5 L267.5 802.8 L268.0 808.4 L268.5 805.4 L269.0 816.9 L269.5 808.0 L270.0 810.7 L270.5 817.3 L271.0 804.2 L271.5 825.8 L272.0 807.7 L272.5 819.3 L273.0 816.6 L273.5 811.7 L274.0 817.0 L274.5 819.5 L275.0 813.4 L275.5 837.4 L276.0 809.9 L276.5 819.5 L277.0 830.1 L277.5 825.2 L278.0 831.0 L278.5 808.4 L279.0 820.6 L279.5 823.7 L280.0 835.3 L280.5 817.2 L281.0 824.8 L281.5 843.0 L282.0 830.1 L282.5 831.2 L283.0 827.3 L283.5 839.5 L284.0 811.9 L284.5 822.3 L285.0 825.2 L285.5 832.3 L286.0 831.8 L286.5 812.4 L287.0 834.1 L287.5 825.7 L288.0 855.7 L288.5 832.5 L289.0 845.8 L289.5 831.0 L290.0 834.6 L290.5 829.4 L291.0 846.5 L291.5 851.8 L292.0 827.3 L292.5 845.3 L293.0 848.5 L293.5 855.2 L294.0 837.5 L294.5 858.5 L295.0 832.7 L295.5 847.7 L296.0 841.5 L296.5 844.1 L297.0 858.7 L297.5 853.8 L298.0 870.1 L298.5 848.9 L299.0 842.8 L299.5 863.1 L300.0 854.3 L300.5 847.5 L301.0 865.8 L301.5 867.6 L302.0 838.2 L302.5 849.7 L303.0 865.8 L303.5 846.5 L304.0 871.5 L304.5 853.6 L305.0 859.4 L305.5 857.3 L306.0 845.1 L306.5 854.7 L307.0 849.7 L307.5 852.8 L308.0 867.8 L308.5 864.1 L309.0 855.7 L309.5 861.0 L310.0 873.3 L310.5 858.7 L311.0 855.4 L311.5 866.7 L312.0 854.6 L312.5 848.6 L313.0 878.5 L313.5 850.4 L314.0 862.8 L314.5 865.8 L315.0 859.0 L315.5 880.0 L316.0 880.7 L316.5 867.0 L317.0 849.2 L317.5 867.3 L318.0 848.0 L318.5 869.6 L319.0 872.5 L319.5 868.0 L320.0 877.0 L320.5 867.5 L321.0 857.7 L321.5 862.3 L322.0 876.5 L322.5 847.0 L323.0 869.1 L323.5 855.5 L324.0 886.5 L324.5 853.8 L325.0 847.9 L325.5 876.5 L326.0 876.8 L326.5 862.9 L327.0 868.7 L327.5 858.5 L328.0 870.0 L328.5 880.4 L329.0 876.3 L329.5 873.9 L330.0 869.8 L330.5 887.2 L331.0 895.1 L331.5 892.9 L332.0 867.5 L332.5 883.2 L333.0 874.3 L333.5 880.1 L334.0 888.6 L334.5 906.6 L335.0 889.7 L335.5 887.7 L336.0 883.4 L336.5 895.5 L337.0 873.7 L337.5 898.7 L338.0 901.5 L338.5 883.5 L339.0 911.0 L339.5 916.9 L340.0 887.9 L340.5 904.7 L341.0 891.5 L341.5 889.4 L342.0 905.5 L342.5 900.6 L343.0 883.9 L343.5 881.8 L344.0 899.7 L344.5 883.2 L345.0 884.9 L345.5 895.4 L346.0 893.3 L346.5 902.2 L347.0 918.4 L347.5 886.3 L348.0 913.6 L348.5 885.7 L349.0 899.8 L349.5 909.8 L350.0 919.6 L350.5 883.8 L351.0 916.3 L351.5 899.4 L352.0 902.0 L352.5 905.9 L353.0 918.6 L353.5 920.2 L354.0 905.1 L354.5 896.0 L355.0 894.5 L355.5 881.7 L356.0 887.7 L356.5 911.6 L357.0 886.7 L357.5 891.1 L358.0 897.2 L358.5 896.2 L359.0 894.9 L359.5 893.9 L360.0 897.8 L360.5 915.7 L361.0 909.5 L361.5 904.8 L362.0 897.8 L362.5 905.1 L363.0 906.7 L363.5 897.3 L364.0 895.2 L364.5 907.2 L365.0 899.1 L365.5 899.0 L366.0 905.5 L366.5 905.4 L367.0 897.8 L367.5 920.3 L368.0 909.4 L368.5 905.6 L369.0 913.6 L369.5 919.6 L370.0 908.1 L370.5 889.3 L371.0 897.9 L371.5 908.1 L372.0 910.1 L372.5 921.5 L373.0 914.0 L373.5 907.5 L374.0 917.4 L374.5 905.0 L375.0 919.3 L375.5 897.4 L376.0 924.9 L376.5 910.2 L377.0 919.4 L377.5 910.1 L378.0 900.2 L378.5 910.8 L379.0 913.4 L379.5 915.4 L380.0 914.6 L380.5 917.5 L381.0 909.2 L381.5 899.4 L382.0 910.7 L382.5 902.7 L383.0 913.5 L383.5 912.9 L384.0 916.3 L384.5 911.3 L385.0 921.9 L385.5 921.9 L386.0 923.1 L386.5 920.7 L387.0 924.3 L387.5 926.3 L388.0 918.9 L388.5 898.5 L389.0 912.8 L389.5 933.1 L390.0 899.2 L390.5 920.0 L391.0 913.8 L391.5 932.8 L392.0 923.2 L392.5 917.3 L393.0 920.1 L393.5 904.9 L394.0 938.6 L394.5 927.2 L395.0 912.4 L395.5 915.6 L396.0 926.3 L396.5 915.0 L397.0 913.7 L397.5 929.6 L398.0 920.7 L398.5 925.9 L399.0 931.0 L399.5 914.9 L400.0 937.3 L400.5 931.7 L401.0 913.4 L401.5 911.1 L402.0 924.6 L402.5 926.7 L403.0 917.0 L403.5 921.6 L404.0 922.1 L404.5 921.0 L405.0 928.1 L405.5 939.0 L406.0 942.2 L406.5 916.6 L407.0 923.6 L407.5 918.2 L408.0 923.1 L408.5 919.7 L409.0 936.3 L409.5 932.2 L410.0 917.5 L410.5 935.7 L411.0 916.2 L411.5 913.4 L412.0 905.9 L412.5 889.2 L413.0 877.3 L413.5 871.6 L414.0 861.8 L414.5 849.3 L415.0 839.5 L415.5 850.8 L416.0 859.5 L416.5 874.6 L417.0 881.1 L417.5 896.6 L418.0 909.8 L418.5 920.2 L419.0 942.8 L419.5 928.7 L420.0 931.9 L420.5 923.8 L421.0 911.3 L421.5 920.9 L422.0 928.1 L422.5 902.7 L423.0 930.2 L423.5 931.1 L424.0 938.6 L424.5 931.1 L425.0 938.6 L425.5 927.2 L426.0 922.7 L426.5 932.9 L427.0 916.6 L427.5 941.2 L428.0 915.4 L428.5 942.6 L429.0 921.7 L429.5 922.6 L430.0 916.6 L430.5 924.9 L431.0 927.9 L431.5 910.8 L432.0 907.6 L432.5 925.1 L433.0 909.4 L433.5 931.0 L434.0 936.3 L434.5 918.0 L435.0 946.3 L435.5 922.5 L436.0 911.0 L436.5 941.6 L437.0 926.5 L437.5 915.6 L438.0 920.2 L438.5 935.2 L439.0 937.1 L439.5 919.3 L440.0 907.8 L440.5 912.9 L441.0 925.8 L441.5 918.4 L442.0 921.2 L442.5 921.0 L443.0 933.7 L443.5 912.8 L444.0 914.6 L444.5 892.7 L445.0 913.5 L445.5 895.6 L446.0 905.9 L446.5 914.7 L447.0 906.8 L447.5 911.7 L448.0 888.4 L448.5 907.7 L449.0 913.7 L449.5 911.5 L450.0 915.5 L450.5 902.9 L451.0 917.6 L451.5 903.7 L452.0 906.5 L452.5 920.0 L453.0 924.4 L453.5 917.6 L454.0 896.0 L454.5 904.2 L455.0 902.1 L455.5 908.0 L456.0 923.9 L456.5 918.7 L457.0 893.0 L457.5 909.2 L458.0 907.9 L458.5 897.7 L459.0 900.3 L459.5 916.6 L460.0 902.1 L460.5 901.7 L461.0 898.1 L461.5 878.6 L462.0 903.5 L462.5 911.6 L463.0 923.3 L463.5 924.3 L464.0 890.4 L464.5 900.4 L465.0 894.5 L465.5 902.9 L466.0 888.2 L466.5 902.0 L467.0 905.5 L467.5 904.9 L468.0 902.1 L468.5 908.2 L469.0 894.8 L469.5 892.3 L470.0 895.7 L470.5 892.8 L471.0 899.5 L471.5 906.1 L472.0 893.6 L472.5 876.5 L473.0 876.7 L473.5 898.0 L474.0 899.4 L474.5 898.3 L475.0 869.0 L475.5 900.0 L476.0 914.1 L476.5 890.8 L477.0 888.3 L477.5 901.8 L478.0 882.2 L478.5 878.3 L479.0 901.2 L479.5 878.5 L480.0 895.0 L480.5 881.8 L481.0 883.7 L481.5 877.0 L482.0 891.3 L482.5 884.9 L483.0 883.4 L483.5 879.9 L484.0 878.1 L484.5 895.3 L485.0 891.9 L485.5 893.0 L486.0 870.0 L486.5 886.3 L487.0 863.5 L487.5 897.5 L488.0 899.5 L488.5 894.9 L489.0 884.7 L489.5 885.1 L490.0 876.8 L490.5 869.3 L491.0 887.1 L491.5 888.3 L492.0 872.0 L492.5 861.1 L493.0 869.6 L493.5 870.5 L494.0 867.0 L494.5 853.8 L495.0 857.2 L495.5 873.0 L496.0 892.5 L496.5 856.0 L497.0 873.0 L497.5 867.2 L498.0 873.9 L498.5 870.6 L499.0 881.6 L499.5 869.5 L500.0 861.0 L500.5 869.9 L501.0 868.0 L501.5 875.3 L502.0 871.5 L502.5 870.9 L503.0 863.8 L503.5 860.7 L504.0 858.9 L504.5 863.3 L505.0 873.7 L505.5 876.2 L506.0 851.9 L506.5 855.7 L507.0 856.8 L507.5 876.9 L508.0 845.8 L508.5 855.7 L509.0 829.0 L509.5 857.1 L510.0 841.7 L510.5 851.3 L511.0 861.1 L511.5 834.2 L512.0 823.8 L512.5 852.7 L513.0 840.0 L513.5 852.4 L514.0 862.7 L514.5 833.4 L515.0 828.8 L515.5 833.0 L516.0 822.1 L516.5 831.9 L517.0 853.0 L517.5 830.0 L518.0 821.3 L518.5 842.6 L519.0 843.4 L519.5 811.7 L520.0 836.5 L520.5 828.7 L521.0 838.6 L521.5 823.7 L522.0 826.9 L522.5 818.1 L523.0 856.9 L523.5 836.6 L524.0 838.1 L524.5 837.3 L525.0 829.3 L525.5 842.3 L526.0 832.1 L526.5 850.1 L527.0 833.7 L527.5 841.2 L528.0 804.3 L528.5 812.4 L529.0 812.4 L529.5 798.5 L530.0 808.6 L530.5 807.7 L531.0 798.5 L531.5 821.0 L532.0 802.6 L532.5 809.9 L533.0 788.2 L533.5 803.0 L534.0 794.8 L534.5 793.7 L535.0 814.9 L535.5 805.5 L536.0 786.3 L536.5 786.1 L537.0 806.4 L537.5 785.5 L538.0 791.4 L538.5 810.4 L539.0 807.4 L539.5 790.6 L540.0 788.4 L540.5 790.7 L541.0 783.9 L541.5 785.5 L542.0 799.6 L542.5 787.7 L543.0 784.4 L543.5 777.6 L544.0 790.8 L544.5 771.2 L545.0 782.3 L545.5 760.3 L546.0 769.0 L546.5 776.0 L547.0 762.5 L547.5 772.6 L548.0 769.1 L548.5 760.2 L549.0 773.8 L549.5 767.3 L550.0 756.9 L550.5 764.0 L551.0 772.7 L551.5 746.9 L552.0 743.1 L552.5 770.7 L553.0 744.6 L553.5 749.2 L554.0 726.2 L554.5 751.3 L555.0 757.3 L555.5 733.9 L556.0 757.5 L556.5 734.3 L557.0 745.4 L557.5 766.3 L558.0 771.5 L558.5 747.1 L559.0 766.1 L559.5 738.7 L560.0 760.0 L560.5 724.2 L561.0 752.1 L561.5 741.3 L562.0 729.9 L562.5 740.6 L563.0 738.1 L563.5 740.0 L564.0 750.8 L564.5 729.8 L565.0 729.4 L565.5 738.7 L566.0 730.8 L566.5 736.9 L567.0 719.5 L567.5 747.6 L568.0 721.6 L568.5 747.8 L569.0 746.4 L569.5 723.4 L570.0 742.6 L570.5 752.2 L571.0 728.2 L571.5 737.3 L572.0 717.3 L572.5 745.5 L573.0 732.3 L573.5 751.6 L574.0 741.9 L574.5 727.3 L575.0 713.8 L575.5 738.8 L576.0 741.5 L576.5 719.4 L577.0 736.7 L577.5 728.2 L578.0 717.1 L578.5 709.3 L579.0 717.8 L579.5 731.6 L580.0 703.7 L580.5 714.2 L581.0 713.3 L581.5 703.9 L582.0 699.5 L582.5 717.5 L583.0 725.3 L583.5 706.3 L584.0 693.0 L584.5 707.9 L585.0 702.0 L585.5 708.6 L586.0 689.6 L586.5 713.3 L587.0 695.0 L587.5 714.9 L588.0 698.6 L588.5 692.0 L589.0 694.4 L589.5 703.2 L590.0 702.0 L590.5 706.9 L591.0 677.1 L591.5 684.2 L592.0 689.1 L592.5 664.6 L593.0 684.9 L593.5 694.9 L594.0 679.9 L594.5 686.8 L595.0 679.2 L595.5 684.7 L596.0 671.7 L596.5 695.8 L597.0 692.8 L597.5 684.7 L598.0 702.3 L598.5 685.6 L599.0 677.5 L599.5 654.5 L600.0 665.2 L600.5 683.7 L601.0 693.0 L601.5 668.1 L602.0 682.7 L602.5 663.9 L603.0 667.7 L603.5 662.7 L604.0 664.5 L604.5 662.4 L605.0 670.0 L605.5 652.5 L606.0 682.5 L606.5 671.0 L607.0 642.0 L607.5 645.3 L608.0 684.4 L608.5 648.2 L609.0 664.5 L609.5 646.7 L610.0 680.3 L610.5 638.7 L611.0 672.1 L611.5 657.9 L612.0 648.2 L612.5 647.7 L613.0 640.4 L613.5 627.4 L614.0 653.7 L614.5 656.3 L615.0 628.6 L615.5 624.7 L616.0 617.2 L616.5 600.2 L617.0 595.0 L617.5 587.0 L618.0 594.7 L618.5 597.1 L619.0 614.1 L619.5 619.7 L620.0 613.2 L620.5 631.5 L621.0 636.2 L621.5 627.3 L622.0 632.0 L622.5 634.9 L623.0 613.4 L623.5 647.0 L624.0 626.8 L624.5 624.8 L625.0 640.9 L625.5 622.1 L626.0 650.8 L626.5 644.8 L627.0 631.7 L627.5 646.7 L628.0 648.0 L628.5 625.2 L629.0 607.7 L629.5 610.5 L630.0 619.7 L630.5 636.4 L631.0 633.7 L631.5 625.4 L632.0 648.8 L632.5 622.4 L633.0 632.3 L633.5 610.2 L634.0 615.1 L634.5 622.6 L635.0 633.3 L635.5 593.6 L636.0 635.8 L636.5 607.1 L637.0 631.6 L637.5 616.7 L638.0 602.2 L638.5 607.8 L639.0 642.0 L639.5 615.4 L640.0 611.2 L640.5 598.7 L641.0 603.0 L641.5 630.4 L642.0 633.1 L642.5 638.1 L643.0 620.2 L643.5 608.5 L644.0 600.0 L644.5 629.6 L645.0 606.7 L645.5 595.7 L646.0 607.3 L646.5 609.5 L647.0 623.7 L647.5 608.0 L648.0 626.1 L648.5 619.8 L649.0 611.9 L649.5 581.9 L650.0 582.2 L650.5 609.7 L651.0 617.5 L651.5 630.4 L652.0 586.9 L652.5 617.3 L653.0 616.1 L653.5 621.2 L654.0 610.7 L654.5 605.6 L655.0 607.4 L655.5 612.7 L656.0 622.7 L656.5 595.9 L657.0 600.1 L657.5 595.5 L658.0 607.3 L658.5 575.9 L659.0 625.8 L659.5 607.8 L660.0 591.4 L660.5 602.1 L661.0 599.9 L661.5 595.8 L662.0 602.5 L662.5 635.1 L663.0 634.7 L663.5 575.7 L664.0 605.4 L664.5 606.9 L665.0 586.4 L665.5 597.9 L666.0 597.4 L666.5 600.7 L667.0 579.8 L667.5 584.9 L668.0 612.2 L668.5 609.2 L669.0 610.2 L669.5 609.2 L670.0 586.6 L670.5 604.6 L671.0 588.7 L671.5 600.9 L672.0 583.2 L672.5 589.8 L673.0 570.0 L673.5 591.9 L674.0 571.6 L674.5 572.7 L675.0 556.3 L675.5 577.1 L676.0 568.7 L676.5 570.0 L677.0 543.0 L677.5 551.7 L678.0 542.5 L678.5 537.1 L679.0 537.3 L679.5 528.9 L680.0 531.9 L680.5 519.2 L681.0 516.8 L681.5 513.6 L682.0 511.5 L682.5 507.1 L683.0 510.4 L683.5 519.2 L684.0 528.9 L684.5 525.9 L685.0 537.4 L685.5 537.1 L686.0 549.0 L686.5 557.2 L687.0 534.6 L687.5 586.9 L688.0 567.0 L688.5 589.5 L689.0 593.5 L689.5 568.7 L690.0 616.2 L690.5 589.5 L691.0 586.1 L691.5 615.6 L692.0 650.1 L692.5 644.6 L693.0 584.6 L693.5 613.7 L694.0 623.1 L694.5 613.9 L695.0 608.2 L695.5 614.9 L696.0 608.0 L696.5 651.5 L697.0 631.2 L697.5 612.7 L698.0 633.3 L698.5 654.7 L699.0 627.1 L699.5 651.4 L700.0 616.3 L700.5 627.4 L701.0 672.8 L701.5 631.6 L702.0 602.8 L702.5 658.9 L703.0 625.4 L703.5 653.2 L704.0 635.0 L704.5 613.5 L705.0 668.5 L705.5 644.4 L706.0 628.0 L706.5 664.2 L707.0 650.9 L707.5 677.0 L708.0 665.1 L708.5 655.0 L709.0 632.1 L709.5 632.9 L710.0 650.7 L710.5 635.2 L711.0 655.7 L711.5 668.0 L712.0 661.9 L712.5 675.4 L713.0 670.1 L713.5 664.4 L714.0 653.9 L714.5 649.1 L715.0 656.4 L715.5 661.5 L716.0 680.5 L716.5 658.9 L717.0 650.1 L717.5 649.0 L718.0 648.3 L718.5 651.6 L719.0 697.7 L719.5 685.8 L720.0 671.9 L720.5 678.3 L721.0 665.5 L721.5 653.5 L722.0 647.8 L722.5 675.3 L723.0 685.6 L723.5 692.6 L724.0 663.6 L724.5 682.5 L725.0 655.5 L725.5 678.2 L726.0 669.4 L726.5 680.0 L727.0 652.1 L727.5 676.0 L728.0 673.7 L728.5 669.5 L729.0 688.5 L729.5 682.9 L730.0 685.2 L730.5 694.3 L731.0 667.1 L731.5 686.1 L732.0 659.7 L732.5 676.4 L733.0 660.7 L733.5 658.7 L734.0 665.5 L734.5 665.7 L735.0 656.5 L735.5 655.2 L736.0 648.7 L736.5 628.7 L737.0 624.6 L737.5 609.2 L738.0 596.5 L738.5 594.3 L739.0 581.1 L739.5 572.0 L740.0 582.1 L740.5 599.6 L741.0 611.0 L741.5 621.9 L742.0 640.5 L742.5 646.4 L743.0 657.8 L743.5 652.0 L744.0 675.7 L744.5 690.8 L745.0 666.5 L745.5 671.6 L746.0 690.8 L746.5 694.4 L747.0 699.0 L747.5 688.4 L748.0 699.3 L748.5 695.5 L749.0 707.5 L749.5 697.1 L750.0 713.9 L750.5 699.3 L751.0 730.4 L751.5 699.0 L752.0 714.4 L752.5 726.1 L753.0 712.9 L753.5 720.8 L754.0 704.8 L754.5 725.3 L755.0 729.6 L755.5 729.5 L756.0 713.9 L756.5 733.6 L757.0 723.0 L757.5 720.2 L758.0 712.6 L758.5 729.0 L759.0 726.8 L759.5 715.1 L760.0 712.4 L760.5 723.1 L761.0 706.9 L761.5 735.4 L762.0 735.3 L762.5 738.8 L763.0 723.3 L763.5 753.6 L764.0 734.4 L764.5 746.8 L765.0 739.7 L765.5 744.1 L766.0 725.6 L766.5 748.8 L767.0 730.7 L767.5 720.9 L768.0 735.7 L768.5 753.0 L769.0 747.0 L769.5 743.2 L770.0 730.6 L770.5 751.7 L771.0 742.4 L771.5 728.3 L772.0 744.6 L772.5 728.1 L773.0 720.6 L773.5 735.2 L774.0 736.2 L774.5 712.8 L775.0 758.2 L775.5 695.1 L776.0 685.7 L776.5 647.0 L777.0 621.4 L777.5 600.4 L778.0 570.9 L778.5 544.5 L779.0 515.0 L779.5 474.0 L780.0 448.4 L780.5 414.2 L780.8 397.2 L781.0 414.8 L781.5 449.9 L782.0 487.8 L782.5 517.9 L783.0 545.8 L783.5 575.9 L784.0 613.4 L784.5 646.8 L785.0 689.7 L785.5 703.0 L786.0 737.1 L786.5 743.9 L787.0 771.5 L787.5 785.2 L788.0 751.7 L788.5 752.8 L789.0 756.1 L789.5 776.5 L790.0 782.9 L790.5 784.0 L791.0 779.7 L791.5 784.5 L792.0 788.0 L792.5 806.6 L793.0 785.8 L793.5 792.7 L794.0 783.0 L794.5 789.7 L795.0 791.3 L795.5 811.4 L796.0 782.2 L796.5 788.6 L797.0 784.0 L797.5 796.1 L798.0 794.4 L798.5 783.8 L799.0 797.0 L799.5 797.8 L800.0 796.9 L800.5 794.0 L801.0 805.3 L801.5 800.3 L802.0 801.2 L802.5 801.8 L803.0 796.2 L803.5 800.9 L804.0 803.5 L804.5 797.8 L805.0 812.1 L805.5 794.1 L806.0 813.5 L806.5 801.9 L807.0 800.4 L807.5 809.0 L808.0 807.7 L808.5 819.6 L809.0 802.2 L809.5 801.8 L810.0 815.5 L810.5 834.0 L811.0 803.1 L811.5 830.0 L812.0 842.8 L812.5 813.0 L813.0 834.2 L813.5 819.8 L814.0 815.9 L814.5 818.2 L815.0 819.1 L815.5 812.2 L816.0 823.8 L816.5 817.9 L817.0 848.8 L817.5 843.0 L818.0 826.4 L818.5 826.9 L819.0 839.9 L819.5 856.4 L820.0 849.6 L820.5 839.4 L821.0 852.1 L821.5 812.7 L822.0 813.9 L822.5 837.9 L823.0 824.4 L823.5 835.1 L824.0 832.8 L824.5 838.1 L825.0 840.4 L825.5 833.1 L826.0 833.0 L826.5 848.8 L827.0 838.1 L827.5 836.2 L828.0 836.5 L828.5 832.0 L829.0 829.7 L829.5 858.5 L830.0 829.2 L830.5 845.8 L831.0 844.2 L831.5 843.6 L832.0 850.6 L832.5 870.2 L833.0 865.7 L833.5 845.9 L834.0 833.8 L834.5 852.5 L835.0 849.4 L835.5 843.5 L836.0 859.4 L836.5 850.3 L837.0 849.7 L837.5 870.1 L838.0 864.1 L838.5 854.2 L839.0 869.7 L839.5 859.9 L840.0 854.7 L840.5 855.0 L841.0 857.2 L841.5 858.6 L842.0 854.1 L842.5 858.9 L843.0 851.1 L843.5 851.2 L844.0 869.0 L844.5 872.7 L845.0 866.1 L845.5 856.4 L846.0 866.1 L846.5 855.0 L847.0 856.8 L847.5 864.0 L848.0 877.1 L848.5 896.7 L849.0 881.5 L849.5 869.4 L850.0 863.7 L850.5 883.3 L851.0 888.8 L851.5 873.6 L852.0 891.5 L852.5 894.6 L853.0 879.9 L853.5 881.3 L854.0 871.9 L854.5 865.1 L855.0 881.6 L855.5 885.1 L856.0 877.8 L856.5 879.2 L857.0 896.2 L857.5 884.8 L858.0 915.5 L858.5 893.5 L859.0 901.0 L859.5 886.8 L860.0 887.3 L860.5 885.7 L861.0 882.5 L861.5 907.2 L862.0 903.5 L862.5 889.9 L863.0 898.6 L863.5 899.4 L864.0 892.0 L864.5 899.9 L865.0 891.4 L865.5 901.1 L866.0 907.7 L866.5 900.3 L867.0 914.2 L867.5 910.2 L868.0 891.7 L868.5 908.4 L869.0 905.1 L869.5 904.4 L870.0 896.3 L870.5 916.4 L871.0 901.6 L871.5 917.7 L872.0 917.0 L872.5 923.0 L873.0 909.5 L873.5 924.0 L874.0 907.8 L874.5 929.8 L875.0 920.3 L875.5 917.7 L876.0 920.2 L876.5 927.0 L877.0 913.6 L877.5 922.3 L878.0 917.0 L878.5 922.8 L879.0 916.5 L879.5 924.3 L880.0 932.4 L880.5 916.8 L881.0 925.0 L881.5 936.1 L882.0 930.1 L882.5 938.2 L883.0 914.5 L883.5 919.3 L884.0 929.3 L884.5 940.8 L885.0 924.1 L885.5 940.9 L886.0 920.9 L886.5 948.1 L887.0 920.6 L887.5 950.2 L888.0 926.6 L888.5 929.0 L889.0 923.5 L889.5 932.0 L890.0 961.8 L890.5 941.7 L891.0 932.8 L891.5 930.7 L892.0 946.1 L892.5 921.5 L893.0 944.1 L893.5 944.0 L894.0 935.3 L894.5 941.6 L895.0 938.0 L895.5 945.7 L896.0 940.5 L896.5 949.6 L897.0 936.2 L897.5 945.2 L898.0 942.4 L898.5 934.2 L899.0 932.3 L899.5 954.8 L900.0 920.8 L900.5 921.4 L901.0 952.1 L901.5 954.8 L902.0 954.7 L902.5 962.0 L903.0 952.5 L903.5 955.8 L904.0 948.6 L904.5 953.9 L905.0 965.9 L905.5 953.5 L906.0 940.9 L906.5 938.4 L907.0 958.3 L907.5 939.3 L908.0 945.6 L908.5 945.2 L909.0 971.9 L909.5 950.7 L910.0 950.0 L910.5 960.6 L911.0 956.1 L911.5 938.4 L912.0 951.1 L912.5 938.0 L913.0 956.5 L913.5 961.1 L914.0 955.2 L914.5 970.9 L915.0 941.5 L915.5 968.6 L916.0 954.6 L916.5 958.1 L917.0 952.0 L917.5 956.5 L918.0 959.6 L918.5 945.7 L919.0 951.2 L919.5 948.0 L920.0 947.0 L920.5 959.1 L921.0 954.1 L921.5 960.8 L922.0 954.4 L922.5 957.3 L923.0 975.3 L923.5 964.6 L924.0 946.8 L924.5 948.1 L925.0 958.5 L925.5 962.4 L926.0 948.7 L926.5 942.8 L927.0 952.6 L927.5 967.8 L928.0 957.5 L928.5 949.4 L929.0 952.0 L929.5 945.8 L930.0 958.2 L930.5 937.3 L931.0 948.2 L931.5 956.1 L932.0 946.5 L932.5 957.4 L933.0 958.2 L933.5 965.7 L934.0 947.9 L934.5 933.9 L935.0 927.6 L935.5 933.1 L936.0 917.2 L936.5 929.5 L937.0 914.4 L937.5 910.2 L938.0 907.2 L938.5 904.3 L939.0 898.4 L939.5 894.3 L940.0 902.0 L940.5 912.3 L941.0 924.8 L941.5 924.0 L942.0 936.5 L942.5 932.8 L943.0 952.5 L943.5 978.4 L944.0 981.4 L944.5 994.3 L945.0 977.2 L945.5 965.8 L946.0 989.8 L946.5 1003.2 L947.0 982.3 L947.5 976.6 L948.0 972.4 L948.5 990.8 L949.0 1004.0 L949.5 980.3 L950.0 989.7 L950.5 987.7 L951.0 1002.2 L951.5 991.8 L952.0 1007.9 L952.5 988.1 L953.0 994.7 L953.5 996.2 L954.0 994.4 L954.5 998.2 L955.0 997.3 L955.5 1003.8 L956.0 996.7 L956.5 998.4 L957.0 994.7 L957.5 1006.2 L958.0 1004.6 L958.5 987.9 L959.0 1006.2 L959.5 1010.7 L960.0 993.4 L960.5 999.1 L961.0 1007.1 L961.5 1005.1 L962.0 1001.0 L962.5 1013.4 L963.0 1001.9 L963.5 1006.5 L964.0 1014.1 L964.5 1001.4 L965.0 1009.0 L965.5 998.3 L966.0 1001.6 L966.5 1006.5 L967.0 1002.4 L967.5 1003.7 L968.0 1004.3 L968.5 1001.7 L969.0 1009.6 L969.5 1016.7 L970.0 1003.8 L970.5 994.8 L971.0 1003.5 L971.5 1003.7 L972.0 1011.9 L972.5 1010.4 L973.0 999.7 L973.5 1009.0 L974.0 997.8 L974.5 1010.9 L975.0 1016.3 L975.5 998.9 L976.0 1009.9 L976.5 1003.0 L977.0 1001.5 L977.5 1007.0 L978.0 1008.8 L978.5 1001.9 L979.0 1000.5 L979.5 1001.5 L980.0 1009.3 L980.5 1022.0 L981.0 1011.9 L981.5 985.7 L982.0 1005.5 L982.5 985.5 L983.0 1014.2 L983.5 1009.0 L984.0 1012.9 L984.5 1013.4 L985.0 1005.3 L985.5 1003.5 L986.0 1018.3 L986.5 1004.4 L987.0 1013.4 L987.5 1001.7 L988.0 1003.3 L988.5 1016.0 L989.0 1008.8 L989.5 1008.2 L990.0 1018.1 L990.5 993.6 L991.0 1003.2 L991.5 1013.8 L992.0 1028.8 L992.5 1024.8 L993.0 1023.0 L993.5 1014.3 L994.0 1024.1 L994.5 1018.9 L995.0 1009.0 L995.5 1014.1 L996.0 1041.1 L996.5 1026.0 L997.0 1026.2 L997.5 1034.5 L998.0 1035.2 L998.5 1028.8 L999.0 1027.8 L999.5 1021.5 L1000.0 1047.6 L1000.5 1037.3 L1001.0 1031.8 L1001.5 1031.8 L1002.0 1023.9 L1002.5 1041.8 L1003.0 1050.7 L1003.5 1026.8 L1004.0 1033.6 L1004.5 1048.4 L1005.0 1032.2 L1005.5 1023.0 L1006.0 1017.4 L1006.5 1038.8 L1007.0 1032.0 L1007.5 1041.5 L1008.0 1026.7 L1008.5 1042.7 L1009.0 1034.7 L1009.5 1022.6 L1010.0 1039.7 L1010.5 1037.2 L1011.0 1026.2 L1011.5 1040.9 L1012.0 1032.1 L1012.5 1029.3 L1013.0 1031.9 L1013.5 1031.9 L1014.0 1038.9 L1014.5 1034.5 L1015.0 1032.2 L1015.5 1034.7 L1016.0 1040.6 L1016.5 1042.0 L1017.0 1034.5 L1017.5 1039.6 L1018.0 1033.5 L1018.5 1025.3 L1019.0 1040.4 L1019.5 1053.1 L1020.0 1041.3 L1020.5 1041.8 L1021.0 1032.7 L1021.5 1037.4 L1022.0 1050.0 L1022.5 1036.6 L1023.0 1040.0 L1023.5 1037.7 L1024.0 1060.6 L1024.5 1056.3 L1025.0 1054.0 L1025.5 1060.2 L1026.0 1050.6 L1026.5 1048.6 L1027.0 1050.7 L1027.5 1053.1 L1028.0 1057.2 L1028.5 1035.3 L1029.0 1031.9 L1029.5 1054.2 L1030.0 1046.3 L1030.5 1051.4 L1031.0 1052.9 L1031.5 1031.4 L1032.0 1049.1 L1032.5 1044.5 L1033.0 1043.5 L1033.5 1044.4 L1034.0 1068.9 L1034.5 1051.1 L1035.0 1043.4 L1035.5 1058.7 L1036.0 1056.5 L1036.5 1063.0 L1037.0 1050.5 L1037.5 1058.8 L1038.0 1046.5 L1038.5 1060.2 L1039.0 1050.8 L1039.5 1056.1 L1040.0 1050.2 L1040.5 1050.6 L1041.0 1055.4 L1041.5 1053.4 L1042.0 1047.9 L1042.5 1069.3 L1043.0 1057.1 L1043.5 1050.5 L1044.0 1045.6 L1044.5 1058.0 L1045.0 1061.6 L1045.5 1045.5 L1046.0 1055.0 L1046.5 1060.3 L1047.0 1055.0 L1047.5 1056.2 L1048.0 1065.1 L1048.5 1047.8 L1049.0 1044.9 L1049.5 1051.6 L1050.0 1053.3 L1050.5 1063.9 L1051.0 1064.8 L1051.5 1050.9 L1052.0 1056.7 L1052.5 1052.2 L1053.0 1053.5 L1053.5 1064.0 L1054.0 1050.9 L1054.5 1062.5 L1055.0 1055.3 L1055.5 1061.9 L1056.0 1051.0 L1056.5 1044.9 L1057.0 1067.3 L1057.5 1070.5 L1058.0 1067.3 L1058.5 1056.7 L1059.0 1057.1 L1059.5 1057.3 L1060.0 1056.4 L1060.5 1068.8 L1061.0 1059.4 L1061.5 1065.2 L1062.0 1056.3 L1062.5 1062.2 L1063.0 1049.4 L1063.5 1048.8 L1064.0 1046.8 L1064.5 1057.5 L1065.0 1061.2 L1065.5 1047.8 L1066.0 1050.4 L1066.5 1043.1 L1067.0 1042.5 L1067.5 1035.6 L1068.0 1054.1 L1068.5 1034.6 L1069.0 1028.8 L1069.5 1027.6 L1070.0 1022.3 L1070.5 1017.9 L1071.0 1012.2 L1071.5 1011.8 L1072.0 1004.1 L1072.5 999.2 L1073.0 994.2 L1073.5 998.5 L1074.0 1004.2 L1074.5 1008.4 L1075.0 1015.6 L1075.5 1020.1 L1076.0 1021.2 L1076.5 1031.9 L1077.0 1031.4 L1077.5 1044.8 L1078.0 1038.9 L1078.5 1043.4 L1079.0 1044.0 L1079.5 1040.8 L1080.0 1047.0 L1080.5 1044.1 L1081.0 1045.8 L1081.5 1062.2 L1082.0 1053.8 L1082.5 1043.7 L1083.0 1054.4 L1083.5 1047.6 L1084.0 1043.5 L1084.5 1047.2 L1085.0 1062.2 L1085.5 1043.0 L1086.0 1049.7 L1086.5 1049.7 L1087.0 1053.1 L1087.5 1065.0 L1088.0 1058.0 L1088.5 1067.5 L1089.0 1055.9 L1089.5 1068.4 L1090.0 1059.7 L1090.5 1067.8 L1091.0 1060.9 L1091.5 1072.9 L1092.0 1077.6 L1092.5 1060.4 L1093.0 1062.1 L1093.5 1071.4 L1094.0 1069.4 L1094.5 1057.8 L1095.0 1065.9 L1095.5 1073.4 L1096.0 1083.1 L1096.5 1065.9 L1097.0 1064.3 L1097.5 1074.6 L1098.0 1071.1 L1098.5 1068.8 L1099.0 1071.5 L1099.5 1068.7 L1100.0 1079.1 L1100.5 1060.9 L1101.0 1073.3 L1101.5 1078.2 L1102.0 1076.3 L1102.5 1059.3 L1103.0 1072.1 L1103.5 1066.5 L1104.0 1086.1 L1104.5 1084.9 L1105.0 1077.1 L1105.5 1072.6 L1106.0 1080.2 L1106.5 1079.6 L1107.0 1063.2 L1107.5 1084.7 L1108.0 1075.4 L1108.5 1065.9 L1109.0 1080.7 L1109.5 1065.8 L1110.0 1076.9 L1110.5 1082.7 L1111.0 1083.2 L1111.5 1077.4 L1112.0 1070.6 L1112.5 1080.4 L1113.0 1080.3 L1113.5 1084.0 L1114.0 1067.7 L1114.5 1075.0 L1115.0 1075.7 L1115.5 1073.1 L1116.0 1073.1 L1116.5 1075.2 L1117.0 1069.3 L1117.5 1074.4 L1118.0 1077.4 L1118.5 1066.7 L1119.0 1075.8 L1119.5 1073.2 L1120.0 1076.9 L1120.5 1082.1 L1121.0 1073.0 L1121.5 1070.0 L1122.0 1082.2 L1122.5 1075.8 L1123.0 1066.8 L1123.5 1078.7 L1124.0 1077.1 L1124.5 1068.9 L1125.0 1075.4 L1125.5 1078.1 L1126.0 1069.2 L1126.5 1076.3 L1127.0 1074.3 L1127.5 1077.1 L1128.0 1081.0 L1128.5 1074.7 L1129.0 1073.7 L1129.5 1080.2 L1130.0 1077.5 L1130.5 1085.7 L1131.0 1073.2 L1131.5 1068.9 L1132.0 1083.5 L1132.5 1075.4 L1133.0 1073.6 L1133.5 1076.4 L1134.0 1084.7 L1134.5 1067.9 L1135.0 1063.4 L1135.5 1069.2 L1136.0 1068.9 L1136.5 1079.6 L1137.0 1072.3 L1137.5 1075.7 L1138.0 1073.5 L1138.5 1067.3 L1139.0 1080.5 L1139.5 1076.4 L1140.0 1082.8 L1140.5 1073.9 L1141.0 1067.3 L1141.5 1077.5 L1142.0 1082.5 L1142.5 1075.6 L1143.0 1068.1 L1143.5 1073.1 L1144.0 1082.0 L1144.5 1082.8 L1145.0 1069.3 L1145.5 1071.6 L1146.0 1062.1 L1146.5 1074.5 L1147.0 1075.2 L1147.5 1090.2 L1148.0 1074.9 L1148.5 1084.8 L1149.0 1076.3 L1149.5 1071.6 L1150.0 1079.8 L1150.5 1084.6 L1151.0 1068.0 L1151.5 1078.1 L1152.0 1081.7 L1152.5 1068.0 L1153.0 1076.6 L1153.5 1075.6 L1154.0 1078.8 L1154.5 1088.3 L1155.0 1071.3 L1155.5 1071.1 L1156.0 1080.1 L1156.5 1077.2 L1157.0 1075.8 L1157.5 1062.9 L1158.0 1076.5 L1158.5 1075.8 L1159.0 1074.5 L1159.5 1072.1 L1160.0 1072.9 L1160.5 1072.8 L1161.0 1083.7 L1161.5 1078.7 L1162.0 1080.4 L1162.5 1077.8 L1163.0 1080.0 L1163.5 1072.1 L1164.0 1084.7 L1164.5 1079.7 L1165.0 1083.0 L1165.5 1076.6 L1166.0 1078.9 L1166.5 1080.4 L1167.0 1076.7 L1167.5 1071.3 L1168.0 1078.2 L1168.5 1085.1 L1169.0 1080.6 L1169.5 1071.5 L1170.0 1079.3 L1170.5 1082.3 L1171.0 1079.3 L1171.5 1073.6 L1172.0 1070.0 L1172.5 1083.5 L1173.0 1079.1 L1173.5 1090.5 L1174.0 1080.5 L1174.5 1081.5 L1175.0 1073.9 L1175.5 1080.7 L1176.0 1087.2 L1176.5 1078.7 L1177.0 1076.3 L1177.5 1068.3 L1178.0 1077.4 L1178.5 1064.5 L1179.0 1080.5 L1179.5 1082.3 L1180.0 1071.4 L1180.5 1074.5 L1181.0 1075.7 L1181.5 1066.6 L1182.0 1069.8 L1182.5 1073.9 L1183.0 1070.2 L1183.5 1080.5 L1184.0 1080.2 L1184.5 1076.4 L1185.0 1080.3 L1185.5 1067.7 L1186.0 1076.8 L1186.5 1077.5 L1187.0 1077.3 L1187.5 1074.5 L1188.0 1076.6 L1188.5 1082.0 L1189.0 1074.7 L1189.5 1066.6 L1190.0 1074.9 L1190.5 1074.1 L1191.0 1069.0 L1191.5 1079.1 L1192.0 1082.6 L1192.5 1082.1 L1193.0 1079.1 L1193.5 1078.1 L1194.0 1067.6 L1194.5 1070.6 L1195.0 1081.7 L1195.5 1065.7 L1196.0 1072.4 L1196.5 1085.0 L1197.0 1068.8 L1197.5 1077.7 L1198.0 1083.5 L1198.5 1069.3 L1199.0 1063.1 L1199.5 1068.6 L1200.0 1078.4 L1200.5 1073.6 L1201.0 1085.2 L1201.5 1085.4 L1202.0 1069.3 L1202.5 1080.1 L1203.0 1076.8 L1203.5 1079.5 L1204.0 1072.9 L1204.5 1070.9 L1205.0 1074.2 L1205.5 1082.7 L1206.0 1076.5 L1206.5 1078.8 L1207.0 1079.5 L1207.5 1077.8 L1208.0 1073.5 L1208.5 1066.0 L1209.0 1076.1 L1209.5 1079.8 L1210.0 1077.0 L1210.5 1071.7 L1211.0 1084.1 L1211.5 1070.4 L1212.0 1080.8 L1212.5 1083.8 L1213.0 1080.8 L1213.5 1081.0 L1214.0 1077.1 L1214.5 1071.4 L1215.0 1063.9 L1215.5 1076.9 L1216.0 1077.9 L1216.5 1063.7 L1217.0 1089.5 L1217.5 1079.3 L1218.0 1078.6 L1218.5 1077.3 L1219.0 1075.8 L1219.5 1080.8 L1220.0 1079.1 L1220.5 1069.1 L1221.0 1075.7 L1221.5 1080.5 L1222.0 1074.6 L1222.5 1085.6 L1223.0 1081.5 L1223.5 1080.9 L1224.0 1080.8 L1224.5 1084.2 L1225.0 1062.6 L1225.5 1067.9 L1226.0 1075.4 L1226.5 1071.5 L1227.0 1074.2 L1227.5 1072.3 L1228.0 1065.5 L1228.5 1081.3 L1229.0 1084.3 L1229.5 1078.9 L1230.0 1072.9 L1230.5 1074.2 L1231.0 1085.9 L1231.5 1075.9 L1232.0 1084.8 L1232.5 1080.9 L1233.0 1084.2 L1233.5 1079.9 L1234.0 1077.2 L1234.5 1075.2 L1235.0 1071.2 L1235.5 1073.0 L1236.0 1075.8 L1236.5 1070.1 L1237.0 1079.5 L1237.5 1071.0 L1238.0 1072.6 L1238.5 1071.3 L1239.0 1051.8 L1239.5 1066.1 L1240.0 1058.5 L1240.5 1064.9 L1241.0 1053.1 L1241.5 1052.9 L1242.0 1044.4 L1242.5 1038.5 L1243.0 1055.0 L1243.5 1054.9 L1244.0 1052.1 L1244.5 1067.2 L1245.0 1054.9 L1245.5 1056.2 L1246.0 1071.1 L1246.5 1055.0 L1247.0 1051.1 L1247.5 1074.8 L1248.0 1065.9 L1248.5 1073.4 L1249.0 1055.5 L1249.5 1062.8 L1250.0 1069.2 L1250.5 1054.6 L1251.0 1057.2 L1251.5 1055.9 L1252.0 1067.5 L1252.5 1058.0 L1253.0 1056.6 L1253.5 1054.7 L1254.0 1059.4 L1254.5 1070.4 L1255.0 1050.7 L1255.5 1067.4 L1256.0 1068.8 L1256.5 1063.6 L1257.0 1061.0 L1257.5 1062.2 L1258.0 1077.4 L1258.5 1075.9 L1259.0 1072.6 L1259.5 1072.0 L1260.0 1063.9 L1260.5 1057.2 L1261.0 1066.5 L1261.5 1072.4 L1262.0 1076.6 L1262.5 1058.7 L1263.0 1062.1 L1263.5 1064.1 L1264.0 1080.6 L1264.5 1074.1 L1265.0 1074.0 L1265.5 1066.0 L1266.0 1080.2 L1266.5 1073.3 L1267.0 1070.7 L1267.5 1070.6 L1268.0 1073.3 L1268.5 1089.9 L1269.0 1076.2 L1269.5 1070.7 L1270.0 1080.6 L1270.5 1086.7 L1271.0 1069.6 L1271.5 1084.5 L1272.0 1062.4 L1272.5 1086.8 L1273.0 1085.1 L1273.5 1066.2 L1274.0 1078.3 L1274.5 1084.1 L1275.0 1090.6 L1275.5 1085.7 L1276.0 1077.1 L1276.5 1087.2 L1277.0 1079.9 L1277.5 1078.8 L1278.0 1095.4 L1278.5 1088.5 L1279.0 1085.2 L1279.5 1066.5 L1280.0 1070.2 L1280.5 1065.7 L1281.0 1088.1 L1281.5 1081.8 L1282.0 1084.3 L1282.5 1086.2 L1283.0 1073.4 L1283.5 1063.1 L1284.0 1072.5 L1284.5 1083.3 L1285.0 1082.1 L1285.5 1079.2 L1286.0 1088.5 L1286.5 1071.9 L1287.0 1094.7 L1287.5 1069.7 L1288.0 1074.0 L1288.5 1060.9 L1289.0 1080.0 L1289.5 1093.9 L1290.0 1088.9 L1290.5 1085.3 L1291.0 1095.1 L1291.5 1084.1 L1292.0 1078.9 L1292.5 1070.8 L1293.0 1066.7 L1293.5 1086.0 L1294.0 1067.4 L1294.5 1072.6 L1295.0 1074.7 L1295.5 1074.7 L1296.0 1083.9 L1296.5 1072.1 L1297.0 1071.7 L1297.5 1082.8 L1298.0 1072.8 L1298.5 1075.3 L1299.0 1084.2 L1299.5 1076.6 L1300.0 1071.4 L1300.5 1087.4 L1301.0 1072.3 L1301.5 1082.0 L1302.0 1077.9 L1302.5 1082.6 L1303.0 1086.0 L1303.5 1084.2 L1304.0 1073.8 L1304.5 1079.9 L1305.0 1073.7 L1305.5 1091.4 L1306.0 1079.2 L1306.5 1087.0 L1307.0 1058.4 L1307.5 1082.4 L1308.0 1077.3 L1308.5 1080.7 L1309.0 1067.4 L1309.5 1070.1 L1310.0 1073.1 L1310.5 1075.8 L1311.0 1074.1 L1311.5 1081.8 L1312.0 1080.8 L1312.5 1089.2 L1313.0 1067.4 L1313.5 1068.0 L1314.0 1082.6 L1314.5 1074.7 L1315.0 1068.7 L1315.5 1074.6 L1316.0 1077.6 L1316.5 1061.9 L1317.0 1081.9 L1317.5 1065.1 L1318.0 1081.7 L1318.5 1079.5 L1319.0 1063.3 L1319.5 1070.2 L1320.0 1071.8 L1320.5 1068.4 L1321.0 1064.4 L1321.5 1065.3 L1322.0 1077.8 L1322.5 1069.4 L1323.0 1058.6 L1323.5 1067.4 L1324.0 1067.2 L1324.5 1070.2 L1325.0 1070.5 L1325.5 1045.7 L1326.0 1059.5 L1326.5 1049.1 L1327.0 1047.4 L1327.5 1044.2 L1328.0 1036.4 L1328.5 1032.4 L1329.0 1029.3 L1329.5 1024.4 L1330.0 1029.0 L1330.5 1034.7 L1331.0 1037.1 L1331.5 1040.0 L1332.0 1046.9 L1332.5 1051.4 L1333.0 1065.8 L1333.5 1050.7 L1334.0 1047.4 L1334.5 1067.0 L1335.0 1074.8 L1335.5 1063.4 L1336.0 1090.1 L1336.5 1079.3 L1337.0 1063.8 L1337.5 1073.7 L1338.0 1072.5 L1338.5 1084.0 L1339.0 1076.4 L1339.5 1095.8 L1340.0 1079.5 L1340.5 1069.5 L1341.0 1080.6 L1341.5 1083.1 L1342.0 1093.2 L1342.5 1080.7 L1343.0 1066.5 L1343.5 1064.1 L1344.0 1095.1 L1344.5 1075.6 L1345.0 1074.5 L1345.5 1082.2 L1346.0 1085.6 L1346.5 1089.4 L1347.0 1092.2 L1347.5 1084.8 L1348.0 1072.2 L1348.5 1088.9 L1349.0 1069.9 L1349.5 1085.2 L1350.0 1093.4 L1350.5 1091.0 L1351.0 1069.9 L1351.5 1087.0 L1352.0 1081.6 L1352.5 1067.1 L1353.0 1081.7 L1353.5 1082.1 L1354.0 1077.3 L1354.5 1080.4 L1355.0 1091.8 L1355.5 1088.2 L1356.0 1090.5 L1356.5 1078.5 L1357.0 1092.5 L1357.5 1098.0 L1358.0 1090.7 L1358.5 1085.0 L1359.0 1083.0 L1359.5 1088.0 L1360.0 1080.9 L1360.5 1091.3 L1361.0 1086.1 L1361.5 1088.5 L1362.0 1085.9 L1362.5 1085.4 L1363.0 1080.1 L1363.5 1088.4 L1364.0 1075.3 L1364.5 1084.2 L1365.0 1085.2 L1365.5 1095.1 L1366.0 1094.8 L1366.5 1085.3 L1367.0 1092.8 L1367.5 1082.3 L1368.0 1081.0 L1368.5 1083.1 L1369.0 1089.9 L1369.5 1084.9 L1370.0 1073.2 L1370.5 1092.3 L1371.0 1088.4 L1371.5 1090.1 L1372.0 1088.9 L1372.5 1081.6 L1373.0 1092.5 L1373.5 1087.4 L1374.0 1088.7 L1374.5 1085.1 L1375.0 1100.3 L1375.5 1089.5 L1376.0 1100.7 L1376.5 1094.8 L1377.0 1075.9 L1377.5 1092.5 L1378.0 1095.6 L1378.5 1085.9 L1379.0 1076.8 L1379.5 1098.0 L1380.0 1088.3 L1380.5 1078.7 L1381.0 1097.2 L1381.5 1095.8 L1382.0 1110.3 L1382.5 1088.7 L1383.0 1093.3 L1383.5 1088.6 L1384.0 1098.1 L1384.5 1087.3 L1385.0 1081.0 L1385.5 1084.4 L1386.0 1082.9 L1386.5 1099.0 L1387.0 1095.6 L1387.5 1096.9 L1388.0 1076.8 L1388.5 1092.7 L1389.0 1085.1 L1389.5 1076.1 L1390.0 1099.4 L1390.5 1082.8 L1391.0 1091.5 L1391.5 1096.3 L1392.0 1070.7 L1392.5 1068.4 L1393.0 1090.5 L1393.5 1072.6 L1394.0 1089.3 L1394.5 1069.4 L1395.0 1072.5 L1395.5 1094.6 L1396.0 1091.6 L1396.5 1083.7 L1397.0 1085.5 L1397.5 1069.9 L1398.0 1076.7 L1398.5 1063.2 L1399.0 1092.5 L1399.5 1079.9 L1400.0 1063.8 L1400.5 1072.7 L1401.0 1090.9 L1401.5 1082.5 L1402.0 1082.4 L1402.5 1078.7 L1403.0 1071.6 L1403.5 1063.5 L1404.0 1080.6 L1404.5 1078.6 L1405.0 1084.1 L1405.5 1077.9 L1406.0 1075.3 L1406.5 1071.6 L1407.0 1072.5 L1407.5 1081.5 L1408.0 1094.2 L1408.5 1073.9 L1409.0 1084.9 L1409.5 1089.1 L1410.0 1073.6 L1410.5 1083.1 L1411.0 1081.9 L1411.5 1083.1 L1412.0 1085.2 L1412.5 1082.3 L1413.0 1082.4 L1413.5 1066.3 L1414.0 1083.7 L1414.5 1090.7 L1415.0 1087.6 L1415.5 1094.7 L1416.0 1097.1 L1416.5 1089.6 L1417.0 1072.4 L1417.5 1092.8 L1418.0 1092.5 L1418.5 1080.1 L1419.0 1077.0 L1419.5 1082.3 L1420.0 1093.3 L1420.5 1083.8 L1421.0 1089.3 L1421.5 1079.9 L1422.0 1075.6 L1422.5 1079.7 L1423.0 1083.6 L1423.5 1077.7 L1424.0 1076.9 L1424.5 1078.5 L1425.0 1089.9 L1425.5 1101.3 L1426.0 1095.2 L1426.5 1088.8 L1427.0 1071.5 L1427.5 1094.6 L1428.0 1081.5 L1428.5 1076.0 L1429.0 1073.9 L1429.5 1085.2 L1430.0 1075.0 L1430.5 1082.9 L1431.0 1096.7 L1431.5 1096.7 L1432.0 1084.0 L1432.5 1076.0 L1433.0 1081.5 L1433.5 1097.6 L1434.0 1094.8 L1434.5 1101.0 L1435.0 1078.0 L1435.5 1094.9 L1436.0 1102.4 L1436.5 1092.5 L1437.0 1087.1 L1437.5 1088.4 L1438.0 1083.2 L1438.5 1074.7 L1439.0 1098.4 L1439.5 1077.9 L1440.0 1091.0 L1440.5 1082.6 L1441.0 1078.8 L1441.5 1095.9 L1442.0 1080.9 L1442.5 1071.9 L1443.0 1091.5 L1443.5 1095.6 L1444.0 1096.1 L1444.5 1090.7 L1445.0 1095.9 L1445.5 1082.6 L1446.0 1090.8 L1446.5 1087.1 L1447.0 1076.4 L1447.5 1088.5 L1448.0 1088.8 L1448.5 1081.0 L1449.0 1073.9 L1449.5 1083.8 L1450.0 1085.7 L1450.5 1081.6 L1451.0 1087.6 L1451.5 1089.4 L1452.0 1092.6 L1452.5 1090.4 L1453.0 1094.1 L1453.5 1080.2 L1454.0 1093.8 L1454.5 1086.3 L1455.0 1077.0 L1455.5 1090.5 L1456.0 1087.6 L1456.5 1087.4 L1457.0 1100.2 L1457.5 1101.5 L1458.0 1100.3 L1458.5 1096.8 L1459.0 1090.5 L1459.5 1092.2 L1460.0 1077.9 L1460.5 1090.4 L1461.0 1086.6 L1461.5 1103.8 L1462.0 1080.3 L1462.5 1092.4 L1463.0 1091.7 L1463.5 1109.3 L1464.0 1087.8 L1464.5 1095.1 L1465.0 1089.7 L1465.5 1094.7 L1466.0 1089.9 L1466.5 1097.7 L1467.0 1087.2 L1467.5 1104.6 L1468.0 1097.2 L1468.5 1099.7 L1469.0 1097.6 L1469.5 1097.5 L1470.0 1094.7 L1470.5 1089.1 L1471.0 1093.3 L1471.5 1083.0 L1472.0 1096.7 L1472.5 1087.1 L1473.0 1082.3 L1473.5 1081.7 L1474.0 1074.7 L1474.5 1093.0 L1475.0 1074.6 L1475.5 1083.0 L1476.0 1085.3 L1476.5 1087.5 L1477.0 1089.1 L1477.5 1072.6 L1478.0 1072.1 L1478.5 1082.5 L1479.0 1085.5 L1479.5 1069.7 L1480.0 1085.6 L1480.5 1087.8 L1481.0 1084.4 L1481.5 1076.5 L1482.0 1086.5 L1482.5 1083.7 L1483.0 1058.0 L1483.5 1093.5 L1484.0 1077.6 L1484.5 1097.1 L1485.0 1078.7 L1485.5 1080.8 L1486.0 1071.0 L1486.5 1092.8 L1487.0 1088.9 L1487.5 1091.8 L1488.0 1086.9 L1488.5 1087.6 L1489.0 1087.8 L1489.5 1083.6 L1490.0 1089.5 L1490.5 1096.0 L1491.0 1096.0 L1491.5 1086.6 L1492.0 1093.1 L1492.5 1094.3 L1493.0 1087.6 L1493.5 1101.1 L1494.0 1098.0 L1494.5 1088.5 L1495.0 1103.1 L1495.5 1087.4 L1496.0 1099.6 L1496.5 1098.3 L1497.0 1084.3 L1497.5 1097.8 L1498.0 1101.2 L1498.5 1086.1 L1499.0 1091.5 L1499.5 1090.5 L1500.0 1087.1 L1500.5 1092.9 L1501.0 1084.5 L1501.5 1091.1 L1502.0 1090.5 L1502.5 1078.8 L1503.0 1090.5 L1503.5 1083.6 L1504.0 1082.4 L1504.5 1091.9 L1505.0 1081.2 L1505.5 1075.8 L1506.0 1082.5 L1506.5 1084.5 L1507.0 1085.8 L1507.5 1074.2 L1508.0 1080.9 L1508.5 1083.7 L1509.0 1064.3 L1509.5 1100.3 L1510.0 1081.9 L1510.5 1098.1 L1511.0 1083.0 L1511.5 1063.3 L1512.0 1079.7 L1512.5 1088.8 L1513.0 1076.6 L1513.5 1082.7 L1514.0 1085.7 L1514.5 1088.0 L1515.0 1090.1 L1515.5 1102.2 L1516.0 1091.2 L1516.5 1087.6 L1517.0 1091.2 L1517.5 1086.2 L1518.0 1091.6 L1518.5 1092.5 L1519.0 1090.6 L1519.5 1093.9 L1520.0 1091.1 L1520.5 1090.4 L1521.0 1097.5 L1521.5 1081.6 L1522.0 1087.7 L1522.5 1091.5 L1523.0 1091.3 L1523.5 1100.2 L1524.0 1101.9 L1524.5 1095.1 L1525.0 1084.5 L1525.5 1094.0 L1526.0 1083.3 L1526.5 1088.8 L1527.0 1085.1 L1527.5 1079.2 L1528.0 1081.4 L1528.5 1094.8 L1529.0 1093.8 L1529.5 1078.7 L1530.0 1089.2 L1530.5 1090.0 L1531.0 1093.8 L1531.5 1091.4 L1532.0 1093.3 L1532.5 1088.0 L1533.0 1098.4 L1533.5 1095.6 L1534.0 1080.5 L1534.5 1081.6 L1535.0 1093.0 L1535.5 1095.2 L1536.0 1088.3 L1536.5 1084.9 L1537.0 1095.3 L1537.5 1085.2 L1538.0 1092.0 L1538.5 1089.2 L1539.0 1093.1 L1539.5 1079.8 L1540.0 1090.7 L1540.5 1100.1 L1541.0 1093.8 L1541.5 1086.6 L1542.0 1109.9 L1542.5 1090.9 L1543.0 1083.7 L1543.5 1085.0 L1544.0 1089.5 L1544.5 1094.9 L1545.0 1078.8 L1545.5 1093.6 L1546.0 1105.0 L1546.5 1090.6 L1547.0 1101.8 L1547.5 1103.6 L1548.0 1095.1 L1548.5 1095.1 L1549.0 1098.9 L1549.5 1089.5 L1550.0 1093.6 L1550.5 1102.7 L1551.0 1081.9 L1551.5 1092.4 L1552.0 1092.1 L1552.5 1105.5 L1553.0 1098.2 L1553.5 1092.8 L1554.0 1098.1 L1554.5 1083.5 L1555.0 1093.6 L1555.5 1083.8 L1556.0 1090.0 L1556.5 1085.2 L1557.0 1095.0 L1557.5 1104.2 L1558.0 1099.4 L1558.5 1090.1 L1559.0 1079.6 L1559.5 1099.6 L1560.0 1088.7 L1560.5 1081.6 L1561.0 1083.4 L1561.5 1092.1 L1562.0 1096.1 L1562.5 1081.9 L1563.0 1078.1 L1563.5 1080.3 L1564.0 1079.7 L1564.5 1068.0 L1565.0 1070.4 L1565.5 1071.5 L1566.0 1077.4 L1566.5 1085.1 L1567.0 1071.4 L1567.5 1082.9 L1568.0 1088.4 L1568.5 1066.0 L1569.0 1078.5 L1569.5 1074.6 L1570.0 1084.4 L1570.5 1082.0 L1571.0 1075.8 L1571.5 1094.2 L1572.0 1079.1 L1572.5 1085.0 L1573.0 1093.5 L1573.5 1100.1 L1574.0 1086.8 L1574.5 1106.4 L1575.0 1100.6 L1575.5 1089.8 L1576.0 1084.7 L1576.5 1106.0 L1577.0 1093.8 L1577.5 1094.6 L1578.0 1097.3 L1578.5 1092.1 L1579.0 1101.7 L1579.5 1088.6 L1580.0 1095.4 L1580.5 1091.0 L1581.0 1093.4 L1581.5 1101.0 L1582.0 1094.8 L1582.5 1102.1 L1583.0 1095.8 L1583.5 1103.1 L1584.0 1090.9 L1584.5 1096.3 L1585.0 1105.0 L1585.5 1100.4 L1586.0 1098.2 L1586.5 1102.1 L1587.0 1098.7 L1587.5 1098.9 L1588.0 1099.9 L1588.5 1091.3 L1589.0 1099.8 L1589.5 1108.6 L1590.0 1102.5 L1590.5 1094.9 L1591.0 1107.0 L1591.5 1091.6 L1592.0 1094.7 L1592.5 1106.4 L1593.0 1103.8 L1593.5 1102.8 L1594.0 1106.1 L1594.5 1106.2 L1595.0 1099.7 L1595.5 1098.3 L1596.0 1096.3 L1596.5 1102.0 L1597.0 1106.8 L1597.5 1106.1 L1598.0 1094.6 L1598.5 1100.5 L1599.0 1108.9 L1599.5 1088.7 L1600.0 1101.0 L1600.5 1104.7 L1601.0 1104.0 L1601.5 1087.2 L1602.0 1103.4 L1602.5 1100.5 L1603.0 1095.5 L1603.5 1103.2 L1604.0 1103.3 L1604.5 1096.7 L1605.0 1094.2 L1605.5 1097.9 L1606.0 1110.2 L1606.5 1098.3 L1607.0 1092.0 L1607.5 1098.2 L1608.0 1091.9 L1608.5 1100.0 L1609.0 1108.4 L1609.5 1099.6 L1610.0 1097.5 L1610.5 1099.7 L1611.0 1091.0 L1611.5 1093.5 L1612.0 1091.8 L1612.5 1100.0 L1613.0 1098.2 L1613.5 1098.0 L1614.0 1113.5 L1614.5 1102.8 L1615.0 1107.7 L1615.5 1100.0 L1616.0 1085.6 L1616.5 1104.1 L1617.0 1087.5 L1617.5 1098.8 L1618.0 1084.8 L1618.5 1096.3 L1619.0 1099.6 L1619.5 1113.9 L1620.0 1097.8 L1620.5 1106.6 L1621.0 1098.6 L1621.5 1103.3 L1622.0 1095.0 L1622.5 1102.7 L1623.0 1096.1 L1623.5 1097.3 L1624.0 1100.0 L1624.5 1102.1 L1625.0 1110.0 L1625.5 1110.9 L1626.0 1096.8 L1626.5 1093.6 L1627.0 1104.5 L1627.5 1106.4 L1628.0 1101.1 L1628.5 1105.2 L1629.0 1105.8 L1629.5 1098.2 L1630.0 1094.3 L1630.5 1110.8 L1631.0 1110.1 L1631.5 1097.8 L1632.0 1104.5 L1632.5 1101.3 L1633.0 1102.7 L1633.5 1099.2 L1634.0 1094.9 L1634.5 1098.2 L1635.0 1110.4 L1635.5 1103.7 L1636.0 1097.5 L1636.5 1113.2 L1637.0 1098.4 L1637.5 1104.8 L1638.0 1093.1 L1638.5 1105.0 L1639.0 1108.3 L1639.5 1097.9 L1640.0 1102.9 L1640.5 1094.9 L1641.0 1106.6 L1641.5 1109.6 L1642.0 1105.6 L1642.5 1103.9 L1643.0 1109.3 L1643.5 1106.8 L1644.0 1112.9 L1644.5 1108.8 L1645.0 1113.9 L1645.5 1094.7 L1646.0 1104.0 L1646.5 1092.0 L1647.0 1102.2 L1647.5 1108.3 L1648.0 1109.4 L1648.5 1101.0 L1649.0 1106.0 L1649.5 1101.2 L1650.0 1104.4 L1650.5 1115.4 L1651.0 1112.1 L1651.5 1108.1 L1652.0 1112.2 L1652.5 1108.7 L1653.0 1094.2 L1653.5 1103.7 L1654.0 1107.1 L1654.5 1098.8 L1655.0 1105.4 L1655.5 1097.9 L1656.0 1112.6 L1656.5 1096.6 L1657.0 1111.3 L1657.5 1104.3 L1658.0 1093.9 L1658.5 1102.2 L1659.0 1104.5 L1659.5 1090.5 L1660.0 1101.4 L1660.5 1103.1 L1661.0 1089.9 L1661.5 1099.9 L1662.0 1096.7 L1662.5 1087.3 L1663.0 1098.5 L1663.5 1115.4 L1664.0 1093.7 L1664.5 1100.3 L1665.0 1086.4 L1665.5 1108.0 L1666.0 1098.5 L1666.5 1103.8 L1667.0 1098.2 L1667.5 1104.0 L1668.0 1095.0 L1668.5 1104.4 L1669.0 1103.4 L1669.5 1104.0 L1670.0 1090.0 L1670.5 1099.1 L1671.0 1096.7 L1671.5 1112.2 L1672.0 1106.4 L1672.5 1095.4 L1673.0 1093.7 L1673.5 1099.1 L1673.8 1091.4 L1674.0 1092.7 L1674.5 1094.1 L1675.0 1090.3 L1675.5 1110.8 L1676.0 1086.5 L1676.5 1094.4 L1677.0 1114.4 L1677.5 1097.6 L1678.0 1100.9 L1678.5 1104.0 L1679.0 1087.3 L1679.5 1099.1 L1680.0 1105.0 L1680.5 1084.9 L1681.0 1115.5 L1681.5 1111.2 L1682.0 1092.4 L1682.5 1098.3 L1683.0 1108.9 L1683.5 1098.6 L1684.0 1101.3 L1684.5 1106.9 L1685.0 1090.5 L1685.5 1108.8 L1686.0 1109.5 L1686.5 1105.6 L1687.0 1102.4 L1687.5 1111.3 L1688.0 1099.8 L1688.5 1106.0 L1689.0 1101.9 L1689.5 1092.0 L1690.0 1105.6 L1690.5 1104.0 L1691.0 1103.4 L1691.5 1105.8 L1692.0 1100.0 L1692.5 1098.1 L1693.0 1102.9 L1693.5 1108.0 L1694.0 1098.5 L1694.5 1109.9 L1695.0 1098.4 L1695.5 1101.9 L1696.0 1104.6 L1696.5 1098.6 L1697.0 1105.5 L1697.5 1094.2 L1698.0 1104.5 L1698.5 1097.5 L1699.0 1108.2 L1699.5 1098.1 L1700.0 1107.8 L1700.5 1099.2 L1701.0 1110.0 L1701.5 1102.3 L1702.0 1107.3 L1702.5 1104.1 L1703.0 1104.7 L1703.5 1103.4 L1704.0 1095.8 L1704.5 1104.2 L1705.0 1103.4 L1705.5 1099.9 L1706.0 1111.1 L1706.5 1096.0 L1707.0 1106.2 L1707.5 1090.0 L1708.0 1095.7 L1708.5 1083.6 L1709.0 1101.6 L1709.5 1094.9 L1710.0 1081.4 L1710.5 1100.0 L1711.0 1096.1 L1711.5 1091.0 L1712.0 1093.6 L1712.5 1083.6 L1713.0 1098.3 L1713.5 1071.0 L1714.0 1092.0 L1714.5 1084.9 L1715.0 1085.1 L1715.5 1084.0 L1716.0 1086.5 L1716.5 1093.7 L1717.0 1094.6 L1717.5 1098.2 L1718.0 1100.4 L1718.5 1102.9 L1719.0 1091.5 L1719.5 1097.0 L1720.0 1110.2 L1720.5 1102.1 L1721.0 1110.3 L1721.5 1098.5 L1722.0 1099.6 L1722.5 1104.5 L1723.0 1100.4 L1723.5 1106.1 L1724.0 1102.2 L1724.5 1105.0 L1725.0 1097.7" stroke="#ff00ff" stroke-width="6.0"/>
</g>
<g fill="none" stroke-width="7.3" stroke-linecap="round">
<path d="M228.6 80.5 H387" stroke="#000"/>
<path d="M228.6 170.1 H387" stroke="#ff0000"/>
<path d="M228.6 259.7 H387" stroke="#0000ff"/>
<path d="M228.6 349.3 H387" stroke="#ff00ff"/>
</g>
<g font-family="'Liberation Sans', Arial, sans-serif" font-weight="bold" fill="#000">
<text x="406" y="104.0" font-size="71.5">MPA</text>
<text x="406" y="193.5" font-size="71.5">KCC-1</text>
<text x="406" y="283.0" font-size="71.5">MPA-KCC-1</text>
<text x="406" y="372.5" font-size="71.5">IMPA-KCC-1</text>
<text x="346.6" y="1442" font-size="66" text-anchor="middle">10</text>
<text x="597.3" y="1442" font-size="66" text-anchor="middle">20</text>
<text x="848.0" y="1442" font-size="66" text-anchor="middle">30</text>
<text x="1098.8" y="1442" font-size="66" text-anchor="middle">40</text>
<text x="1349.5" y="1442" font-size="66" text-anchor="middle">50</text>
<text x="1600.2" y="1442" font-size="66" text-anchor="middle">60</text>
<text x="972.5" y="1566" font-size="77.4" text-anchor="middle">2 theta (degree)</text>
<text transform="translate(88.2 745) rotate(-90)" font-size="77" text-anchor="middle">Intensity (a.u.)</text>
</g>
</svg>
</body></html>
